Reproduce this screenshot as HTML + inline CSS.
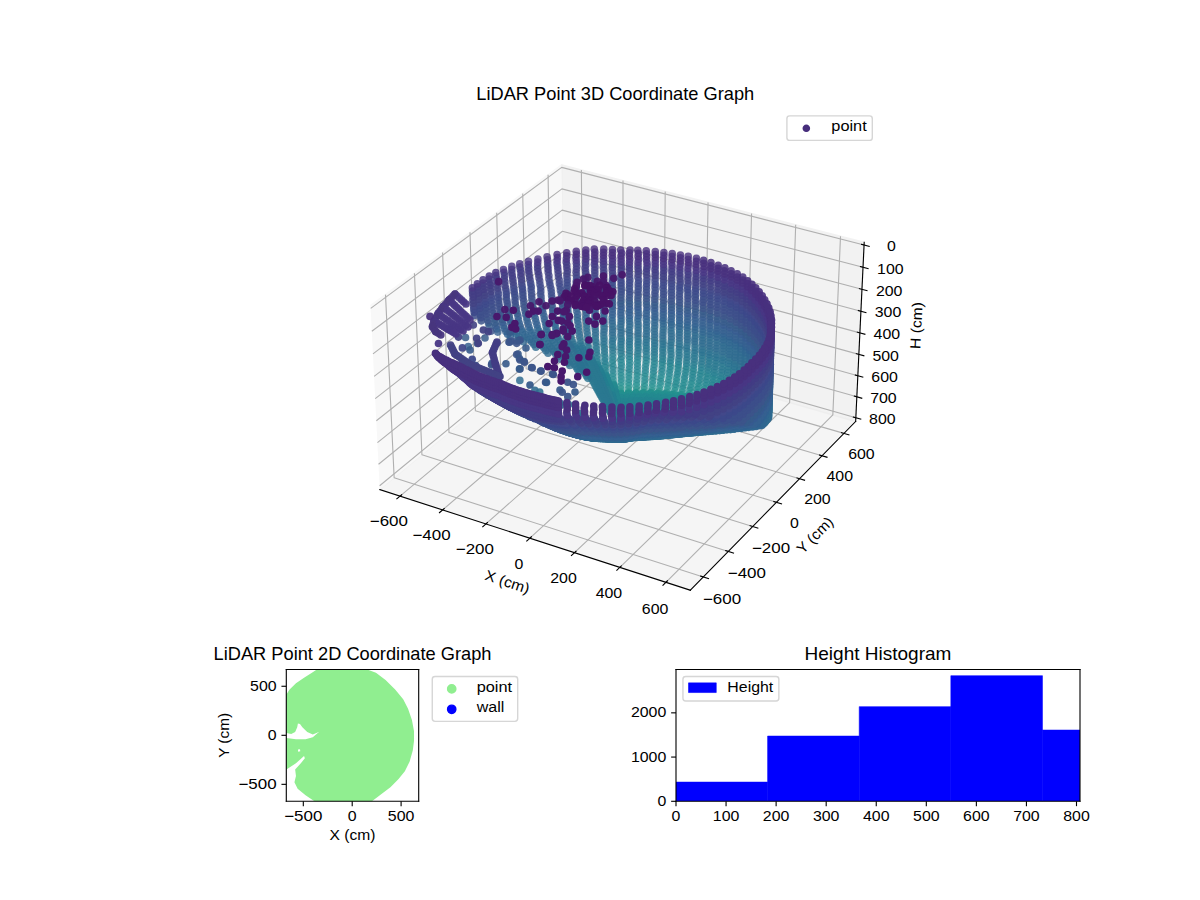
<!DOCTYPE html>
<html><head><meta charset="utf-8"><title>LiDAR Point Graphs</title><style>html,body{margin:0;padding:0;background:#fff;overflow:hidden}svg{display:block}</style></head><body>
<svg width="1200" height="900" viewBox="0 0 864 648" version="1.1">
<defs>
<style type="text/css">.dd path{stroke-linecap:round}.k0{stroke:#249090;stroke-opacity:0.65}.k1{stroke:#248490;stroke-opacity:0.65}.k2{stroke:#24908a;stroke-opacity:0.65}.k3{stroke:#24908a;stroke-opacity:0.70}.k4{stroke:#248490;stroke-opacity:0.70}.k5{stroke:#249090;stroke-opacity:0.70}.k6{stroke:#2a7e90;stroke-opacity:0.70}.k7{stroke:#2a7890;stroke-opacity:0.70}.k8{stroke:#248a90;stroke-opacity:0.70}.k9{stroke:#307290;stroke-opacity:0.70}.k10{stroke:#306c90;stroke-opacity:0.70}.k11{stroke:#248a90;stroke-opacity:0.75}.k12{stroke:#306c90;stroke-opacity:0.75}.k13{stroke:#306690;stroke-opacity:0.75}.k14{stroke:#306090;stroke-opacity:0.75}.k15{stroke:#366090;stroke-opacity:0.80}.k16{stroke:#365a8a;stroke-opacity:0.80}.k17{stroke:#366090;stroke-opacity:0.85}.k18{stroke:#483684;stroke-opacity:0.85}.k19{stroke:#365a8a;stroke-opacity:0.85}.k20{stroke:#306c90;stroke-opacity:0.85}.k21{stroke:#3c4e8a;stroke-opacity:0.85}.k22{stroke:#366090;stroke-opacity:0.90}.k23{stroke:#3c548a;stroke-opacity:0.90}.k24{stroke:#307290;stroke-opacity:0.90}.k25{stroke:#365a8a;stroke-opacity:0.90}.k26{stroke:#2a7290;stroke-opacity:0.90}.k27{stroke:#2a7890;stroke-opacity:0.90}.k28{stroke:#306c90;stroke-opacity:0.90}.k29{stroke:#424284;stroke-opacity:0.90}.k30{stroke:#365a8a;stroke-opacity:0.95}.k31{stroke:#424284;stroke-opacity:0.95}.k32{stroke:#3c548a;stroke-opacity:0.95}.k33{stroke:#306c90;stroke-opacity:0.95}.k34{stroke:#3c488a;stroke-opacity:0.95}.k35{stroke:#306690;stroke-opacity:0.95}.k36{stroke:#3c4e8a;stroke-opacity:0.95}.k37{stroke:#366090;stroke-opacity:0.95}.k38{stroke:#483684;stroke-opacity:0.95}.k39{stroke:#424284;stroke-opacity:1.00}.k40{stroke:#3c488a;stroke-opacity:1.00}.k41{stroke:#48186c;stroke-opacity:1.00}.k42{stroke:#248a90;stroke-opacity:0.65}.k43{stroke:#247e90;stroke-opacity:0.70}.k44{stroke:#2a7290;stroke-opacity:0.70}.k45{stroke:#366090;stroke-opacity:0.75}.k46{stroke:#306090;stroke-opacity:0.80}.k47{stroke:#48367e;stroke-opacity:0.85}.k48{stroke:#423c84;stroke-opacity:0.95}.k49{stroke:#307290;stroke-opacity:0.95}.k50{stroke:#42488a;stroke-opacity:0.95}.k51{stroke:#42488a;stroke-opacity:1.00}.k52{stroke:#1e908a;stroke-opacity:0.65}.k53{stroke:#248490;stroke-opacity:0.75}.k54{stroke:#306690;stroke-opacity:0.80}.k55{stroke:#365a90;stroke-opacity:0.80}.k56{stroke:#3c548a;stroke-opacity:0.80}.k57{stroke:#3c548a;stroke-opacity:0.85}.k58{stroke:#306690;stroke-opacity:0.70}.k59{stroke:#2a7290;stroke-opacity:0.95}.k60{stroke:#306090;stroke-opacity:0.95}.k61{stroke:#307290;stroke-opacity:0.75}.k62{stroke:#365a90;stroke-opacity:0.75}.k63{stroke:#3c4e8a;stroke-opacity:0.80}.k64{stroke:#483684;stroke-opacity:0.90}.k65{stroke:#3c548a;stroke-opacity:1.00}.k66{stroke:#247e90;stroke-opacity:0.65}.k67{stroke:#306090;stroke-opacity:0.70}.k68{stroke:#2a7890;stroke-opacity:0.75}.k69{stroke:#2a7290;stroke-opacity:0.75}.k70{stroke:#365a8a;stroke-opacity:0.75}.k71{stroke:#2a7e90;stroke-opacity:0.65}.k72{stroke:#366090;stroke-opacity:0.70}.k73{stroke:#247e90;stroke-opacity:0.75}.k74{stroke:#48367e;stroke-opacity:0.90}.k75{stroke:#365a8a;stroke-opacity:1.00}.k76{stroke:#3c4e8a;stroke-opacity:1.00}.k77{stroke:#2a7890;stroke-opacity:0.65}.k78{stroke:#2a7e90;stroke-opacity:0.75}.k79{stroke:#3c548a;stroke-opacity:0.75}.k80{stroke:#306c90;stroke-opacity:0.80}.k81{stroke:#3c488a;stroke-opacity:0.85}.k82{stroke:#48186c;stroke-opacity:0.95}.k83{stroke:#3c4e8a;stroke-opacity:0.75}.k84{stroke:#248490;stroke-opacity:0.80}.k85{stroke:#3c488a;stroke-opacity:0.80}.k86{stroke:#307290;stroke-opacity:0.80}.k87{stroke:#247e90;stroke-opacity:0.80}.k88{stroke:#42488a;stroke-opacity:0.85}.k89{stroke:#2a7890;stroke-opacity:0.80}.k90{stroke:#2a7290;stroke-opacity:0.80}.k91{stroke:#2a7e90;stroke-opacity:0.80}.k92{stroke:#42488a;stroke-opacity:0.80}.k93{stroke:#424284;stroke-opacity:0.85}.k94{stroke:#3c488a;stroke-opacity:0.75}.k95{stroke:#424284;stroke-opacity:0.80}.k96{stroke:#423c84;stroke-opacity:0.85}.k97{stroke:#42488a;stroke-opacity:0.75}.k98{stroke:#423c84;stroke-opacity:0.80}.k99{stroke:#423c84;stroke-opacity:1.00}.k100{stroke:#424284;stroke-opacity:0.75}.k101{stroke:#2a7890;stroke-opacity:0.85}.k102{stroke:#483684;stroke-opacity:0.80}.k103{stroke:#423c84;stroke-opacity:0.75}.k104{stroke:#2a7e90;stroke-opacity:0.85}.k105{stroke:#2a7290;stroke-opacity:0.85}.k106{stroke:#481266;stroke-opacity:0.95}.k107{stroke:#307290;stroke-opacity:0.85}.k108{stroke:#48367e;stroke-opacity:0.80}.k109{stroke:#483684;stroke-opacity:1.00}.k110{stroke:#48307e;stroke-opacity:0.80}.k111{stroke:#306690;stroke-opacity:0.85}.k112{stroke:#48307e;stroke-opacity:0.95}.k113{stroke:#306090;stroke-opacity:0.85}.k114{stroke:#48367e;stroke-opacity:0.95}.k115{stroke:#365a90;stroke-opacity:0.85}.k116{stroke:#48367e;stroke-opacity:1.00}.k117{stroke:#247e90;stroke-opacity:0.85}.k118{stroke:#48307e;stroke-opacity:1.00}.k119{stroke:#306690;stroke-opacity:0.90}.k120{stroke:#306090;stroke-opacity:0.90}.k121{stroke:#365a90;stroke-opacity:0.90}.k122{stroke:#248490;stroke-opacity:0.85}.k123{stroke:#3c4e8a;stroke-opacity:0.90}.k124{stroke:#48307e;stroke-opacity:0.85}.k125{stroke:#3c488a;stroke-opacity:0.90}.k126{stroke:#42488a;stroke-opacity:0.90}.k127{stroke:#423c84;stroke-opacity:0.90}.k128{stroke:#48307e;stroke-opacity:0.90}.k129{stroke:#365a90;stroke-opacity:0.95}.k130{stroke:#481266;stroke-opacity:1.00}.k131{stroke:#2a7e90;stroke-opacity:0.90}.k132{stroke:#2a7890;stroke-opacity:0.95}.k133{stroke:#366090;stroke-opacity:1.00}.k134{stroke:#365a90;stroke-opacity:1.00}.k135{stroke:#306090;stroke-opacity:1.00}.k136{stroke:#306690;stroke-opacity:1.00}*{stroke-linejoin: round; stroke-linecap: butt}</style>
</defs>
<g id="figure_1">
<g id="patch_1">
<path d="M 0 648 
L 864 648 
L 864 0 
L 0 0 
z
" style="fill: #ffffff"/>
</g>
<g id="patch_2">
<path d="M 252.9072 458.5752 
L 633.0672 458.5752 
L 633.0672 78.4152 
L 252.9072 78.4152 
z
" style="fill: #ffffff"/>
</g>
<g id="pane3d_1">
<g id="patch_3">
<path d="M 266.799754 220.062721 
L 404.365597 118.692097 
L 405.83635 243.181204 
L 273.465383 352.493935 
" style="fill: #f2f2f2; opacity: 0.5; stroke: #f2f2f2; stroke-linejoin: miter"/>
</g>
</g>
<g id="pane3d_2">
<g id="patch_4">
<path d="M 404.365597 118.692097 
L 622.223167 174.50789 
L 616.069208 303.458314 
L 405.83635 243.181204 
" style="fill: #e6e6e6; opacity: 0.5; stroke: #e6e6e6; stroke-linejoin: miter"/>
</g>
</g>
<g id="pane3d_3">
<g id="patch_5">
<path d="M 273.465383 352.493935 
L 497.003725 424.95138 
L 616.069208 303.458314 
L 405.83635 243.181204 
" style="fill: #ececec; opacity: 0.5; stroke: #ececec; stroke-linejoin: miter"/>
</g>
</g>
<g id="grid3d_1">
<g id="Line3DCollection_1">
<path d="M 288.029684 357.21479 
L 419.59607 247.126335 
L 418.600397 122.339097 
" style="fill: none; stroke: #b0b0b0; stroke-width: 0.8"/>
<path d="M 318.69517 367.154663 
L 448.53898 255.424729 
L 448.553552 130.01319 
" style="fill: none; stroke: #b0b0b0; stroke-width: 0.8"/>
<path d="M 349.840551 377.250089 
L 477.895324 263.84166 
L 478.949726 137.800785 
" style="fill: none; stroke: #b0b0b0; stroke-width: 0.8"/>
<path d="M 381.47718 387.504747 
L 507.674024 272.379688 
L 509.798819 145.704419 
" style="fill: none; stroke: #b0b0b0; stroke-width: 0.8"/>
<path d="M 413.616773 397.922435 
L 537.88426 281.041444 
L 541.111032 153.726706 
" style="fill: none; stroke: #b0b0b0; stroke-width: 0.8"/>
<path d="M 446.271419 408.507072 
L 568.535482 289.829637 
L 572.896871 161.870338 
" style="fill: none; stroke: #b0b0b0; stroke-width: 0.8"/>
<path d="M 479.4536 419.262704 
L 599.637416 298.747057 
L 605.167165 170.138089 
" style="fill: none; stroke: #b0b0b0; stroke-width: 0.8"/>
</g>
</g>
<g id="grid3d_2">
<g id="Line3DCollection_2">
<path d="M 277.565846 212.129317 
L 283.79378 343.964683 
L 506.335628 415.429212 
" style="fill: none; stroke: #b0b0b0; stroke-width: 0.8"/>
<path d="M 298.394948 196.780601 
L 303.791049 327.450819 
L 524.383412 397.013458 
" style="fill: none; stroke: #b0b0b0; stroke-width: 0.8"/>
<path d="M 318.668305 181.841406 
L 323.273749 311.36189 
L 541.941308 379.097581 
" style="fill: none; stroke: #b0b0b0; stroke-width: 0.8"/>
<path d="M 338.407866 167.29556 
L 342.261489 295.681702 
L 559.028994 361.6615 
" style="fill: none; stroke: #b0b0b0; stroke-width: 0.8"/>
<path d="M 357.63444 153.127727 
L 360.772894 280.394874 
L 575.665111 344.686196 
" style="fill: none; stroke: #b0b0b0; stroke-width: 0.8"/>
<path d="M 376.367768 139.323363 
L 378.825666 265.486788 
L 591.867324 328.153641 
" style="fill: none; stroke: #b0b0b0; stroke-width: 0.8"/>
<path d="M 394.626589 125.868656 
L 396.436641 250.94354 
L 607.65239 312.046739 
" style="fill: none; stroke: #b0b0b0; stroke-width: 0.8"/>
</g>
</g>
<g id="grid3d_3">
<g id="Line3DCollection_3">
<path d="M 622.132619 176.405227 
L 404.387199 120.520547 
L 266.897971 222.01409 
" style="fill: none; stroke: #b0b0b0; stroke-width: 0.8"/>
<path d="M 621.367742 192.432511 
L 404.569721 135.969789 
L 267.727473 238.494435 
" style="fill: none; stroke: #b0b0b0; stroke-width: 0.8"/>
<path d="M 620.609559 208.319513 
L 404.750726 151.290623 
L 268.549415 254.824601 
" style="fill: none; stroke: #b0b0b0; stroke-width: 0.8"/>
<path d="M 619.857984 224.068064 
L 404.930233 166.484643 
L 269.363902 271.006633 
" style="fill: none; stroke: #b0b0b0; stroke-width: 0.8"/>
<path d="M 619.11293 239.679967 
L 405.10826 181.553417 
L 270.171033 287.042535 
" style="fill: none; stroke: #b0b0b0; stroke-width: 0.8"/>
<path d="M 618.374313 255.156993 
L 405.284826 196.498488 
L 270.970908 302.93428 
" style="fill: none; stroke: #b0b0b0; stroke-width: 0.8"/>
<path d="M 617.64205 270.500883 
L 405.459948 211.321373 
L 271.763625 318.683802 
" style="fill: none; stroke: #b0b0b0; stroke-width: 0.8"/>
<path d="M 616.916059 285.713346 
L 405.633644 226.023564 
L 272.549279 334.293001 
" style="fill: none; stroke: #b0b0b0; stroke-width: 0.8"/>
<path d="M 616.19626 300.796064 
L 405.805932 240.606528 
L 273.327965 349.763745 
" style="fill: none; stroke: #b0b0b0; stroke-width: 0.8"/>
</g>
</g>
<g id="axis3d_1">
<g id="line2d_1">
<path d="M 273.465383 352.493935 
L 497.003725 424.95138 
" style="fill: none; stroke: #000000; stroke-width: 0.8; stroke-linecap: square"/>
</g>
<g id="xtick_1">
<g id="line2d_2">
<path d="M 289.18037 356.251951 
L 285.723109 359.144822 
" style="fill: none; stroke: #000000; stroke-width: 0.8; stroke-linecap: square"/>
</g>
<g id="text_1">
<text style="font-size:10.55px;font-family:'Liberation Sans',sans-serif;text-anchor:middle" textLength="27.47" lengthAdjust="spacingAndGlyphs" dy="-0.5" x="279.98567" y="379.283114" transform="rotate(-0 279.98567 379.283114)">−600</text>
</g>
</g>
<g id="xtick_2">
<g id="line2d_3">
<path d="M 319.831542 366.176821 
L 316.417248 369.114803 
" style="fill: none; stroke: #000000; stroke-width: 0.8; stroke-linecap: square"/>
</g>
<g id="text_2">
<text style="font-size:10.55px;font-family:'Liberation Sans',sans-serif;text-anchor:middle" textLength="27.47" lengthAdjust="spacingAndGlyphs" dy="-0.5" x="310.691474" y="389.369088" transform="rotate(-0 310.691474 389.369088)">−400</text>
</g>
</g>
<g id="xtick_3">
<g id="line2d_4">
<path d="M 350.962018 376.25689 
L 347.592466 379.241047 
" style="fill: none; stroke: #000000; stroke-width: 0.8; stroke-linecap: square"/>
</g>
<g id="text_3">
<text style="font-size:10.55px;font-family:'Liberation Sans',sans-serif;text-anchor:middle" textLength="27.47" lengthAdjust="spacingAndGlyphs" dy="-0.5" x="341.879429" y="399.613434" transform="rotate(-0 341.879429 399.613434)">−200</text>
</g>
</g>
<g id="xtick_4">
<g id="line2d_5">
<path d="M 382.583129 386.495827 
L 379.260162 389.527257 
" style="fill: none; stroke: #000000; stroke-width: 0.8; stroke-linecap: square"/>
</g>
<g id="text_4">
<text style="font-size:10.55px;font-family:'Liberation Sans',sans-serif;text-anchor:middle" textLength="6.36" lengthAdjust="spacingAndGlyphs" dy="-0.5" x="373.560983" y="410.019913" transform="rotate(-0 373.560983 410.019913)">0</text>
</g>
</g>
<g id="xtick_5">
<g id="line2d_6">
<path d="M 414.706567 396.897418 
L 411.432098 399.977252 
" style="fill: none; stroke: #000000; stroke-width: 0.8; stroke-linecap: square"/>
</g>
<g id="text_5">
<text style="font-size:10.55px;font-family:'Liberation Sans',sans-serif;text-anchor:middle" textLength="19.09" lengthAdjust="spacingAndGlyphs" dy="-0.5" x="405.747946" y="420.592405" transform="rotate(-0 405.747946 420.592405)">200</text>
</g>
</g>
<g id="xtick_6">
<g id="line2d_7">
<path d="M 447.344397 407.46557 
L 444.120414 410.594977 
" style="fill: none; stroke: #000000; stroke-width: 0.8; stroke-linecap: square"/>
</g>
<g id="text_6">
<text style="font-size:10.55px;font-family:'Liberation Sans',sans-serif;text-anchor:middle" textLength="19.09" lengthAdjust="spacingAndGlyphs" dy="-0.5" x="438.45251" y="431.334914" transform="rotate(-0 438.45251 431.334914)">400</text>
</g>
</g>
<g id="xtick_7">
<g id="line2d_8">
<path d="M 480.509075 418.204314 
L 477.337644 421.384502 
" style="fill: none; stroke: #000000; stroke-width: 0.8; stroke-linecap: square"/>
</g>
<g id="text_7">
<text style="font-size:10.55px;font-family:'Liberation Sans',sans-serif;text-anchor:middle" textLength="19.09" lengthAdjust="spacingAndGlyphs" dy="-0.5" x="471.687261" y="442.251574" transform="rotate(-0 471.687261 442.251574)">600</text>
</g>
</g>
<g id="text_8">
<text style="font-size:10.55px;font-family:'Liberation Sans',sans-serif;text-anchor:middle" textLength="33.07" lengthAdjust="spacingAndGlyphs" dy="-0.5" x="364.020647" y="422.912123" transform="rotate(-342.04048 364.020647 422.912123)">X (cm)</text>
</g>
</g>
<g id="axis3d_2">
<g id="line2d_9">
<path d="M 616.069208 303.458314 
L 497.003725 424.95138 
" style="fill: none; stroke: #000000; stroke-width: 0.8; stroke-linecap: square"/>
</g>
<g id="xtick_8">
<g id="line2d_10">
<path d="M 504.455724 414.825521 
L 510.100531 416.638229 
" style="fill: none; stroke: #000000; stroke-width: 0.8; stroke-linecap: square"/>
</g>
<g id="text_9">
<text style="font-size:10.55px;font-family:'Liberation Sans',sans-serif;text-anchor:middle" textLength="27.47" lengthAdjust="spacingAndGlyphs" dy="-0.5" x="519.873682" y="435.058456" transform="rotate(-0 519.873682 435.058456)">−600</text>
</g>
</g>
<g id="xtick_9">
<g id="line2d_11">
<path d="M 522.521333 396.426261 
L 528.112546 398.189421 
" style="fill: none; stroke: #000000; stroke-width: 0.8; stroke-linecap: square"/>
</g>
<g id="text_10">
<text style="font-size:10.55px;font-family:'Liberation Sans',sans-serif;text-anchor:middle" textLength="27.47" lengthAdjust="spacingAndGlyphs" dy="-0.5" x="537.75346" y="416.458177" transform="rotate(-0 537.75346 416.458177)">−400</text>
</g>
</g>
<g id="xtick_10">
<g id="line2d_12">
<path d="M 540.096786 378.526211 
L 545.635214 380.241826 
" style="fill: none; stroke: #000000; stroke-width: 0.8; stroke-linecap: square"/>
</g>
<g id="text_11">
<text style="font-size:10.55px;font-family:'Liberation Sans',sans-serif;text-anchor:middle" textLength="27.47" lengthAdjust="spacingAndGlyphs" dy="-0.5" x="555.147421" y="398.363293" transform="rotate(-0 555.147421 398.363293)">−200</text>
</g>
</g>
<g id="xtick_11">
<g id="line2d_13">
<path d="M 557.201762 361.105326 
L 562.68821 362.775294 
" style="fill: none; stroke: #000000; stroke-width: 0.8; stroke-linecap: square"/>
</g>
<g id="text_12">
<text style="font-size:10.55px;font-family:'Liberation Sans',sans-serif;text-anchor:middle" textLength="6.36" lengthAdjust="spacingAndGlyphs" dy="-0.5" x="572.0751" y="380.753481" transform="rotate(-0 572.0751 380.753481)">0</text>
</g>
</g>
<g id="xtick_12">
<g id="line2d_14">
<path d="M 573.854905 344.144619 
L 579.290167 345.770738 
" style="fill: none; stroke: #000000; stroke-width: 0.8; stroke-linecap: square"/>
</g>
<g id="text_13">
<text style="font-size:10.55px;font-family:'Liberation Sans',sans-serif;text-anchor:middle" textLength="19.09" lengthAdjust="spacingAndGlyphs" dy="-0.5" x="588.554998" y="363.609494" transform="rotate(-0 588.554998 363.609494)">200</text>
</g>
</g>
<g id="xtick_13">
<g id="line2d_15">
<path d="M 590.073884 327.626096 
L 595.458745 329.210069 
" style="fill: none; stroke: #000000; stroke-width: 0.8; stroke-linecap: square"/>
</g>
<g id="text_14">
<text style="font-size:10.55px;font-family:'Liberation Sans',sans-serif;text-anchor:middle" textLength="19.09" lengthAdjust="spacingAndGlyphs" dy="-0.5" x="604.60465" y="346.91309" transform="rotate(-0 604.60465 346.91309)">400</text>
</g>
</g>
<g id="xtick_14">
<g id="line2d_16">
<path d="M 605.875459 311.532685 
L 611.210697 313.076131 
" style="fill: none; stroke: #000000; stroke-width: 0.8; stroke-linecap: square"/>
</g>
<g id="text_15">
<text style="font-size:10.55px;font-family:'Liberation Sans',sans-serif;text-anchor:middle" textLength="19.09" lengthAdjust="spacingAndGlyphs" dy="-0.5" x="620.240689" y="330.646967" transform="rotate(-0 620.240689 330.646967)">600</text>
</g>
</g>
<g id="text_16">
<text style="font-size:10.55px;font-family:'Liberation Sans',sans-serif;text-anchor:middle" textLength="32.33" lengthAdjust="spacingAndGlyphs" dy="-0.5" x="589.704412" y="388.277729" transform="rotate(-45.578177 589.704412 388.277729)">Y (cm)</text>
</g>
</g>
<g id="axis3d_3">
<g id="line2d_17">
<path d="M 616.069208 303.458314 
L 622.223167 174.50789 
" style="fill: none; stroke: #000000; stroke-width: 0.8; stroke-linecap: square"/>
</g>
<g id="xtick_15">
<g id="line2d_18">
<path d="M 620.298157 175.934409 
L 625.806263 177.348072 
" style="fill: none; stroke: #000000; stroke-width: 0.8; stroke-linecap: square"/>
</g>
<g id="text_17">
<text style="font-size:10.55px;font-family:'Liberation Sans',sans-serif;text-anchor:middle" textLength="6.36" lengthAdjust="spacingAndGlyphs" dy="-0.5" x="641.897408" y="181.466047" transform="rotate(-0 641.897408 181.466047)">0</text>
</g>
</g>
<g id="xtick_16">
<g id="line2d_19">
<path d="M 619.541666 191.95693 
L 625.024571 193.384893 
" style="fill: none; stroke: #000000; stroke-width: 0.8; stroke-linecap: square"/>
</g>
<g id="text_18">
<text style="font-size:10.55px;font-family:'Liberation Sans',sans-serif;text-anchor:middle" textLength="19.09" lengthAdjust="spacingAndGlyphs" dy="-0.5" x="641.047609" y="197.467631" transform="rotate(-0 641.047609 197.467631)">100</text>
</g>
</g>
<g id="xtick_17">
<g id="line2d_20">
<path d="M 618.791794 207.839268 
L 624.249726 209.281228 
" style="fill: none; stroke: #000000; stroke-width: 0.8; stroke-linecap: square"/>
</g>
<g id="text_19">
<text style="font-size:10.55px;font-family:'Liberation Sans',sans-serif;text-anchor:middle" textLength="19.09" lengthAdjust="spacingAndGlyphs" dy="-0.5" x="640.205231" y="213.329476" transform="rotate(-0 640.205231 213.329476)">200</text>
</g>
</g>
<g id="xtick_18">
<g id="line2d_21">
<path d="M 618.048453 223.583255 
L 623.48164 225.038914 
" style="fill: none; stroke: #000000; stroke-width: 0.8; stroke-linecap: square"/>
</g>
<g id="text_20">
<text style="font-size:10.55px;font-family:'Liberation Sans',sans-serif;text-anchor:middle" textLength="19.09" lengthAdjust="spacingAndGlyphs" dy="-0.5" x="639.370178" y="229.053406" transform="rotate(-0 639.370178 229.053406)">300</text>
</g>
</g>
<g id="xtick_19">
<g id="line2d_22">
<path d="M 617.31156 239.190691 
L 622.720224 240.659757 
" style="fill: none; stroke: #000000; stroke-width: 0.8; stroke-linecap: square"/>
</g>
<g id="text_21">
<text style="font-size:10.55px;font-family:'Liberation Sans',sans-serif;text-anchor:middle" textLength="19.09" lengthAdjust="spacingAndGlyphs" dy="-0.5" x="638.542354" y="244.641211" transform="rotate(-0 638.542354 244.641211)">400</text>
</g>
</g>
<g id="xtick_20">
<g id="line2d_23">
<path d="M 616.581031 254.663345 
L 621.965392 256.145533 
" style="fill: none; stroke: #000000; stroke-width: 0.8; stroke-linecap: square"/>
</g>
<g id="text_22">
<text style="font-size:10.55px;font-family:'Liberation Sans',sans-serif;text-anchor:middle" textLength="19.09" lengthAdjust="spacingAndGlyphs" dy="-0.5" x="637.721665" y="260.094651" transform="rotate(-0 637.721665 260.094651)">500</text>
</g>
</g>
<g id="xtick_21">
<g id="line2d_24">
<path d="M 615.856783 270.002955 
L 621.217058 271.497985 
" style="fill: none; stroke: #000000; stroke-width: 0.8; stroke-linecap: square"/>
</g>
<g id="text_23">
<text style="font-size:10.55px;font-family:'Liberation Sans',sans-serif;text-anchor:middle" textLength="19.09" lengthAdjust="spacingAndGlyphs" dy="-0.5" x="636.90802" y="275.415456" transform="rotate(-0 636.90802 275.415456)">600</text>
</g>
</g>
<g id="xtick_22">
<g id="line2d_25">
<path d="M 615.138736 285.211231 
L 620.47514 286.718828 
" style="fill: none; stroke: #000000; stroke-width: 0.8; stroke-linecap: square"/>
</g>
<g id="text_24">
<text style="font-size:10.55px;font-family:'Liberation Sans',sans-serif;text-anchor:middle" textLength="19.09" lengthAdjust="spacingAndGlyphs" dy="-0.5" x="636.101329" y="290.605326" transform="rotate(-0 636.101329 290.605326)">700</text>
</g>
</g>
<g id="xtick_23">
<g id="line2d_26">
<path d="M 614.42681 300.289851 
L 619.739554 301.809748 
" style="fill: none; stroke: #000000; stroke-width: 0.8; stroke-linecap: square"/>
</g>
<g id="text_25">
<text style="font-size:10.55px;font-family:'Liberation Sans',sans-serif;text-anchor:middle" textLength="19.09" lengthAdjust="spacingAndGlyphs" dy="-0.5" x="635.301503" y="305.665933" transform="rotate(-0 635.301503 305.665933)">800</text>
</g>
</g>
<g id="text_26">
<text style="font-size:10.55px;font-family:'Liberation Sans',sans-serif;text-anchor:middle" textLength="33.74" lengthAdjust="spacingAndGlyphs" dy="-0.5" x="663.967469" y="234.555313" transform="rotate(-87.267721 663.967469 234.555313)">H (cm)</text>
</g>
</g>
<g id="axes_1">
<defs>
<path id="C0_0_d8d381cc6d" d="M 0 2.236068 
C 0.593012 2.236068 1.161816 2.000462 1.581139 1.581139 
C 2.000462 1.161816 2.236068 0.593012 2.236068 -0 
C 2.236068 -0.593012 2.000462 -1.161816 1.581139 -1.581139 
C 1.161816 -2.000462 0.593012 -2.236068 0 -2.236068 
C -0.593012 -2.236068 -1.161816 -2.000462 -1.581139 -1.581139 
C -2.000462 -1.161816 -2.236068 -0.593012 -2.236068 0 
C -2.236068 0.593012 -2.000462 1.161816 -1.581139 1.581139 
C -1.161816 2.000462 -0.593012 2.236068 0 2.236068 
z
"/>
</defs><g class="dd" style="fill:none;stroke-width:5.47"><path class="k0" d="M447.2 275.3h0M452.6 275.4h0M458.4 275.6h0M463.9 278.3h0M469.4 278.9h0M474.7 279.5h0"/><path class="k1" d="M441.4 268.7h0"/><path class="k2" d="M480.0 282.7h0"/><path class="k3" d="M485.4 283.7h0"/><path class="k4" d="M435.9 262.3h0"/><path class="k5" d="M491.1 282.4h0M496.4 283.6h0M500.9 284.9h0"/><path class="k6" d="M430.0 256.0h0"/><path class="k7" d="M423.9 250.6h0"/><path class="k8" d="M506.7 282.4h0M511.5 282.0h0"/><path class="k9" d="M417.5 242.9h0"/><path class="k10" d="M410.9 239.7h0"/><path class="k11" d="M516.5 281.9h0"/><path class="k12" d="M401.2 240.3h0"/><path class="k13" d="M394.2 239.5h0M387.1 236.3h0M381.6 237.8h0"/><path class="k14" d="M375.4 237.3h0"/><path class="k15" d="M368.8 237.0h0M364.2 238.7h0M358.4 239.1h0"/><path class="k16" d="M352.3 234.9h0"/><path class="k17" d="M337.2 249.6h0"/><path class="k18" d="M327.6 211.7h0"/><path class="k19" d="M335.2 243.0h0M349.2 243.4h0"/><path class="k20" d="M374.3 273.9h0"/><path class="k21" d="M324.0 236.3h0"/><path class="k22" d="M354.2 261.5h0"/><path class="k23" d="M357.8 247.0h0"/><path class="k24" d="M388.6 282.3h0"/><path class="k25" d="M343.8 247.3h0M378.7 250.6h0M373.0 254.9h0M364.3 261.9h0"/><path class="k26" d="M403.1 290.2h0M409.4 291.2h0M409.6 301.7h0"/><path class="k27" d="M417.9 297.7h0M439.3 308.1h0M428.7 309.0h0"/><path class="k28" d="M398.4 289.8h0M389.8 287.8h0"/><path class="k29" d="M340.8 234.0h0"/><path class="k30" d="M382.7 264.6h0M389.2 267.1h0M397.8 269.3h0M362.8 280.0h0M381.6 277.2h0M403.2 280.8h0M414.0 282.2h0M367.1 287.4h0"/><path class="k31" d="M348.0 237.6h0M330.1 242.7h0M324.4 248.4h0"/><path class="k32" d="M374.4 265.6h0M392.8 275.2h0M408.8 275.2h0M356.6 280.9h0M408.8 285.6h0"/><path class="k33" d="M394.4 295.7h0M400.0 302.2h0"/><path class="k34" d="M340.0 258.7h0"/><path class="k35" d="M390.0 297.5h0"/><path class="k36" d="M342.5 263.2h0"/><path class="k37" d="M378.7 292.9h0M383.8 296.7h0"/><path class="k38" d="M315.7 247.3h0"/><path class="k39" d="M336.7 270.8h0"/><path class="k40" d="M347.6 278.5h0"/><path class="k41" d="M394.4 264.0h0M399.2 264.8h0M404.8 267.2h0"/><path class="k0" d="M447.2 277.7h0M452.8 277.8h0M458.2 278.0h0M464.2 276.0h0M469.9 276.5h0M475.4 277.2h0M480.4 280.3h0"/><path class="k42" d="M447.3 272.9h0M452.9 273.0h0M458.6 273.2h0M441.3 271.1h0"/><path class="k2" d="M463.8 280.7h0M469.3 281.3h0M474.6 281.9h0"/><path class="k1" d="M441.3 266.3h0"/><path class="k5" d="M485.8 281.3h0M491.5 280.0h0M496.7 281.2h0M501.6 282.8h0M506.1 284.4h0"/><path class="k4" d="M435.7 264.7h0"/><path class="k43" d="M435.4 259.9h0"/><path class="k6" d="M429.9 258.5h0"/><path class="k7" d="M429.4 253.7h0M424.3 253.0h0"/><path class="k44" d="M423.3 248.3h0"/><path class="k9" d="M417.8 245.3h0"/><path class="k10" d="M417.0 240.5h0M411.1 242.1h0M410.4 237.3h0"/><path class="k8" d="M510.8 283.8h0"/><path class="k11" d="M515.5 283.5h0"/><path class="k12" d="M401.3 242.7h0"/><path class="k13" d="M400.4 238.0h0M393.5 237.1h0"/><path class="k14" d="M386.6 233.9h0M380.9 235.6h0"/><path class="k45" d="M374.5 235.0h0"/><path class="k46" d="M370.1 238.9h0M365.5 240.7h0"/><path class="k15" d="M363.2 236.6h0M357.6 236.9h0"/><path class="k16" d="M351.7 232.6h0"/><path class="k47" d="M327.6 211.8h0"/><path class="k28" d="M385.1 281.0h0M395.9 288.4h0"/><path class="k25" d="M338.4 252.0h0"/><path class="k27" d="M419.9 299.2h0"/><path class="k24" d="M403.5 291.9h0"/><path class="k23" d="M372.0 255.2h0"/><path class="k32" d="M383.2 264.8h0M353.9 262.7h0M389.6 267.2h0M398.4 269.6h0M412.8 276.8h0M404.8 282.4h0M357.4 282.1h0M365.3 288.6h0"/><path class="k30" d="M374.0 265.7h0M393.5 275.4h0"/><path class="k48" d="M323.5 237.2h0M357.8 246.2h0"/><path class="k49" d="M407.1 303.5h0"/><path class="k33" d="M396.5 299.1h0"/><path class="k31" d="M343.2 243.6h0M325.2 250.0h0"/><path class="k50" d="M332.9 250.5h0"/><path class="k35" d="M390.3 298.4h0"/><path class="k37" d="M376.3 291.8h0M381.5 295.7h0"/><path class="k39" d="M337.6 271.6h0"/><path class="k51" d="M346.1 278.2h0"/><path class="k41" d="M404.0 271.2h0"/><path class="k2" d="M447.0 280.1h0M452.5 280.1h0M458.3 280.4h0M474.2 283.1h0"/><path class="k42" d="M447.2 270.5h0M452.8 270.6h0M458.7 270.8h0M464.3 273.6h0M470.0 274.1h0M441.5 273.5h0M475.6 274.8h0"/><path class="k52" d="M463.5 282.7h0M468.7 282.8h0"/><path class="k1" d="M441.4 263.9h0"/><path class="k0" d="M481.0 278.0h0"/><path class="k5" d="M486.2 278.9h0M495.6 285.1h0"/><path class="k3" d="M479.4 283.5h0M484.3 283.9h0M490.6 284.3h0"/><path class="k4" d="M435.9 267.1h0"/><path class="k43" d="M435.6 257.5h0M430.1 260.8h0"/><path class="k8" d="M491.8 277.7h0M497.3 279.0h0M502.1 280.5h0M507.2 280.1h0M504.5 284.7h0M512.3 279.8h0"/><path class="k7" d="M429.4 251.3h0M424.4 255.2h0"/><path class="k44" d="M423.3 245.8h0M418.0 247.7h0"/><path class="k10" d="M416.7 238.1h0M410.2 234.9h0"/><path class="k9" d="M411.6 244.4h0"/><path class="k11" d="M509.3 284.3h0"/><path class="k53" d="M517.1 279.6h0"/><path class="k13" d="M400.0 235.6h0M393.1 234.8h0M388.0 238.4h0M382.9 239.7h0M376.4 239.1h0"/><path class="k12" d="M402.5 244.3h0M395.5 241.3h0"/><path class="k45" d="M385.9 231.7h0M380.3 233.2h0M373.9 232.7h0"/><path class="k15" d="M368.6 234.5h0M362.5 234.3h0"/><path class="k54" d="M371.7 240.7h0"/><path class="k55" d="M357.1 234.5h0"/><path class="k56" d="M351.1 230.5h0"/><path class="k57" d="M353.4 238.5h0"/><path class="k18" d="M329.2 213.1h0"/><path class="k25" d="M374.0 258.1h0"/><path class="k27" d="M421.3 303.4h0"/><path class="k28" d="M400.4 294.7h0"/><path class="k48" d="M357.0 248.1h0"/><path class="k31" d="M344.4 247.2h0M326.0 251.6h0"/><path class="k35" d="M388.2 298.4h0"/><path class="k37" d="M380.5 295.6h0"/><path class="k32" d="M359.0 284.3h0"/><path class="k30" d="M372.1 292.5h0"/><path class="k39" d="M338.6 272.6h0"/><path class="k51" d="M347.1 278.9h0"/><path class="k41" d="M404.0 274.4h0"/><path class="k52" d="M447.1 282.5h0M452.6 282.5h0M458.0 282.7h0"/><path class="k42" d="M447.1 268.2h0M452.9 268.2h0M458.8 268.4h0M464.3 271.2h0M470.3 271.7h0M475.8 272.4h0M481.0 275.6h0"/><path class="k0" d="M441.5 275.9h0"/><path class="k1" d="M441.0 261.6h0"/><path class="k2" d="M463.1 283.1h0"/><path class="k3" d="M468.4 283.2h0M473.4 283.4h0"/><path class="k8" d="M486.6 276.6h0M492.6 275.4h0M497.7 276.6h0M502.8 278.2h0M508.0 277.8h0"/><path class="k4" d="M435.9 269.5h0"/><path class="k6" d="M435.3 255.1h0"/><path class="k5" d="M478.5 283.8h0M489.4 284.6h0M483.6 284.3h0M494.3 285.4h0M499.8 285.3h0"/><path class="k7" d="M429.2 248.9h0M425.1 256.6h0"/><path class="k43" d="M430.5 262.9h0"/><path class="k9" d="M423.0 243.5h0M412.3 246.3h0"/><path class="k10" d="M416.5 235.8h0"/><path class="k44" d="M418.5 249.4h0"/><path class="k58" d="M409.9 232.5h0"/><path class="k53" d="M512.8 277.5h0M517.6 277.3h0M521.1 281.8h0"/><path class="k11" d="M508.0 284.8h0M513.8 284.0h0"/><path class="k13" d="M399.5 233.2h0M389.3 240.2h0M384.5 241.5h0M378.1 240.9h0"/><path class="k14" d="M392.7 232.4h0"/><path class="k12" d="M403.5 246.1h0M396.8 243.1h0"/><path class="k45" d="M385.5 229.3h0M379.5 231.0h0M373.3 230.4h0"/><path class="k15" d="M367.6 232.4h0"/><path class="k54" d="M373.6 242.4h0"/><path class="k55" d="M361.8 232.1h0"/><path class="k46" d="M367.4 242.4h0"/><path class="k16" d="M356.5 232.3h0"/><path class="k56" d="M350.6 228.2h0"/><path class="k57" d="M346.5 231.0h0"/><path class="k47" d="M326.2 213.2h0"/><path class="k18" d="M330.8 214.6h0"/><path class="k23" d="M374.4 259.2h0"/><path class="k59" d="M419.1 307.3h0"/><path class="k31" d="M351.6 238.8h0M326.8 253.3h0"/><path class="k48" d="M356.2 250.0h0"/><path class="k60" d="M389.4 299.9h0"/><path class="k30" d="M377.1 296.3h0"/><path class="k32" d="M361.0 286.4h0M368.9 291.6h0"/><path class="k39" d="M339.2 273.1h0"/><path class="k51" d="M348.2 279.7h0"/><path class="k41" d="M400.8 240.0h0"/><path class="k1" d="M447.1 265.8h0M453.0 265.9h0M458.8 266.1h0M441.2 259.2h0"/><path class="k42" d="M464.5 268.8h0M470.3 269.4h0M476.1 270.1h0M481.6 273.3h0M441.9 276.8h0"/><path class="k52" d="M447.2 283.4h0M452.4 283.1h0M457.7 283.1h0"/><path class="k8" d="M487.1 274.3h0M492.7 273.0h0M498.3 274.3h0M503.2 275.9h0M503.2 285.2h0"/><path class="k7" d="M435.2 252.8h0M425.6 258.0h0"/><path class="k3" d="M462.6 283.4h0"/><path class="k5" d="M467.8 283.6h0M472.9 283.8h0M477.7 284.2h0M488.3 285.0h0M482.7 284.7h0M493.2 285.7h0M498.5 285.7h0"/><path class="k4" d="M436.3 270.4h0M508.4 275.5h0"/><path class="k44" d="M429.1 246.5h0M419.4 251.0h0"/><path class="k43" d="M430.7 264.1h0"/><path class="k10" d="M423.0 241.1h0"/><path class="k58" d="M416.3 233.4h0M409.6 230.1h0"/><path class="k61" d="M413.1 248.0h0"/><path class="k53" d="M513.3 275.2h0M518.1 275.1h0M520.0 283.3h0"/><path class="k12" d="M408.4 246.2h0M397.8 245.0h0"/><path class="k14" d="M399.2 230.8h0"/><path class="k45" d="M392.0 230.1h0M384.7 227.0h0M379.1 228.6h0"/><path class="k11" d="M512.2 284.5h0"/><path class="k13" d="M390.6 242.1h0M385.8 243.4h0"/><path class="k62" d="M373.0 228.0h0"/><path class="k54" d="M379.5 242.7h0"/><path class="k55" d="M367.1 230.1h0"/><path class="k16" d="M361.4 229.8h0M356.1 229.9h0"/><path class="k63" d="M350.2 226.0h0"/><path class="k21" d="M346.2 228.7h0"/><path class="k19" d="M367.2 239.0h0"/><path class="k47" d="M324.8 214.6h0"/><path class="k64" d="M332.4 216.0h0"/><path class="k25" d="M377.3 260.3h0"/><path class="k59" d="M422.4 310.0h0M416.0 307.8h0"/><path class="k48" d="M355.4 251.9h0"/><path class="k31" d="M327.6 254.9h0"/><path class="k35" d="M392.9 302.0h0"/><path class="k37" d="M387.3 301.1h0"/><path class="k65" d="M370.3 292.9h0M374.5 295.6h0"/><path class="k39" d="M340.2 273.9h0"/><path class="k51" d="M349.1 280.5h0"/><path class="k41" d="M400.4 240.3h0"/><path class="k1" d="M447.4 263.4h0M453.2 263.5h0M459.0 263.7h0M464.7 266.5h0M470.6 267.0h0M476.7 267.7h0"/><path class="k66" d="M441.2 256.9h0"/><path class="k52" d="M447.1 283.7h0M452.5 283.5h0"/><path class="k42" d="M481.8 270.9h0"/><path class="k3" d="M457.5 283.4h0"/><path class="k8" d="M487.3 271.9h0M441.9 277.4h0"/><path class="k7" d="M435.1 250.4h0"/><path class="k4" d="M493.1 270.7h0M436.7 271.2h0M498.6 272.0h0M503.7 273.6h0M508.9 273.2h0"/><path class="k5" d="M462.3 283.8h0M467.2 283.9h0M472.0 284.2h0M477.1 284.6h0M487.4 285.4h0M481.7 285.0h0M497.2 286.0h0"/><path class="k44" d="M428.7 244.2h0"/><path class="k10" d="M422.6 238.7h0"/><path class="k43" d="M431.3 265.2h0"/><path class="k58" d="M415.9 231.0h0"/><path class="k67" d="M409.5 227.8h0"/><path class="k68" d="M426.2 259.4h0"/><path class="k69" d="M420.1 252.6h0M413.9 249.7h0"/><path class="k53" d="M513.8 273.0h0M518.7 272.9h0M521.6 279.5h0M518.2 283.8h0"/><path class="k11" d="M501.8 285.6h0"/><path class="k12" d="M407.8 243.8h0M404.6 247.9h0M399.0 246.8h0M391.9 243.9h0"/><path class="k45" d="M398.6 228.5h0M391.7 227.7h0"/><path class="k62" d="M384.4 224.6h0M378.4 226.3h0"/><path class="k70" d="M372.4 225.7h0"/><path class="k54" d="M381.2 244.5h0M375.1 244.3h0"/><path class="k16" d="M366.7 227.7h0M361.1 227.4h0"/><path class="k56" d="M355.5 227.7h0"/><path class="k21" d="M349.9 223.7h0M345.8 226.5h0"/><path class="k64" d="M323.3 216.0h0M333.9 217.4h0"/><path class="k23" d="M377.6 260.8h0"/><path class="k59" d="M420.7 310.7h0"/><path class="k49" d="M413.0 308.1h0"/><path class="k48" d="M354.6 253.8h0"/><path class="k31" d="M327.6 254.9h0"/><path class="k60" d="M392.8 303.4h0"/><path class="k37" d="M387.5 301.6h0"/><path class="k65" d="M368.2 291.9h0M375.8 296.7h0"/><path class="k39" d="M341.2 274.8h0"/><path class="k41" d="M370.7 232.9h0M395.4 232.9h0M397.6 240.8h0M424.0 244.8h0"/><path class="k1" d="M447.3 261.1h0M453.4 261.2h0M458.9 261.4h0M464.8 264.1h0M470.8 264.7h0M476.7 265.4h0M482.0 268.5h0"/><path class="k71" d="M441.3 254.5h0"/><path class="k3" d="M447.2 284.1h0M452.3 283.9h0"/><path class="k4" d="M487.6 269.5h0M493.6 268.4h0M498.8 269.7h0M436.8 272.1h0M504.1 271.3h0M509.1 270.9h0"/><path class="k7" d="M434.8 248.1h0"/><path class="k5" d="M457.5 283.8h0M466.7 284.3h0M471.4 284.6h0M476.1 285.0h0M491.9 286.0h0M486.4 285.7h0M480.8 285.4h0"/><path class="k8" d="M442.1 278.0h0"/><path class="k9" d="M428.7 241.8h0"/><path class="k10" d="M422.5 236.3h0"/><path class="k43" d="M431.8 266.3h0"/><path class="k58" d="M415.7 228.7h0"/><path class="k72" d="M409.1 225.4h0"/><path class="k53" d="M514.0 270.6h0M522.0 277.2h0M516.4 284.3h0M525.4 281.8h0"/><path class="k68" d="M426.7 260.9h0"/><path class="k69" d="M420.8 254.2h0M414.8 251.3h0"/><path class="k11" d="M506.1 285.1h0"/><path class="k12" d="M407.6 241.4h0M409.5 247.8h0M400.3 248.7h0M393.1 245.8h0"/><path class="k73" d="M518.8 270.5h0"/><path class="k45" d="M398.1 226.2h0M391.0 225.4h0"/><path class="k70" d="M384.1 222.3h0M378.1 223.9h0"/><path class="k13" d="M387.4 245.1h0"/><path class="k16" d="M371.8 223.5h0M366.2 225.4h0"/><path class="k54" d="M382.8 246.3h0M376.8 246.1h0"/><path class="k56" d="M360.3 225.2h0M355.0 225.5h0"/><path class="k21" d="M349.6 221.5h0M345.6 224.2h0M341.5 227.3h0"/><path class="k74" d="M323.4 216.0h0"/><path class="k64" d="M335.5 218.9h0"/><path class="k33" d="M411.3 307.9h0"/><path class="k48" d="M354.6 253.8h0"/><path class="k31" d="M329.1 256.0h0"/><path class="k75" d="M383.4 300.3h0"/><path class="k65" d="M377.5 297.7h0"/><path class="k76" d="M365.7 291.3h0"/><path class="k39" d="M342.2 275.6h0"/><path class="k41" d="M368.5 235.7h0M389.7 240.8h0M397.6 241.6h0"/><path class="k1" d="M447.0 258.8h0M453.2 258.9h0M459.1 259.1h0M465.1 261.8h0M471.1 262.4h0M476.8 263.1h0"/><path class="k77" d="M441.2 252.2h0"/><path class="k4" d="M482.4 266.2h0M488.2 267.3h0M493.9 266.1h0M499.1 267.4h0M504.4 269.0h0M437.2 273.0h0M509.6 268.7h0"/><path class="k44" d="M434.9 245.8h0"/><path class="k5" d="M447.3 284.4h0M452.0 284.2h0M457.0 284.2h0M461.8 284.2h0M470.8 285.0h0M490.8 286.4h0M485.1 286.1h0"/><path class="k10" d="M428.8 239.5h0M422.4 234.0h0"/><path class="k8" d="M442.0 278.6h0"/><path class="k67" d="M415.9 226.3h0"/><path class="k43" d="M432.2 267.5h0"/><path class="k45" d="M408.8 223.1h0"/><path class="k11" d="M495.9 286.4h0"/><path class="k73" d="M514.3 268.3h0"/><path class="k68" d="M427.5 262.3h0"/><path class="k69" d="M421.4 255.9h0M415.9 253.0h0"/><path class="k13" d="M407.3 239.0h0"/><path class="k78" d="M519.4 268.3h0"/><path class="k62" d="M398.0 223.8h0M390.6 223.1h0"/><path class="k12" d="M410.6 249.5h0M405.6 249.8h0M394.6 247.6h0"/><path class="k53" d="M522.6 275.0h0M510.4 284.9h0M524.5 283.2h0"/><path class="k79" d="M383.5 220.0h0M377.6 221.7h0"/><path class="k56" d="M371.5 221.1h0M365.8 223.1h0M359.9 223.0h0"/><path class="k80" d="M388.7 247.0h0"/><path class="k63" d="M354.7 223.2h0"/><path class="k81" d="M345.4 221.9h0M341.4 224.9h0"/><path class="k57" d="M374.4 244.8h0"/><path class="k74" d="M323.4 216.0h0"/><path class="k33" d="M408.2 306.8h0"/><path class="k48" d="M355.1 256.0h0"/><path class="k31" d="M330.7 257.0h0"/><path class="k41" d="M357.8 227.9h0M364.5 228.5h0M371.3 236.9h0M389.6 240.8h0"/><path class="k39" d="M343.3 276.4h0"/><path class="k65" d="M381.2 299.8h0M376.5 297.5h0"/><path class="k76" d="M368.2 293.4h0"/><path class="k66" d="M447.6 256.6h0M453.2 256.7h0M459.2 256.9h0"/><path class="k1" d="M465.3 259.5h0M471.1 260.1h0"/><path class="k4" d="M476.9 260.7h0M482.6 263.9h0M488.2 264.9h0M494.2 263.8h0M499.4 265.1h0M504.9 266.8h0M437.4 273.9h0"/><path class="k7" d="M441.3 250.0h0"/><path class="k44" d="M434.9 243.5h0"/><path class="k5" d="M447.1 284.8h0M451.9 284.6h0M456.9 284.6h0M475.4 285.4h0"/><path class="k10" d="M428.6 237.2h0"/><path class="k8" d="M442.3 279.3h0"/><path class="k58" d="M422.2 231.7h0"/><path class="k72" d="M415.2 224.0h0"/><path class="k43" d="M510.0 266.4h0"/><path class="k45" d="M408.9 220.8h0"/><path class="k11" d="M489.5 286.8h0M494.6 286.8h0M500.4 286.0h0"/><path class="k73" d="M432.8 268.6h0M523.2 272.8h0"/><path class="k78" d="M514.7 266.1h0"/><path class="k13" d="M406.6 236.7h0"/><path class="k68" d="M428.0 263.7h0M519.9 266.2h0"/><path class="k69" d="M422.4 257.4h0M416.5 254.7h0"/><path class="k70" d="M397.8 221.5h0M390.5 220.7h0"/><path class="k12" d="M411.3 251.4h0M401.5 250.5h0"/><path class="k79" d="M383.4 217.6h0M377.2 219.4h0"/><path class="k53" d="M526.1 279.6h0M514.4 284.7h0M522.4 283.7h0"/><path class="k80" d="M395.9 249.5h0M390.1 248.9h0"/><path class="k56" d="M371.0 218.9h0M365.5 220.8h0"/><path class="k54" d="M384.4 248.1h0"/><path class="k63" d="M359.5 220.7h0M354.3 221.0h0"/><path class="k81" d="M341.1 222.7h0"/><path class="k57" d="M373.5 245.3h0"/><path class="k64" d="M324.7 217.3h0"/><path class="k33" d="M405.5 305.8h0M410.2 308.2h0"/><path class="k31" d="M332.2 258.1h0"/><path class="k48" d="M355.7 258.1h0"/><path class="k41" d="M369.6 223.4h0M397.6 227.9h0M408.8 242.4h0"/><path class="k65" d="M382.2 300.3h0"/><path class="k76" d="M372.9 295.8h0"/><path class="k40" d="M364.3 291.4h0"/><path class="k71" d="M447.1 254.4h0M453.2 254.4h0M459.2 254.7h0"/><path class="k66" d="M465.3 257.3h0M471.2 257.8h0"/><path class="k43" d="M477.3 258.5h0M494.4 261.6h0M499.5 262.8h0M505.1 264.5h0"/><path class="k7" d="M440.9 247.8h0"/><path class="k4" d="M482.5 261.6h0M488.4 262.6h0"/><path class="k9" d="M434.7 241.3h0"/><path class="k10" d="M428.4 235.0h0"/><path class="k5" d="M461.4 284.6h0M447.1 285.2h0M451.8 285.0h0M456.4 285.0h0"/><path class="k58" d="M421.9 229.4h0"/><path class="k8" d="M442.5 279.9h0M479.7 285.8h0"/><path class="k72" d="M415.3 221.7h0"/><path class="k78" d="M510.1 264.2h0M523.4 270.5h0"/><path class="k53" d="M437.7 274.8h0M526.7 277.4h0M520.4 284.2h0M529.8 282.0h0"/><path class="k62" d="M408.7 218.5h0"/><path class="k73" d="M433.1 269.8h0"/><path class="k68" d="M515.1 263.9h0M428.8 265.1h0M519.8 263.8h0M423.1 259.0h0"/><path class="k11" d="M493.2 287.2h0M498.8 286.3h0M504.6 285.6h0"/><path class="k13" d="M406.4 234.2h0"/><path class="k69" d="M417.5 256.3h0"/><path class="k79" d="M397.4 219.3h0M390.2 218.4h0M383.0 215.4h0M377.1 217.0h0"/><path class="k61" d="M412.1 253.2h0"/><path class="k12" d="M406.8 251.5h0"/><path class="k80" d="M397.3 251.3h0M391.7 250.6h0M385.8 250.0h0"/><path class="k63" d="M370.8 216.6h0M365.2 218.5h0M359.2 218.5h0M354.1 218.7h0"/><path class="k19" d="M371.9 245.5h0"/><path class="k74" d="M322.0 217.6h0"/><path class="k33" d="M413.5 309.8h0"/><path class="k31" d="M333.8 259.2h0"/><path class="k48" d="M356.2 260.3h0"/><path class="k82" d="M381.9 220.1h0"/><path class="k60" d="M402.5 308.5h0"/><path class="k41" d="M387.5 224.0h0M424.8 253.6h0"/><path class="k40" d="M365.2 291.9h0"/><path class="k76" d="M385.0 301.5h0"/><path class="k77" d="M447.2 252.3h0M453.3 252.3h0"/><path class="k71" d="M465.5 255.0h0"/><path class="k7" d="M459.4 252.5h0"/><path class="k6" d="M471.2 255.6h0M477.1 256.3h0M494.5 259.3h0M500.0 260.7h0M505.2 262.3h0"/><path class="k43" d="M482.9 259.4h0M488.7 260.4h0"/><path class="k44" d="M440.9 245.6h0"/><path class="k10" d="M434.8 239.1h0M428.4 232.8h0"/><path class="k5" d="M466.0 284.7h0M461.0 285.0h0M447.2 285.6h0"/><path class="k67" d="M422.0 227.1h0"/><path class="k11" d="M442.6 280.6h0M484.2 286.5h0M497.4 286.8h0M503.0 286.1h0"/><path class="k62" d="M415.1 219.5h0"/><path class="k68" d="M510.5 262.0h0M515.4 261.8h0M520.1 261.6h0M429.2 266.5h0M423.7 260.7h0M524.0 268.3h0"/><path class="k70" d="M408.3 216.4h0"/><path class="k53" d="M438.0 275.7h0M508.6 285.4h0"/><path class="k73" d="M433.3 271.0h0M527.0 275.1h0"/><path class="k14" d="M406.0 231.9h0"/><path class="k79" d="M397.3 217.0h0M389.6 216.2h0"/><path class="k69" d="M418.2 258.0h0"/><path class="k83" d="M382.8 213.1h0"/><path class="k61" d="M413.3 254.9h0"/><path class="k12" d="M408.0 253.3h0"/><path class="k63" d="M376.6 214.8h0M370.9 214.2h0M364.9 216.3h0M359.1 216.2h0"/><path class="k84" d="M528.4 283.2h0M518.6 284.8h0"/><path class="k80" d="M402.9 252.2h0M393.0 252.5h0"/><path class="k85" d="M353.8 216.5h0"/><path class="k81" d="M349.5 219.1h0"/><path class="k57" d="M368.0 245.6h0"/><path class="k64" d="M326.0 218.6h0"/><path class="k74" d="M320.6 219.2h0"/><path class="k33" d="M409.7 309.6h0"/><path class="k31" d="M332.6 261.8h0"/><path class="k48" d="M356.8 262.4h0"/><path class="k82" d="M393.1 220.1h0M363.5 222.8h0"/><path class="k41" d="M384.1 224.0h0M405.4 236.9h0M406.0 247.5h0M388.8 248.0h0"/><path class="k40" d="M366.5 292.6h0"/><path class="k7" d="M465.1 252.8h0M447.1 250.2h0M453.2 250.2h0M459.5 250.4h0M471.2 253.4h0M477.4 254.1h0M494.7 257.2h0M499.9 258.4h0M505.4 260.1h0"/><path class="k6" d="M483.1 257.2h0M488.8 258.2h0"/><path class="k44" d="M441.4 243.5h0"/><path class="k10" d="M435.0 237.0h0"/><path class="k58" d="M428.5 230.6h0"/><path class="k5" d="M451.8 285.5h0M465.7 285.2h0"/><path class="k72" d="M422.1 224.9h0"/><path class="k70" d="M415.3 217.3h0"/><path class="k68" d="M510.7 259.8h0M515.6 259.6h0M524.1 266.0h0M429.6 268.0h0M424.5 262.3h0"/><path class="k11" d="M442.7 281.3h0M488.4 287.2h0"/><path class="k79" d="M408.3 214.2h0M397.5 214.7h0M389.6 213.9h0"/><path class="k53" d="M438.3 276.6h0M501.3 286.5h0M506.9 285.9h0M512.8 285.4h0"/><path class="k45" d="M405.6 229.6h0"/><path class="k73" d="M434.0 272.1h0"/><path class="k69" d="M419.2 259.7h0"/><path class="k83" d="M382.7 210.9h0"/><path class="k78" d="M527.6 272.9h0"/><path class="k61" d="M414.2 256.7h0"/><path class="k80" d="M409.0 255.2h0M403.9 254.1h0M398.7 253.1h0"/><path class="k84" d="M530.3 279.8h0M526.3 283.7h0"/><path class="k63" d="M376.5 212.5h0M370.6 212.0h0M364.5 214.1h0"/><path class="k85" d="M358.5 214.1h0"/><path class="k81" d="M349.3 216.9h0M344.9 219.8h0"/><path class="k19" d="M366.5 246.2h0"/><path class="k23" d="M372.0 247.2h0"/><path class="k64" d="M327.4 219.9h0"/><path class="k74" d="M319.2 220.8h0"/><path class="k33" d="M411.0 310.1h0"/><path class="k31" d="M335.3 260.3h0"/><path class="k48" d="M356.8 262.4h0"/><path class="k41" d="M380.8 226.2h0M405.6 238.4h0M388.7 248.0h0M424.0 256.8h0"/><path class="k40" d="M367.3 293.0h0"/><path class="k7" d="M465.4 250.7h0M447.1 248.1h0M453.2 248.1h0M459.3 248.3h0M471.3 251.3h0M477.2 251.9h0M483.2 255.0h0M489.1 256.0h0M494.6 255.0h0M500.1 256.3h0M505.6 257.9h0"/><path class="k9" d="M441.0 241.4h0"/><path class="k10" d="M434.9 234.9h0"/><path class="k58" d="M428.4 228.5h0"/><path class="k8" d="M456.3 285.4h0M470.1 285.4h0M447.2 286.0h0"/><path class="k72" d="M421.7 222.8h0"/><path class="k70" d="M415.1 215.2h0"/><path class="k68" d="M510.8 257.6h0M524.6 264.0h0M430.4 269.4h0M425.2 263.9h0M527.9 270.6h0"/><path class="k79" d="M408.5 212.0h0"/><path class="k53" d="M442.9 281.9h0M438.7 277.5h0M505.4 286.5h0"/><path class="k69" d="M515.6 257.4h0M520.3 259.4h0M420.0 261.3h0"/><path class="k11" d="M491.9 287.6h0"/><path class="k45" d="M405.7 227.2h0"/><path class="k73" d="M434.2 273.3h0"/><path class="k83" d="M397.1 212.6h0M389.3 211.7h0M382.4 208.7h0"/><path class="k84" d="M510.9 285.9h0M516.7 285.4h0M524.3 284.3h0M533.4 282.6h0"/><path class="k86" d="M415.1 258.5h0M410.0 257.0h0"/><path class="k87" d="M530.7 277.5h0"/><path class="k63" d="M376.4 210.3h0"/><path class="k80" d="M405.3 255.9h0M400.1 254.9h0M394.6 254.3h0"/><path class="k85" d="M370.2 209.9h0M364.6 211.8h0M358.9 211.7h0M353.8 214.2h0"/><path class="k88" d="M349.0 214.8h0M344.8 217.6h0M341.0 220.5h0"/><path class="k23" d="M366.8 246.4h0"/><path class="k74" d="M319.2 220.8h0"/><path class="k64" d="M328.8 221.2h0"/><path class="k31" d="M336.9 261.4h0"/><path class="k82" d="M388.1 217.3h0"/><path class="k48" d="M357.5 264.6h0"/><path class="k41" d="M402.0 230.7h0M423.9 231.2h0M428.4 233.4h0M404.8 249.6h0"/><path class="k40" d="M368.3 293.5h0"/><path class="k7" d="M465.2 248.6h0M471.4 249.2h0M477.4 249.9h0M483.0 252.8h0M488.9 253.8h0M494.7 252.9h0M500.1 254.2h0"/><path class="k44" d="M447.2 246.0h0M453.2 246.0h0M459.5 246.2h0"/><path class="k10" d="M441.1 239.3h0M434.9 232.8h0"/><path class="k67" d="M428.4 226.4h0"/><path class="k8" d="M460.6 285.5h0"/><path class="k68" d="M505.5 255.8h0"/><path class="k45" d="M422.1 220.7h0"/><path class="k11" d="M451.7 285.9h0M474.6 285.8h0M495.9 287.2h0"/><path class="k79" d="M415.1 213.1h0M408.3 209.9h0"/><path class="k69" d="M510.7 255.4h0M515.9 255.3h0M520.5 257.3h0M524.7 261.7h0"/><path class="k53" d="M443.1 282.6h0M438.9 278.5h0"/><path class="k62" d="M405.4 224.9h0"/><path class="k83" d="M397.0 210.3h0M389.4 209.5h0"/><path class="k73" d="M434.8 274.5h0"/><path class="k89" d="M528.3 268.4h0M425.9 265.5h0M431.0 270.8h0"/><path class="k85" d="M382.5 206.5h0M376.2 208.1h0M370.0 207.8h0M364.4 209.6h0"/><path class="k90" d="M420.9 263.0h0M416.3 260.2h0"/><path class="k91" d="M531.0 275.2h0"/><path class="k84" d="M509.1 286.4h0M514.7 285.9h0M522.1 284.8h0"/><path class="k86" d="M411.3 258.7h0"/><path class="k80" d="M406.5 257.7h0M401.6 256.6h0"/><path class="k87" d="M533.8 280.3h0"/><path class="k92" d="M358.5 209.6h0"/><path class="k88" d="M353.5 212.1h0"/><path class="k93" d="M348.8 212.6h0M344.6 215.4h0M340.8 218.3h0"/><path class="k64" d="M319.0 221.0h0M330.2 222.5h0"/><path class="k31" d="M333.8 264.5h0M338.4 262.4h0"/><path class="k48" d="M358.2 266.8h0"/><path class="k41" d="M409.9 227.8h0M404.4 231.2h0M408.0 252.0h0"/><path class="k40" d="M369.6 294.2h0"/><path class="k44" d="M465.2 246.6h0M447.3 243.9h0M453.4 243.9h0M459.4 244.1h0M471.4 247.1h0M477.4 247.8h0M494.4 250.7h0M500.5 252.2h0"/><path class="k7" d="M483.0 250.7h0M489.0 251.7h0"/><path class="k10" d="M441.1 237.2h0"/><path class="k58" d="M434.9 230.7h0"/><path class="k72" d="M428.5 224.3h0"/><path class="k11" d="M465.1 285.6h0M455.9 285.9h0M478.8 286.2h0M447.1 286.5h0"/><path class="k69" d="M505.7 253.7h0M510.9 253.3h0M525.0 259.5h0"/><path class="k62" d="M422.0 218.5h0"/><path class="k79" d="M415.0 211.0h0"/><path class="k83" d="M408.3 207.8h0M396.7 207.9h0"/><path class="k70" d="M405.2 222.6h0"/><path class="k61" d="M515.7 253.1h0M520.5 255.1h0"/><path class="k53" d="M443.1 283.4h0M439.3 279.4h0M499.7 287.0h0"/><path class="k94" d="M389.3 207.2h0"/><path class="k73" d="M435.2 275.7h0"/><path class="k85" d="M382.1 204.2h0M375.9 205.9h0"/><path class="k89" d="M528.5 266.2h0M426.6 267.1h0M531.5 273.1h0M431.6 272.2h0"/><path class="k90" d="M421.7 264.7h0M417.2 262.0h0"/><path class="k86" d="M412.3 260.5h0"/><path class="k84" d="M512.6 286.4h0M520.1 285.4h0"/><path class="k87" d="M531.1 283.1h0M536.0 282.4h0"/><path class="k91" d="M534.2 278.0h0"/><path class="k80" d="M407.7 259.5h0M402.8 258.5h0"/><path class="k92" d="M369.8 205.4h0M364.1 207.5h0"/><path class="k95" d="M358.3 207.4h0"/><path class="k93" d="M353.4 209.9h0M348.7 210.4h0M344.6 213.2h0M340.5 216.2h0"/><path class="k64" d="M320.5 222.2h0M331.5 223.9h0"/><path class="k31" d="M338.4 262.4h0"/><path class="k39" d="M332.2 267.1h0"/><path class="k41" d="M408.8 232.4h0"/><path class="k40" d="M370.8 294.8h0"/><path class="k44" d="M465.4 244.5h0M471.3 245.0h0M477.4 245.7h0M483.0 248.6h0M489.2 249.7h0M494.7 248.7h0M500.3 250.0h0"/><path class="k9" d="M447.0 241.8h0M453.4 241.8h0M459.3 242.0h0"/><path class="k10" d="M441.3 235.1h0"/><path class="k58" d="M434.7 228.6h0"/><path class="k72" d="M428.4 222.2h0"/><path class="k11" d="M469.5 285.9h0M460.3 285.9h0M451.5 286.3h0M483.0 286.9h0"/><path class="k69" d="M505.7 251.6h0"/><path class="k70" d="M421.7 216.5h0M405.1 220.3h0"/><path class="k83" d="M415.0 208.8h0M408.5 205.6h0"/><path class="k61" d="M510.9 251.2h0"/><path class="k12" d="M515.7 251.0h0M520.5 253.0h0"/><path class="k53" d="M443.1 284.1h0M439.5 280.4h0"/><path class="k94" d="M396.1 205.5h0M388.8 204.9h0"/><path class="k86" d="M525.1 257.4h0M413.5 262.3h0"/><path class="k84" d="M503.4 286.9h0M517.9 286.0h0"/><path class="k92" d="M381.7 201.8h0M375.6 203.6h0"/><path class="k87" d="M435.7 276.9h0M528.9 283.7h0"/><path class="k90" d="M528.8 264.0h0M418.1 263.7h0"/><path class="k89" d="M532.0 270.9h0M422.7 266.3h0M427.4 268.7h0M432.0 273.7h0M534.6 275.8h0"/><path class="k95" d="M369.4 203.1h0M363.5 205.3h0M357.9 205.1h0"/><path class="k91" d="M537.1 280.9h0"/><path class="k93" d="M353.3 207.6h0"/><path class="k96" d="M348.3 208.2h0M344.4 211.0h0"/><path class="k74" d="M318.0 222.4h0"/><path class="k64" d="M332.9 225.2h0"/><path class="k31" d="M340.2 263.2h0"/><path class="k41" d="M401.5 224.0h0M429.5 227.8h0M410.5 234.6h0M401.6 255.2h0M407.2 256.8h0M416.8 257.6h0M399.2 260.0h0"/><path class="k39" d="M332.8 267.9h0"/><path class="k40" d="M371.7 295.2h0"/><path class="k9" d="M465.5 242.4h0M471.4 242.9h0M477.3 243.6h0M494.8 246.6h0"/><path class="k10" d="M447.2 239.7h0M453.2 239.7h0M459.4 239.9h0M440.8 233.0h0"/><path class="k44" d="M483.2 246.5h0M489.1 247.6h0"/><path class="k67" d="M434.9 226.5h0"/><path class="k61" d="M500.4 247.9h0M505.6 249.4h0"/><path class="k62" d="M428.3 220.1h0"/><path class="k11" d="M464.4 286.1h0M473.8 286.3h0M455.7 286.4h0M447.4 286.9h0M487.2 287.6h0"/><path class="k79" d="M422.0 214.3h0M404.7 218.1h0"/><path class="k83" d="M415.0 206.7h0"/><path class="k12" d="M510.9 249.1h0M516.0 248.9h0M520.7 250.9h0"/><path class="k94" d="M408.2 203.5h0M395.7 203.2h0"/><path class="k97" d="M388.6 202.4h0"/><path class="k84" d="M439.8 281.4h0M507.2 286.9h0M516.0 286.7h0"/><path class="k80" d="M525.2 255.2h0"/><path class="k95" d="M381.3 199.5h0M375.5 201.2h0M369.2 200.8h0M363.5 202.8h0"/><path class="k90" d="M529.0 261.8h0M419.2 265.5h0"/><path class="k87" d="M436.3 278.1h0M526.6 284.2h0M533.7 283.0h0"/><path class="k89" d="M532.3 268.7h0M423.6 268.0h0M428.0 270.3h0M432.7 275.1h0M535.0 273.6h0M537.4 278.6h0"/><path class="k86" d="M409.2 261.3h0"/><path class="k98" d="M357.6 202.8h0"/><path class="k96" d="M352.9 205.3h0M348.2 205.8h0M344.1 208.7h0M340.7 213.8h0"/><path class="k64" d="M322.0 223.4h0M334.3 226.5h0"/><path class="k74" d="M316.8 224.0h0"/><path class="k31" d="M342.0 263.9h0"/><path class="k99" d="M330.1 265.8h0"/><path class="k41" d="M434.0 231.2h0M412.0 238.4h0"/><path class="k40" d="M372.8 295.7h0"/><path class="k10" d="M465.3 240.3h0M447.2 237.6h0M453.0 237.6h0M459.5 237.8h0M471.4 240.8h0M477.3 241.5h0"/><path class="k9" d="M483.4 244.5h0M489.1 245.5h0"/><path class="k58" d="M440.8 230.9h0"/><path class="k72" d="M434.6 224.4h0"/><path class="k12" d="M494.9 244.5h0M500.2 245.8h0M506.0 247.4h0M511.0 247.0h0M516.0 246.8h0"/><path class="k70" d="M428.3 218.0h0"/><path class="k11" d="M468.7 286.3h0M477.8 286.7h0M459.7 286.4h0M451.3 286.8h0"/><path class="k79" d="M421.8 212.2h0M404.8 215.9h0"/><path class="k83" d="M414.9 204.6h0"/><path class="k94" d="M408.4 201.4h0"/><path class="k97" d="M395.2 200.8h0"/><path class="k100" d="M388.1 200.1h0"/><path class="k80" d="M520.8 248.9h0M525.1 253.1h0"/><path class="k95" d="M380.9 197.2h0M375.0 198.9h0"/><path class="k86" d="M529.3 259.7h0"/><path class="k90" d="M532.6 266.5h0M414.7 264.0h0M420.2 267.2h0"/><path class="k84" d="M510.7 287.1h0"/><path class="k89" d="M424.4 269.6h0M429.0 271.9h0M535.3 271.3h0M537.8 276.4h0M539.9 281.3h0"/><path class="k98" d="M368.8 198.6h0M363.1 200.6h0M357.5 200.5h0"/><path class="k87" d="M524.5 284.9h0M531.3 283.6h0"/><path class="k96" d="M352.4 203.2h0M347.8 203.8h0M343.9 206.5h0M340.3 211.7h0"/><path class="k64" d="M323.5 224.6h0M335.7 227.8h0"/><path class="k74" d="M315.6 225.6h0"/><path class="k31" d="M343.8 264.6h0"/><path class="k99" d="M330.5 266.4h0"/><path class="k40" d="M373.9 296.3h0"/><path class="k10" d="M465.7 238.2h0M446.9 235.5h0M453.4 235.5h0M459.4 235.7h0M471.3 238.7h0M477.4 239.4h0M483.4 242.4h0M489.2 243.4h0"/><path class="k58" d="M440.7 228.8h0"/><path class="k45" d="M434.8 222.2h0"/><path class="k12" d="M494.8 242.4h0M500.3 243.7h0M505.7 245.2h0M511.1 244.9h0M516.0 244.7h0"/><path class="k70" d="M428.3 215.8h0"/><path class="k11" d="M472.9 286.7h0M463.8 286.5h0M455.3 286.8h0M482.0 287.3h0M447.1 287.4h0"/><path class="k79" d="M422.3 210.0h0M404.6 213.6h0"/><path class="k94" d="M414.9 202.5h0"/><path class="k97" d="M408.2 199.2h0"/><path class="k100" d="M395.2 198.4h0"/><path class="k95" d="M387.9 197.8h0"/><path class="k80" d="M520.7 246.7h0M525.0 250.9h0M529.2 257.4h0"/><path class="k98" d="M380.7 194.9h0M375.1 196.5h0M368.5 196.3h0M363.2 198.2h0"/><path class="k90" d="M532.9 264.3h0M535.7 269.2h0M415.7 265.8h0M421.3 268.9h0"/><path class="k86" d="M410.3 263.1h0"/><path class="k89" d="M425.3 271.3h0M429.5 273.5h0M538.2 274.2h0M538.3 282.3h0"/><path class="k84" d="M513.9 287.3h0"/><path class="k87" d="M522.2 285.5h0"/><path class="k91" d="M529.0 284.3h0"/><path class="k96" d="M357.1 198.4h0M352.2 201.0h0M340.2 209.5h0"/><path class="k101" d="M542.7 284.1h0"/><path class="k18" d="M343.7 204.4h0"/><path class="k74" d="M315.6 225.6h0"/><path class="k64" d="M325.0 225.8h0M337.0 229.1h0"/><path class="k82" d="M359.0 202.8h0"/><path class="k31" d="M345.6 265.3h0"/><path class="k39" d="M333.5 268.8h0"/><path class="k99" d="M327.8 264.3h0"/><path class="k40" d="M374.9 296.8h0"/><path class="k10" d="M465.5 236.1h0M447.1 233.4h0M453.5 233.4h0M459.5 233.6h0M471.3 236.6h0M477.5 237.3h0M483.3 240.2h0M489.0 241.2h0"/><path class="k67" d="M441.0 226.7h0"/><path class="k62" d="M434.7 220.1h0"/><path class="k12" d="M494.9 240.3h0M500.6 241.7h0M505.9 243.2h0M511.0 242.8h0"/><path class="k79" d="M428.3 213.7h0"/><path class="k11" d="M467.9 286.8h0M477.1 287.2h0M459.4 286.9h0M451.1 287.3h0M486.1 288.0h0"/><path class="k83" d="M421.9 207.9h0M404.1 211.3h0"/><path class="k94" d="M415.2 200.3h0"/><path class="k100" d="M408.2 197.1h0M394.7 196.1h0"/><path class="k53" d="M443.5 284.8h0"/><path class="k13" d="M516.0 242.6h0"/><path class="k98" d="M387.4 195.5h0M380.6 192.7h0M374.7 194.3h0M368.5 194.1h0M362.9 196.1h0"/><path class="k54" d="M520.9 244.6h0"/><path class="k80" d="M525.4 248.9h0M529.5 255.4h0"/><path class="k86" d="M533.2 262.2h0"/><path class="k90" d="M535.9 267.0h0M417.0 267.6h0M538.6 272.0h0"/><path class="k89" d="M426.2 272.9h0M540.3 279.1h0M535.9 283.1h0"/><path class="k87" d="M520.1 286.2h0"/><path class="k91" d="M526.7 284.9h0"/><path class="k18" d="M357.0 196.2h0M352.3 198.7h0M347.8 201.5h0M340.1 207.2h0"/><path class="k64" d="M315.4 226.1h0M326.5 227.0h0M338.4 230.4h0"/><path class="k82" d="M408.8 212.3h0M402.0 216.1h0"/><path class="k31" d="M347.4 266.0h0"/><path class="k39" d="M334.6 269.6h0"/><path class="k40" d="M375.9 297.2h0"/><path class="k41" d="M406.4 260.8h0"/><path class="k10" d="M465.4 234.0h0M471.5 234.5h0M477.6 235.2h0M483.2 238.1h0"/><path class="k58" d="M447.2 231.3h0M453.3 231.3h0M459.3 231.5h0"/><path class="k72" d="M440.9 224.6h0"/><path class="k12" d="M489.3 239.2h0M495.0 238.2h0M500.4 239.5h0M505.9 241.1h0"/><path class="k70" d="M434.8 218.0h0"/><path class="k79" d="M428.5 211.6h0"/><path class="k11" d="M472.1 287.2h0M463.3 287.0h0M481.0 287.8h0M455.0 287.3h0M490.6 288.0h0M447.1 287.9h0"/><path class="k83" d="M421.7 205.8h0M403.5 208.9h0"/><path class="k97" d="M415.0 198.2h0"/><path class="k13" d="M511.1 240.7h0"/><path class="k100" d="M408.5 194.9h0"/><path class="k54" d="M516.0 240.4h0M520.7 242.4h0M525.2 246.7h0"/><path class="k98" d="M394.6 193.8h0M387.1 193.2h0M380.4 190.4h0M374.3 192.2h0"/><path class="k84" d="M439.9 282.4h0"/><path class="k80" d="M529.7 253.3h0M533.4 260.0h0"/><path class="k86" d="M536.4 264.9h0"/><path class="k102" d="M368.5 191.8h0M362.5 194.0h0"/><path class="k90" d="M422.2 270.7h0M538.7 269.7h0"/><path class="k87" d="M517.9 286.8h0"/><path class="k91" d="M524.4 285.6h0"/><path class="k89" d="M540.7 276.9h0"/><path class="k101" d="M533.4 283.7h0M543.0 281.9h0"/><path class="k64" d="M317.0 227.2h0M328.0 228.2h0"/><path class="k82" d="M415.5 203.2h0M397.6 216.7h0"/><path class="k31" d="M349.2 266.8h0"/><path class="k41" d="M435.7 223.9h0M416.0 271.2h0"/><path class="k99" d="M331.3 267.4h0"/><path class="k39" d="M335.4 270.3h0"/><path class="k40" d="M376.9 297.7h0"/><path class="k58" d="M465.7 231.9h0M447.2 229.2h0M453.2 229.2h0M459.3 229.4h0M471.4 232.4h0M477.6 233.1h0"/><path class="k10" d="M483.2 236.0h0"/><path class="k45" d="M441.0 222.5h0"/><path class="k12" d="M489.2 237.0h0"/><path class="k70" d="M434.6 215.9h0"/><path class="k13" d="M494.7 236.0h0M500.5 237.4h0M506.1 239.0h0M511.3 238.6h0"/><path class="k83" d="M428.5 209.4h0"/><path class="k11" d="M467.3 287.3h0M476.0 287.6h0M459.0 287.4h0M451.1 287.8h0M484.8 288.4h0M494.4 287.7h0"/><path class="k94" d="M421.9 203.6h0M403.3 206.5h0"/><path class="k100" d="M414.8 196.0h0"/><path class="k103" d="M408.1 192.8h0"/><path class="k46" d="M516.1 238.3h0M520.7 240.3h0"/><path class="k98" d="M394.5 191.5h0M387.1 191.0h0"/><path class="k87" d="M436.6 279.3h0"/><path class="k102" d="M380.5 188.2h0M374.2 190.0h0"/><path class="k54" d="M525.3 244.5h0"/><path class="k80" d="M529.6 251.1h0M533.2 257.7h0M536.4 262.6h0"/><path class="k86" d="M539.2 267.6h0"/><path class="k104" d="M522.1 286.3h0"/><path class="k105" d="M541.1 274.8h0"/><path class="k101" d="M531.1 284.4h0M540.7 284.8h0M543.3 279.7h0"/><path class="k74" d="M314.6 227.4h0"/><path class="k64" d="M329.5 229.4h0"/><path class="k82" d="M414.9 206.0h0"/><path class="k106" d="M407.5 211.1h0"/><path class="k31" d="M351.0 267.5h0"/><path class="k99" d="M328.4 265.2h0M332.3 268.1h0"/><path class="k39" d="M336.3 271.1h0"/><path class="k40" d="M378.0 298.2h0"/><path class="k58" d="M465.3 229.8h0M471.6 230.3h0"/><path class="k67" d="M447.1 227.1h0M453.4 227.1h0M459.6 227.3h0"/><path class="k13" d="M477.4 231.0h0M483.5 233.9h0M489.1 234.9h0M495.0 234.0h0M500.5 235.3h0M506.0 236.8h0"/><path class="k62" d="M441.0 220.3h0"/><path class="k79" d="M434.7 213.8h0"/><path class="k83" d="M428.4 207.3h0"/><path class="k94" d="M421.7 201.5h0M402.7 204.1h0"/><path class="k11" d="M471.3 287.7h0M462.9 287.6h0M479.7 288.2h0M454.9 287.9h0M489.4 288.5h0M447.3 288.4h0"/><path class="k103" d="M415.0 193.9h0M408.1 190.7h0"/><path class="k14" d="M511.1 236.4h0"/><path class="k53" d="M498.2 287.5h0"/><path class="k98" d="M394.3 189.2h0"/><path class="k15" d="M516.3 236.2h0M520.9 238.2h0"/><path class="k102" d="M387.2 188.7h0"/><path class="k46" d="M525.3 242.4h0"/><path class="k54" d="M529.6 249.0h0"/><path class="k89" d="M433.4 276.5h0"/><path class="k80" d="M533.5 255.6h0M536.7 260.5h0M539.2 265.3h0"/><path class="k105" d="M541.4 272.6h0M543.5 277.5h0"/><path class="k101" d="M528.7 285.2h0M538.1 285.4h0M544.9 286.8h0"/><path class="k64" d="M318.6 228.3h0M331.0 230.6h0"/><path class="k74" d="M313.6 229.2h0"/><path class="k106" d="M413.7 208.0h0"/><path class="k39" d="M352.8 268.2h0M337.1 271.9h0"/><path class="k99" d="M325.7 262.9h0M333.3 269.0h0"/><path class="k40" d="M379.2 298.7h0"/><path class="k67" d="M465.5 227.7h0"/><path class="k72" d="M447.0 225.0h0"/><path class="k45" d="M453.0 225.0h0M459.5 225.2h0M511.1 234.3h0"/><path class="k14" d="M471.5 228.2h0M477.6 228.9h0M494.9 231.8h0M500.6 233.2h0M505.9 234.7h0"/><path class="k13" d="M483.2 231.8h0M489.4 232.8h0"/><path class="k70" d="M441.1 218.2h0"/><path class="k79" d="M434.8 211.6h0"/><path class="k83" d="M428.4 205.2h0"/><path class="k97" d="M421.7 199.4h0M402.7 201.7h0"/><path class="k11" d="M466.6 287.8h0M475.1 288.1h0M458.6 287.9h0M483.6 288.8h0M450.9 288.3h0"/><path class="k53" d="M492.9 288.2h0"/><path class="k103" d="M415.2 191.7h0"/><path class="k98" d="M407.7 188.6h0"/><path class="k84" d="M443.6 285.6h0M501.8 287.4h0"/><path class="k102" d="M394.2 187.0h0M387.3 186.5h0"/><path class="k15" d="M516.3 234.1h0M520.9 236.0h0M525.4 240.3h0"/><path class="k54" d="M529.5 246.8h0"/><path class="k80" d="M533.6 253.6h0M536.7 258.2h0"/><path class="k20" d="M539.6 263.3h0"/><path class="k107" d="M541.7 270.4h0"/><path class="k101" d="M526.3 285.9h0M535.6 286.0h0M542.4 287.4h0"/><path class="k105" d="M543.9 275.4h0"/><path class="k64" d="M320.3 229.4h0M332.5 231.8h0"/><path class="k74" d="M312.6 231.0h0"/><path class="k106" d="M414.5 210.0h0"/><path class="k39" d="M354.6 268.9h0M338.1 272.7h0"/><path class="k99" d="M326.1 263.7h0M334.2 269.8h0"/><path class="k40" d="M380.3 299.2h0"/><path class="k45" d="M465.3 225.5h0M447.2 222.9h0M453.4 222.9h0M459.4 223.1h0M471.6 226.1h0M477.5 226.7h0M495.2 229.8h0M500.6 231.0h0M506.0 232.6h0"/><path class="k14" d="M483.3 229.7h0M489.3 230.7h0"/><path class="k70" d="M440.9 216.1h0"/><path class="k83" d="M434.7 209.5h0"/><path class="k94" d="M428.1 203.1h0"/><path class="k100" d="M421.8 197.2h0M402.1 199.3h0"/><path class="k11" d="M470.5 288.2h0M462.1 288.1h0M478.8 288.7h0M488.0 288.9h0"/><path class="k53" d="M454.5 288.4h0M447.2 288.9h0"/><path class="k98" d="M415.0 189.5h0"/><path class="k15" d="M511.2 232.2h0M525.3 238.1h0"/><path class="k84" d="M496.6 288.1h0M505.3 287.5h0M440.2 283.4h0"/><path class="k102" d="M407.8 186.4h0"/><path class="k108" d="M393.9 184.9h0"/><path class="k55" d="M516.1 231.9h0M521.1 234.0h0"/><path class="k46" d="M529.6 244.7h0"/><path class="k54" d="M533.5 251.3h0"/><path class="k80" d="M536.8 256.1h0"/><path class="k20" d="M539.7 261.1h0M542.0 268.3h0"/><path class="k101" d="M533.3 286.8h0M545.6 284.9h0M539.9 288.0h0"/><path class="k107" d="M544.0 273.1h0"/><path class="k64" d="M321.9 230.5h0M334.0 233.0h0"/><path class="k74" d="M312.6 231.0h0"/><path class="k106" d="M413.3 210.1h0M418.9 210.8h0"/><path class="k99" d="M358.9 268.9h0M329.1 266.1h0M334.9 270.5h0"/><path class="k109" d="M323.5 261.6h0"/><path class="k39" d="M339.1 273.5h0"/><path class="k40" d="M381.3 299.6h0"/><path class="k45" d="M465.7 223.4h0M471.4 223.9h0M477.6 224.6h0M483.6 227.6h0M489.4 228.6h0M495.2 227.7h0M500.8 228.9h0M505.9 230.4h0"/><path class="k62" d="M447.2 220.7h0M453.2 220.8h0M459.3 221.0h0"/><path class="k79" d="M441.0 214.0h0"/><path class="k83" d="M434.4 207.4h0"/><path class="k94" d="M428.5 200.9h0"/><path class="k100" d="M421.6 195.1h0M401.9 197.0h0"/><path class="k53" d="M465.9 288.3h0M458.2 288.5h0M450.8 288.9h0"/><path class="k11" d="M474.1 288.6h0M482.4 289.3h0"/><path class="k84" d="M491.5 288.7h0M500.1 288.0h0M508.7 287.6h0"/><path class="k102" d="M414.9 187.4h0"/><path class="k55" d="M511.1 230.0h0M525.5 236.0h0"/><path class="k108" d="M408.1 184.2h0"/><path class="k16" d="M516.5 229.9h0M521.0 231.8h0"/><path class="k91" d="M437.0 280.5h0"/><path class="k15" d="M529.6 242.5h0"/><path class="k54" d="M533.6 249.2h0M536.9 254.0h0"/><path class="k20" d="M540.0 259.0h0M542.1 266.0h0M544.5 271.1h0"/><path class="k101" d="M530.8 287.4h0M545.6 282.5h0M537.3 288.6h0M546.6 289.3h0"/><path class="k64" d="M312.5 231.1h0M323.5 231.6h0"/><path class="k38" d="M335.5 234.2h0"/><path class="k82" d="M423.4 199.6h0"/><path class="k106" d="M417.7 211.4h0"/><path class="k39" d="M356.4 269.6h0M340.1 274.4h0"/><path class="k99" d="M330.1 266.7h0M335.9 271.3h0"/><path class="k109" d="M323.9 262.3h0"/><path class="k40" d="M382.6 300.1h0"/><path class="k62" d="M465.9 221.3h0M471.5 221.8h0M477.6 222.5h0M495.0 225.5h0M500.4 226.7h0M506.2 228.3h0"/><path class="k70" d="M447.0 218.6h0M453.3 218.6h0M459.4 218.8h0"/><path class="k45" d="M483.4 225.5h0M489.3 226.5h0"/><path class="k79" d="M441.0 211.9h0"/><path class="k83" d="M434.6 205.2h0"/><path class="k97" d="M428.2 198.8h0"/><path class="k103" d="M421.3 193.0h0M401.7 194.6h0"/><path class="k53" d="M469.6 288.7h0M461.8 288.6h0M477.5 289.1h0"/><path class="k84" d="M486.4 289.3h0M454.2 288.9h0M447.2 289.5h0M494.9 288.5h0M503.5 288.1h0M511.6 287.7h0"/><path class="k102" d="M414.7 185.3h0"/><path class="k16" d="M511.4 228.0h0M516.2 227.6h0M521.2 229.7h0M525.5 233.9h0"/><path class="k110" d="M408.0 182.0h0"/><path class="k89" d="M433.8 278.0h0"/><path class="k15" d="M529.7 240.4h0"/><path class="k46" d="M533.7 247.1h0"/><path class="k111" d="M537.1 251.9h0M540.0 256.7h0"/><path class="k20" d="M542.4 263.9h0M544.7 269.0h0"/><path class="k105" d="M545.9 280.4h0"/><path class="k101" d="M534.7 289.1h0M547.4 287.6h0"/><path class="k64" d="M314.2 232.2h0M325.2 232.8h0"/><path class="k38" d="M337.0 235.4h0"/><path class="k82" d="M420.0 201.0h0"/><path class="k112" d="M309.6 227.8h0"/><path class="k106" d="M415.4 213.0h0"/><path class="k39" d="M358.2 270.4h0M344.0 276.9h0"/><path class="k99" d="M326.9 264.6h0M331.1 267.7h0M336.9 272.2h0"/><path class="k109" d="M321.2 260.0h0"/><path class="k70" d="M465.5 219.2h0M447.2 216.5h0M453.1 216.5h0M459.3 216.7h0M471.4 219.7h0M477.5 220.4h0M495.0 223.3h0M500.7 224.7h0M506.1 226.2h0"/><path class="k62" d="M483.5 223.3h0M489.4 224.3h0"/><path class="k83" d="M441.0 209.7h0"/><path class="k94" d="M434.4 203.1h0"/><path class="k100" d="M428.3 196.6h0"/><path class="k103" d="M421.7 190.8h0"/><path class="k98" d="M401.5 192.3h0"/><path class="k84" d="M465.3 288.9h0M473.3 289.1h0M457.8 289.0h0M481.0 289.7h0M450.8 289.4h0M490.1 289.2h0M443.8 286.4h0M498.3 288.5h0M506.6 288.2h0"/><path class="k110" d="M415.0 183.1h0"/><path class="k16" d="M511.1 225.7h0M525.7 231.8h0"/><path class="k56" d="M516.4 225.5h0M521.2 227.6h0"/><path class="k89" d="M430.4 275.1h0"/><path class="k55" d="M529.8 238.3h0"/><path class="k87" d="M515.7 287.4h0"/><path class="k15" d="M533.7 245.0h0"/><path class="k113" d="M537.0 249.7h0"/><path class="k111" d="M540.0 254.6h0"/><path class="k20" d="M542.6 261.8h0M544.9 266.8h0"/><path class="k105" d="M546.2 278.3h0"/><path class="k101" d="M544.1 289.9h0M547.6 285.4h0"/><path class="k74" d="M312.0 233.1h0"/><path class="k38" d="M326.8 233.9h0"/><path class="k106" d="M421.2 205.3h0M410.8 213.6h0"/><path class="k39" d="M360.0 271.1h0M341.1 275.1h0M345.1 277.7h0"/><path class="k99" d="M327.9 265.3h0M332.0 268.5h0"/><path class="k70" d="M465.5 217.1h0M471.5 217.6h0M477.7 218.3h0M483.5 221.2h0M489.4 222.2h0M495.3 221.3h0M500.7 222.5h0"/><path class="k79" d="M447.1 214.4h0M453.2 214.4h0M459.3 214.6h0"/><path class="k83" d="M441.0 207.6h0"/><path class="k94" d="M434.8 200.9h0"/><path class="k100" d="M428.2 194.5h0"/><path class="k16" d="M506.2 224.1h0M529.9 236.2h0"/><path class="k98" d="M421.6 188.6h0M401.1 190.0h0"/><path class="k84" d="M468.8 289.2h0M461.1 289.2h0M476.5 289.7h0M485.2 289.8h0M454.0 289.5h0M447.1 290.1h0M493.4 289.1h0M501.5 288.6h0M509.8 288.5h0"/><path class="k110" d="M414.9 180.9h0"/><path class="k56" d="M511.3 223.6h0M516.4 223.4h0M521.3 225.4h0M525.9 229.7h0"/><path class="k89" d="M427.1 274.6h0"/><path class="k15" d="M533.7 242.8h0"/><path class="k104" d="M519.9 287.1h0"/><path class="k17" d="M537.2 247.6h0"/><path class="k113" d="M540.0 252.3h0"/><path class="k111" d="M542.7 259.6h0"/><path class="k20" d="M545.0 264.6h0"/><path class="k107" d="M546.3 276.0h0"/><path class="k101" d="M541.4 290.4h0M548.2 292.0h0"/><path class="k105" d="M548.0 283.4h0"/><path class="k38" d="M316.0 233.2h0M328.5 235.0h0"/><path class="k114" d="M311.4 235.2h0"/><path class="k106" d="M424.6 205.4h0M407.0 213.6h0M414.0 215.6h0"/><path class="k109" d="M324.7 263.2h0"/><path class="k99" d="M328.9 266.2h0M332.8 269.2h0M338.0 273.0h0"/><path class="k39" d="M341.9 275.8h0M346.2 278.6h0"/><path class="k79" d="M465.5 214.9h0M447.2 212.2h0M453.3 212.3h0M459.5 212.5h0M471.4 215.4h0M477.8 216.2h0M495.2 219.1h0M500.7 220.4h0"/><path class="k70" d="M483.5 219.1h0M489.2 220.0h0"/><path class="k83" d="M440.9 205.5h0"/><path class="k97" d="M434.6 198.8h0"/><path class="k103" d="M428.4 192.3h0"/><path class="k102" d="M421.8 186.5h0M401.1 187.8h0"/><path class="k56" d="M506.3 222.0h0M511.4 221.5h0M525.6 227.4h0"/><path class="k84" d="M472.2 289.6h0M464.5 289.4h0M479.8 290.2h0M457.4 289.6h0M450.6 290.0h0M488.6 289.7h0M444.0 287.1h0M496.5 289.1h0M504.8 288.8h0"/><path class="k63" d="M516.3 221.2h0M521.3 223.3h0"/><path class="k90" d="M423.3 272.4h0"/><path class="k16" d="M530.1 234.1h0"/><path class="k87" d="M513.5 288.1h0"/><path class="k115" d="M533.9 240.7h0"/><path class="k17" d="M537.2 245.5h0M540.3 250.4h0"/><path class="k101" d="M523.9 286.6h0M538.8 290.9h0M545.3 292.2h0"/><path class="k111" d="M542.8 257.4h0M545.1 262.4h0"/><path class="k20" d="M546.5 273.9h0"/><path class="k105" d="M548.1 281.1h0"/><path class="k38" d="M317.8 234.2h0M330.1 236.1h0"/><path class="k114" d="M311.4 235.2h0"/><path class="k106" d="M422.7 205.5h0M406.1 214.1h0"/><path class="k109" d="M321.8 261.0h0M325.8 264.0h0"/><path class="k99" d="M330.0 267.3h0M333.8 270.1h0M339.0 273.9h0"/><path class="k51" d="M349.8 281.3h0"/><path class="k39" d="M343.0 276.5h0"/><path class="k79" d="M465.6 212.8h0M471.7 213.3h0M477.6 214.0h0M483.3 216.9h0M489.4 218.0h0M495.3 217.0h0"/><path class="k83" d="M447.3 210.1h0M453.5 210.1h0M459.3 210.3h0"/><path class="k94" d="M440.8 203.3h0"/><path class="k100" d="M434.7 196.7h0"/><path class="k56" d="M500.8 218.3h0M506.2 219.8h0"/><path class="k98" d="M428.0 190.2h0"/><path class="k102" d="M401.3 185.5h0"/><path class="k108" d="M421.8 184.3h0"/><path class="k84" d="M467.8 289.7h0M475.3 290.1h0M460.7 289.8h0M483.7 290.3h0M453.8 290.1h0M447.3 290.6h0M499.8 289.2h0"/><path class="k63" d="M511.6 219.4h0M516.5 219.1h0M521.1 221.0h0M525.7 225.3h0"/><path class="k87" d="M440.7 284.3h0M507.6 289.1h0"/><path class="k57" d="M530.2 232.0h0"/><path class="k19" d="M534.1 238.6h0"/><path class="k104" d="M517.5 287.7h0"/><path class="k115" d="M537.2 243.3h0"/><path class="k101" d="M528.2 288.0h0M549.4 290.6h0M542.8 292.9h0"/><path class="k17" d="M540.3 248.2h0"/><path class="k113" d="M542.8 255.2h0"/><path class="k111" d="M545.3 260.3h0"/><path class="k20" d="M546.8 271.8h0"/><path class="k107" d="M548.4 279.1h0"/><path class="k38" d="M319.5 235.3h0M331.7 237.2h0"/><path class="k114" d="M312.6 237.0h0"/><path class="k106" d="M421.1 205.7h0M426.9 206.3h0M409.5 216.4h0"/><path class="k82" d="M403.2 216.6h0"/><path class="k116" d="M319.1 258.7h0"/><path class="k109" d="M322.5 261.9h0M326.8 265.1h0"/><path class="k99" d="M330.6 267.9h0M334.9 271.0h0M339.8 274.4h0"/><path class="k40" d="M353.2 283.9h0"/><path class="k39" d="M346.9 279.3h0"/><path class="k41" d="M422.4 268.0h0"/><path class="k83" d="M465.3 210.7h0M447.3 208.0h0M453.1 208.0h0M459.6 208.2h0M471.5 211.2h0M477.8 211.9h0M495.3 214.8h0"/><path class="k79" d="M483.6 214.8h0M489.4 215.8h0"/><path class="k94" d="M441.0 201.2h0"/><path class="k100" d="M434.7 194.5h0"/><path class="k63" d="M500.8 216.1h0M506.1 217.6h0M511.3 217.2h0M516.5 216.9h0M521.5 219.0h0M525.8 223.2h0"/><path class="k102" d="M428.3 188.0h0"/><path class="k110" d="M401.1 183.3h0M421.7 182.2h0"/><path class="k84" d="M471.2 290.2h0M463.9 290.0h0M478.8 290.8h0M456.9 290.2h0M450.3 290.6h0M444.0 288.0h0M502.7 289.4h0"/><path class="k91" d="M437.5 281.8h0"/><path class="k117" d="M511.2 288.7h0"/><path class="k57" d="M530.2 229.8h0"/><path class="k19" d="M534.1 236.5h0M537.4 241.2h0"/><path class="k101" d="M521.6 287.4h0M532.2 289.8h0M549.5 288.4h0M550.9 293.6h0"/><path class="k115" d="M540.3 246.0h0"/><path class="k17" d="M542.9 253.1h0"/><path class="k20" d="M546.8 269.5h0M548.5 276.9h0"/><path class="k113" d="M545.4 258.1h0"/><path class="k38" d="M321.3 236.3h0M333.4 238.3h0"/><path class="k114" d="M313.8 238.8h0"/><path class="k106" d="M425.0 208.6h0M411.2 216.6h0"/><path class="k118" d="M316.9 257.3h0"/><path class="k109" d="M323.7 262.7h0"/><path class="k99" d="M327.8 265.9h0M331.6 268.7h0M335.8 271.7h0"/><path class="k40" d="M353.9 284.6h0"/><path class="k39" d="M344.1 277.3h0"/><path class="k83" d="M465.5 208.5h0M447.2 205.8h0M453.3 205.9h0M459.5 206.1h0M471.8 209.1h0M477.9 209.8h0M483.6 212.7h0M489.3 213.7h0"/><path class="k97" d="M441.2 199.0h0"/><path class="k103" d="M434.4 192.4h0"/><path class="k63" d="M495.3 212.7h0M500.6 213.9h0M506.5 215.6h0M511.5 215.1h0"/><path class="k102" d="M428.2 185.9h0"/><path class="k110" d="M421.8 180.0h0"/><path class="k84" d="M467.1 290.3h0M474.3 290.7h0M482.5 290.8h0M460.1 290.4h0M453.4 290.7h0M447.2 291.2h0"/><path class="k87" d="M440.9 285.4h0M505.5 289.7h0"/><path class="k85" d="M516.6 214.8h0M521.3 216.8h0"/><path class="k89" d="M434.4 279.4h0"/><path class="k21" d="M525.9 221.1h0M530.1 227.6h0"/><path class="k57" d="M533.9 234.2h0"/><path class="k104" d="M515.2 288.4h0"/><path class="k19" d="M537.3 239.0h0M540.2 243.7h0"/><path class="k101" d="M525.8 288.7h0M536.2 291.6h0M549.0 294.4h0"/><path class="k17" d="M543.0 250.9h0M545.4 256.0h0"/><path class="k20" d="M547.2 267.5h0M548.6 274.7h0"/><path class="k105" d="M549.7 286.3h0"/><path class="k82" d="M434.5 198.7h0M408.8 219.5h0"/><path class="k38" d="M323.0 237.4h0"/><path class="k114" d="M313.8 238.8h0"/><path class="k116" d="M319.7 259.7h0"/><path class="k109" d="M324.6 263.5h0M328.5 266.6h0"/><path class="k51" d="M350.4 282.0h0"/><path class="k99" d="M336.8 272.5h0M332.8 269.8h0M341.0 275.4h0"/><path class="k40" d="M354.6 285.2h0"/><path class="k83" d="M465.4 206.4h0M471.6 206.9h0M477.4 207.6h0M483.5 210.5h0M489.3 211.5h0"/><path class="k94" d="M447.2 203.7h0M453.3 203.7h0M459.5 203.9h0"/><path class="k100" d="M441.1 196.9h0"/><path class="k98" d="M434.6 190.2h0"/><path class="k63" d="M495.4 210.6h0M500.9 211.8h0M506.5 213.4h0"/><path class="k110" d="M428.2 183.7h0"/><path class="k84" d="M487.0 290.2h0M470.3 290.7h0M463.1 290.6h0M477.4 291.3h0M456.4 290.8h0M450.2 291.2h0M444.1 288.8h0"/><path class="k85" d="M511.4 212.9h0M516.7 212.7h0M521.5 214.6h0"/><path class="k91" d="M438.0 283.0h0"/><path class="k89" d="M431.1 276.7h0"/><path class="k81" d="M525.8 218.8h0"/><path class="k117" d="M509.0 289.3h0"/><path class="k21" d="M530.0 225.3h0"/><path class="k57" d="M534.0 232.1h0M537.3 236.8h0"/><path class="k101" d="M519.1 288.1h0M529.7 290.5h0M540.1 293.4h0M546.2 294.7h0M550.9 291.3h0"/><path class="k19" d="M540.5 241.8h0"/><path class="k115" d="M543.1 248.8h0"/><path class="k17" d="M545.5 253.8h0"/><path class="k111" d="M547.3 265.3h0"/><path class="k20" d="M548.8 272.6h0"/><path class="k105" d="M549.9 284.1h0"/><path class="k38" d="M324.8 238.4h0"/><path class="k114" d="M315.6 240.0h0"/><path class="k82" d="M434.5 202.6h0"/><path class="k41" d="M407.7 223.4h0"/><path class="k116" d="M320.4 260.4h0"/><path class="k109" d="M325.6 264.4h0"/><path class="k99" d="M329.4 267.3h0M333.7 270.5h0M337.7 273.2h0"/><path class="k39" d="M347.8 280.2h0"/><path class="k40" d="M355.7 286.1h0"/><path class="k94" d="M465.6 204.3h0M447.1 201.6h0M453.5 201.6h0M459.8 201.8h0M471.8 204.8h0M477.7 205.5h0"/><path class="k83" d="M483.6 208.4h0"/><path class="k100" d="M440.9 194.7h0"/><path class="k63" d="M489.6 209.4h0"/><path class="k102" d="M434.5 188.1h0"/><path class="k85" d="M495.1 208.4h0M500.7 209.6h0M506.5 211.3h0M511.5 210.7h0"/><path class="k110" d="M428.3 181.5h0"/><path class="k84" d="M491.6 289.6h0M466.3 290.9h0M473.2 291.3h0M481.2 291.4h0M459.6 291.0h0M453.1 291.3h0M447.1 291.9h0"/><path class="k87" d="M441.2 286.4h0"/><path class="k92" d="M516.5 210.4h0"/><path class="k89" d="M435.0 280.9h0M427.9 276.2h0"/><path class="k88" d="M521.4 212.4h0"/><path class="k81" d="M526.1 216.8h0"/><path class="k21" d="M530.2 223.2h0M534.1 229.9h0"/><path class="k104" d="M512.9 289.1h0"/><path class="k57" d="M537.5 234.7h0M540.4 239.5h0"/><path class="k101" d="M523.3 289.3h0M533.6 292.1h0M543.4 295.1h0"/><path class="k19" d="M543.1 246.6h0"/><path class="k115" d="M545.6 251.7h0"/><path class="k111" d="M547.5 263.3h0"/><path class="k20" d="M548.9 270.4h0"/><path class="k107" d="M550.1 282.1h0"/><path class="k26" d="M551.1 289.2h0"/><path class="k27" d="M550.6 295.6h0"/><path class="k82" d="M441.9 200.4h0M430.1 202.6h0M436.2 205.4h0"/><path class="k38" d="M326.6 239.4h0"/><path class="k114" d="M317.4 241.2h0"/><path class="k41" d="M406.0 224.5h0"/><path class="k118" d="M317.5 258.1h0"/><path class="k116" d="M321.5 261.2h0"/><path class="k51" d="M351.1 282.7h0"/><path class="k109" d="M326.4 265.2h0"/><path class="k39" d="M345.0 278.2h0"/><path class="k99" d="M330.6 268.3h0M334.8 271.2h0"/><path class="k40" d="M356.5 286.7h0"/><path class="k94" d="M465.7 202.1h0M471.6 202.6h0M477.9 203.3h0M483.7 206.3h0"/><path class="k97" d="M446.7 199.4h0M453.3 199.4h0M459.3 199.6h0"/><path class="k98" d="M440.9 192.6h0"/><path class="k85" d="M489.4 207.2h0M495.1 206.2h0M500.9 207.5h0M506.4 209.1h0"/><path class="k102" d="M434.5 185.9h0"/><path class="k110" d="M427.9 179.4h0"/><path class="k84" d="M485.4 290.7h0M490.1 290.2h0M469.3 291.3h0M462.5 291.2h0M494.8 289.6h0M476.3 291.8h0M456.1 291.4h0M450.0 291.9h0M444.3 289.6h0"/><path class="k92" d="M511.7 208.6h0"/><path class="k91" d="M438.3 284.3h0"/><path class="k89" d="M431.7 278.3h0"/><path class="k95" d="M516.9 208.4h0"/><path class="k93" d="M521.4 210.3h0"/><path class="k88" d="M525.9 214.5h0"/><path class="k81" d="M530.3 221.1h0"/><path class="k21" d="M534.1 227.8h0M537.4 232.5h0"/><path class="k101" d="M516.7 288.8h0M527.0 290.9h0M537.5 293.9h0"/><path class="k57" d="M540.6 237.5h0"/><path class="k19" d="M543.1 244.4h0M545.5 249.4h0"/><path class="k113" d="M547.4 260.9h0"/><path class="k111" d="M549.0 268.2h0"/><path class="k20" d="M550.1 279.8h0"/><path class="k26" d="M551.3 287.2h0"/><path class="k27" d="M552.1 294.4h0"/><path class="k38" d="M328.3 240.5h0"/><path class="k106" d="M431.7 205.5h0M436.8 207.1h0"/><path class="k118" d="M314.8 255.9h0"/><path class="k116" d="M322.4 262.1h0"/><path class="k39" d="M348.2 280.7h0"/><path class="k99" d="M342.0 276.0h0M331.7 269.2h0"/><path class="k109" d="M327.4 266.0h0"/><path class="k40" d="M357.3 287.2h0"/><path class="k97" d="M465.8 200.0h0M471.7 200.5h0"/><path class="k100" d="M447.3 197.3h0M453.3 197.3h0M459.5 197.5h0"/><path class="k92" d="M477.8 201.2h0M495.5 204.1h0M501.0 205.4h0M506.4 206.9h0"/><path class="k85" d="M483.6 204.1h0M489.6 205.1h0"/><path class="k98" d="M441.0 190.4h0"/><path class="k110" d="M434.5 183.8h0"/><path class="k84" d="M465.4 291.5h0M479.7 291.8h0M472.1 291.8h0M458.9 291.6h0M452.8 292.0h0M497.8 289.8h0M447.1 292.5h0"/><path class="k95" d="M511.7 206.5h0M516.9 206.2h0"/><path class="k87" d="M441.6 287.4h0"/><path class="k89" d="M428.7 277.9h0"/><path class="k93" d="M521.6 208.1h0M525.9 212.3h0"/><path class="k81" d="M530.3 218.9h0"/><path class="k21" d="M534.2 225.6h0M537.5 230.3h0M540.6 235.2h0"/><path class="k101" d="M520.8 290.0h0M531.0 292.6h0"/><path class="k57" d="M543.3 242.4h0"/><path class="k19" d="M545.6 247.2h0"/><path class="k17" d="M547.5 258.8h0"/><path class="k27" d="M540.8 295.7h0M547.8 296.0h0"/><path class="k28" d="M550.3 277.7h0"/><path class="k119" d="M549.2 266.2h0"/><path class="k24" d="M551.4 285.0h0"/><path class="k26" d="M552.2 292.3h0"/><path class="k106" d="M437.4 207.2h0M430.7 208.5h0"/><path class="k118" d="M315.3 256.6h0"/><path class="k116" d="M323.5 263.1h0"/><path class="k51" d="M351.8 283.4h0"/><path class="k39" d="M345.6 278.8h0"/><path class="k99" d="M338.9 274.1h0"/><path class="k109" d="M328.4 266.9h0"/><path class="k40" d="M358.2 287.8h0"/><path class="k100" d="M465.6 197.8h0M447.2 195.1h0M453.1 195.1h0"/><path class="k95" d="M459.6 195.3h0M471.7 198.3h0M477.7 199.0h0M495.3 201.9h0M501.0 203.3h0M506.4 204.7h0M511.5 204.2h0"/><path class="k92" d="M483.7 202.0h0M489.8 203.0h0"/><path class="k102" d="M441.0 188.3h0"/><path class="k110" d="M434.6 181.6h0"/><path class="k84" d="M484.0 291.3h0M468.3 291.9h0M475.0 292.4h0M461.8 291.8h0M455.7 292.1h0M450.0 292.5h0M500.8 290.0h0M444.4 290.5h0"/><path class="k91" d="M438.8 285.5h0"/><path class="k96" d="M516.9 204.0h0M521.5 205.9h0"/><path class="k93" d="M526.1 210.2h0"/><path class="k88" d="M530.3 216.7h0"/><path class="k81" d="M534.4 223.5h0"/><path class="k21" d="M537.7 228.3h0M540.6 233.0h0"/><path class="k101" d="M524.5 291.5h0M534.8 294.4h0"/><path class="k57" d="M543.2 240.1h0M545.7 245.2h0"/><path class="k17" d="M547.7 256.8h0"/><path class="k120" d="M549.2 263.9h0"/><path class="k28" d="M550.4 275.5h0M551.5 282.8h0"/><path class="k27" d="M545.0 296.2h0M551.9 296.8h0"/><path class="k26" d="M552.3 290.1h0"/><path class="k106" d="M436.4 207.8h0M427.0 208.6h0"/><path class="k118" d="M318.2 259.0h0M313.5 254.3h0"/><path class="k39" d="M349.1 281.6h0"/><path class="k99" d="M342.8 276.8h0M335.7 272.0h0"/><path class="k116" d="M324.3 263.9h0"/><path class="k40" d="M359.2 288.4h0"/><path class="k95" d="M465.4 195.7h0M471.8 196.2h0M477.7 196.9h0M483.6 199.8h0M489.6 200.8h0M495.3 199.8h0M501.0 201.1h0M506.3 202.5h0"/><path class="k98" d="M447.4 193.0h0M453.2 193.0h0M459.4 193.2h0M511.7 202.1h0"/><path class="k102" d="M441.1 186.1h0"/><path class="k110" d="M434.7 179.4h0"/><path class="k84" d="M488.6 290.8h0M478.3 292.4h0M464.5 292.1h0M471.0 292.4h0M458.3 292.2h0M452.5 292.6h0M447.3 293.2h0"/><path class="k87" d="M441.8 288.5h0"/><path class="k89" d="M435.7 282.3h0"/><path class="k96" d="M516.6 201.8h0M521.6 203.8h0M526.3 208.1h0"/><path class="k93" d="M530.4 214.6h0"/><path class="k81" d="M534.2 221.2h0M537.8 226.2h0"/><path class="k101" d="M528.4 293.2h0"/><path class="k21" d="M540.6 230.9h0M543.3 237.9h0"/><path class="k121" d="M547.6 254.5h0"/><path class="k23" d="M545.8 243.1h0"/><path class="k27" d="M538.1 296.1h0M549.1 297.2h0"/><path class="k22" d="M549.3 261.8h0"/><path class="k28" d="M550.5 273.3h0M551.5 280.4h0"/><path class="k24" d="M552.4 287.9h0"/><path class="k82" d="M448.0 197.9h0"/><path class="k106" d="M429.3 208.8h0M439.0 209.3h0"/><path class="k118" d="M314.0 254.9h0M319.4 260.0h0"/><path class="k51" d="M352.7 284.2h0"/><path class="k39" d="M346.2 279.5h0"/><path class="k99" d="M339.9 274.8h0M332.6 269.9h0"/><path class="k116" d="M325.2 264.6h0"/><path class="k40" d="M360.3 289.1h0"/><path class="k98" d="M465.7 193.5h0M447.2 190.8h0M453.2 190.8h0M459.4 191.0h0M471.6 194.0h0M478.0 194.7h0M495.5 197.7h0M501.2 199.0h0M506.5 200.4h0M511.7 199.9h0"/><path class="k95" d="M483.9 197.7h0M489.6 198.7h0"/><path class="k110" d="M440.8 184.0h0"/><path class="k84" d="M493.1 290.3h0M482.4 291.8h0M467.3 292.5h0M473.6 292.9h0M461.1 292.5h0M455.2 292.8h0M449.7 293.2h0"/><path class="k122" d="M444.6 291.4h0"/><path class="k101" d="M432.6 279.9h0M532.1 294.9h0"/><path class="k104" d="M439.3 286.7h0"/><path class="k18" d="M516.9 199.7h0M521.5 201.5h0"/><path class="k96" d="M526.1 205.8h0"/><path class="k93" d="M530.3 212.3h0"/><path class="k88" d="M534.5 219.2h0"/><path class="k81" d="M537.8 223.9h0M540.9 228.8h0"/><path class="k21" d="M543.5 235.9h0"/><path class="k123" d="M545.8 240.8h0"/><path class="k25" d="M547.8 252.4h0"/><path class="k22" d="M549.3 259.6h0"/><path class="k119" d="M550.7 271.2h0"/><path class="k27" d="M542.3 296.8h0"/><path class="k28" d="M551.8 278.5h0M552.5 285.8h0"/><path class="k26" d="M553.0 295.4h0"/><path class="k106" d="M427.0 209.2h0M436.7 209.9h0"/><path class="k118" d="M316.0 257.6h0M320.3 260.8h0"/><path class="k39" d="M349.9 282.3h0"/><path class="k51" d="M353.7 285.1h0"/><path class="k99" d="M343.7 277.7h0M336.7 272.7h0"/><path class="k109" d="M329.5 267.8h0"/><path class="k40" d="M361.3 289.7h0"/><path class="k98" d="M465.9 191.4h0M471.8 191.9h0M477.9 192.6h0M483.7 195.5h0M489.5 196.5h0M495.3 195.5h0M501.1 196.8h0M506.6 198.3h0"/><path class="k102" d="M447.2 188.7h0M453.3 188.7h0M459.4 188.9h0"/><path class="k110" d="M441.0 181.8h0"/><path class="k84" d="M486.8 291.3h0M480.9 292.4h0M469.8 293.0h0M463.7 292.8h0M457.7 292.9h0M452.4 293.3h0"/><path class="k18" d="M511.9 197.8h0M516.8 197.4h0M521.8 199.5h0M526.4 203.8h0"/><path class="k122" d="M447.2 293.9h0"/><path class="k101" d="M429.7 279.5h0M436.2 283.8h0"/><path class="k117" d="M442.1 289.6h0"/><path class="k96" d="M530.6 210.3h0"/><path class="k93" d="M534.4 217.0h0"/><path class="k88" d="M537.8 221.7h0"/><path class="k81" d="M540.9 226.7h0"/><path class="k21" d="M543.5 233.7h0"/><path class="k27" d="M535.3 296.5h0M546.2 297.5h0"/><path class="k123" d="M545.8 238.6h0"/><path class="k25" d="M547.8 250.2h0"/><path class="k121" d="M549.4 257.4h0"/><path class="k119" d="M550.8 269.1h0"/><path class="k28" d="M551.8 276.3h0M552.6 283.7h0"/><path class="k26" d="M553.0 293.1h0M552.8 297.9h0"/><path class="k106" d="M425.4 209.4h0M441.3 210.1h0"/><path class="k118" d="M317.2 258.4h0M321.3 261.7h0"/><path class="k39" d="M347.1 280.4h0"/><path class="k51" d="M354.6 285.6h0"/><path class="k99" d="M340.8 275.7h0M333.6 270.7h0"/><path class="k116" d="M326.3 265.6h0"/><path class="k40" d="M362.4 290.3h0"/><path class="k102" d="M465.8 189.2h0M447.2 186.5h0M453.4 186.5h0M459.7 186.7h0M471.7 189.7h0M477.8 190.4h0M495.3 193.3h0M501.3 194.7h0M506.6 196.1h0"/><path class="k98" d="M483.8 193.4h0M489.6 194.3h0"/><path class="k110" d="M441.0 179.6h0"/><path class="k84" d="M491.4 290.9h0M476.9 293.0h0M485.2 291.9h0M466.3 293.1h0M460.3 293.2h0"/><path class="k122" d="M454.8 293.5h0M449.6 293.9h0"/><path class="k18" d="M511.9 195.6h0M526.4 201.5h0"/><path class="k101" d="M433.3 281.5h0"/><path class="k117" d="M444.7 292.3h0"/><path class="k104" d="M439.7 288.0h0"/><path class="k124" d="M516.8 195.2h0M521.7 197.2h0"/><path class="k96" d="M530.7 208.1h0"/><path class="k93" d="M534.5 214.8h0M537.9 219.6h0"/><path class="k88" d="M540.7 224.3h0"/><path class="k125" d="M543.5 231.5h0"/><path class="k123" d="M545.9 236.5h0"/><path class="k23" d="M547.8 248.0h0"/><path class="k27" d="M539.5 297.2h0"/><path class="k25" d="M549.4 255.2h0"/><path class="k120" d="M550.9 267.0h0"/><path class="k119" d="M552.0 274.2h0"/><path class="k28" d="M552.8 281.6h0"/><path class="k24" d="M553.2 291.1h0"/><path class="k106" d="M426.2 209.9h0M438.7 210.3h0"/><path class="k118" d="M314.8 256.0h0M318.1 259.3h0M322.0 262.3h0"/><path class="k39" d="M350.7 283.1h0"/><path class="k99" d="M344.2 278.4h0M337.9 273.6h0"/><path class="k109" d="M330.6 268.6h0"/><path class="k40" d="M363.6 291.0h0"/><path class="k102" d="M465.5 187.1h0M471.8 187.6h0M477.8 188.2h0M483.9 191.2h0M489.5 192.2h0M495.5 191.2h0M501.1 192.4h0M506.6 193.9h0"/><path class="k110" d="M447.1 184.3h0M453.2 184.4h0M459.4 184.6h0"/><path class="k84" d="M496.0 290.4h0M489.5 291.4h0M472.5 293.5h0M479.5 293.0h0M462.9 293.5h0"/><path class="k122" d="M457.2 293.6h0M451.9 294.1h0M447.1 294.6h0"/><path class="k124" d="M511.7 193.4h0M517.0 193.1h0M521.5 195.0h0M526.3 199.3h0"/><path class="k101" d="M430.6 281.1h0M436.8 285.2h0"/><path class="k117" d="M442.5 290.7h0"/><path class="k18" d="M530.5 205.8h0"/><path class="k96" d="M534.5 212.6h0"/><path class="k93" d="M537.9 217.4h0M540.9 222.2h0"/><path class="k125" d="M543.5 229.2h0M546.0 234.3h0"/><path class="k23" d="M547.8 245.8h0"/><path class="k25" d="M549.5 253.0h0"/><path class="k22" d="M550.8 264.6h0"/><path class="k119" d="M552.0 272.0h0"/><path class="k27" d="M543.4 297.9h0"/><path class="k28" d="M552.7 279.2h0M553.2 288.8h0"/><path class="k106" d="M430.1 211.0h0M436.2 211.4h0M424.9 212.0h0"/><path class="k118" d="M316.1 256.7h0M323.2 263.4h0"/><path class="k39" d="M351.6 283.9h0"/><path class="k99" d="M341.5 276.4h0M334.7 271.5h0"/><path class="k109" d="M327.5 266.6h0"/><path class="k40" d="M364.6 291.6h0"/><path class="k110" d="M465.6 184.9h0M447.5 182.2h0M453.2 182.2h0M459.6 182.4h0M471.8 185.4h0M477.8 186.1h0M495.6 189.0h0M501.1 190.3h0M506.9 191.8h0"/><path class="k102" d="M483.6 189.0h0M489.8 190.0h0"/><path class="k84" d="M494.1 291.0h0M483.5 292.5h0M475.6 293.5h0M468.8 293.7h0"/><path class="k122" d="M459.7 293.9h0M454.3 294.2h0M449.5 294.6h0"/><path class="k124" d="M511.9 191.3h0M517.1 191.0h0M521.9 192.9h0M526.4 197.2h0"/><path class="k101" d="M434.0 283.1h0"/><path class="k117" d="M445.0 293.2h0"/><path class="k104" d="M440.1 289.3h0"/><path class="k18" d="M530.8 203.8h0"/><path class="k96" d="M534.5 210.4h0M537.9 215.2h0"/><path class="k29" d="M541.1 220.1h0"/><path class="k126" d="M543.7 227.1h0"/><path class="k123" d="M547.9 243.6h0"/><path class="k125" d="M546.1 232.2h0"/><path class="k23" d="M549.5 250.8h0"/><path class="k22" d="M551.0 262.6h0"/><path class="k120" d="M552.0 269.7h0"/><path class="k119" d="M552.9 277.2h0"/><path class="k28" d="M553.3 286.7h0"/><path class="k26" d="M547.1 298.7h0"/><path class="k106" d="M432.0 212.5h0M440.0 212.8h0M427.3 213.0h0M420.6 213.0h0"/><path class="k118" d="M317.4 257.3h0M324.2 264.2h0"/><path class="k39" d="M347.9 281.3h0"/><path class="k51" d="M355.4 286.2h0"/><path class="k99" d="M338.6 274.2h0"/><path class="k109" d="M331.5 269.4h0"/><path class="k40" d="M365.6 292.1h0"/><path class="k110" d="M465.5 182.7h0M446.9 180.0h0M453.6 180.1h0M459.2 180.2h0M471.8 183.2h0M478.0 183.9h0M484.0 186.9h0M489.8 187.9h0M495.4 186.8h0M501.3 188.1h0"/><path class="k84" d="M498.8 290.7h0M487.7 292.0h0"/><path class="k124" d="M506.6 189.6h0M511.9 189.1h0M526.4 195.0h0M530.8 201.6h0"/><path class="k122" d="M465.4 293.8h0M471.2 294.1h0M481.9 293.1h0M456.6 294.3h0M451.7 294.8h0"/><path class="k101" d="M431.5 282.7h0M437.5 286.7h0"/><path class="k117" d="M442.7 291.8h0"/><path class="k18" d="M534.5 208.1h0"/><path class="k96" d="M538.0 213.0h0"/><path class="k127" d="M541.2 217.9h0"/><path class="k29" d="M543.6 224.9h0"/><path class="k123" d="M548.0 241.5h0"/><path class="k126" d="M546.1 229.9h0"/><path class="k23" d="M549.6 248.7h0"/><path class="k121" d="M551.1 260.4h0"/><path class="k22" d="M552.2 267.7h0"/><path class="k119" d="M553.0 275.0h0"/><path class="k26" d="M550.0 298.3h0"/><path class="k28" d="M553.4 284.5h0"/><path class="k106" d="M436.5 213.2h0M421.0 214.0h0"/><path class="k118" d="M319.2 260.3h0"/><path class="k99" d="M345.0 279.3h0M335.8 272.3h0"/><path class="k39" d="M352.6 284.5h0"/><path class="k109" d="M328.5 267.3h0"/><path class="k40" d="M366.6 292.6h0"/><path class="k110" d="M465.3 180.6h0M471.8 181.1h0M478.0 181.8h0M483.9 184.7h0M489.9 185.7h0M495.5 184.6h0M501.4 186.0h0"/><path class="k122" d="M492.2 291.6h0M478.0 293.6h0M486.0 292.7h0M467.5 294.3h0M461.9 294.1h0M453.8 294.9h0M447.2 295.3h0"/><path class="k117" d="M503.4 290.3h0"/><path class="k124" d="M506.6 187.4h0M530.8 199.4h0"/><path class="k101" d="M434.7 284.7h0M438.1 288.1h0"/><path class="k18" d="M534.7 206.1h0M538.1 210.9h0"/><path class="k127" d="M541.2 215.7h0"/><path class="k29" d="M543.7 222.7h0M546.2 227.7h0"/><path class="k123" d="M548.0 239.3h0M549.6 246.5h0"/><path class="k25" d="M551.0 258.1h0"/><path class="k22" d="M552.2 265.5h0"/><path class="k120" d="M553.1 272.9h0"/><path class="k26" d="M553.4 296.1h0"/><path class="k28" d="M553.5 282.4h0"/><path class="k106" d="M433.7 213.5h0M424.4 214.8h0"/><path class="k118" d="M320.3 261.1h0M325.3 265.1h0"/><path class="k51" d="M356.3 286.8h0"/><path class="k39" d="M348.7 282.0h0"/><path class="k99" d="M342.2 277.2h0"/><path class="k109" d="M332.7 270.3h0"/><path class="k40" d="M367.7 293.2h0"/><path class="k110" d="M484.0 182.6h0M489.9 183.6h0"/><path class="k117" d="M496.8 291.3h0M506.8 290.0h0"/><path class="k122" d="M474.2 294.1h0M490.3 292.3h0M464.3 294.5h0M480.2 293.7h0M458.9 294.6h0M449.4 295.4h0"/><path class="k101" d="M432.3 284.4h0"/><path class="k104" d="M440.6 290.6h0"/><path class="k124" d="M530.8 197.2h0M534.7 203.8h0"/><path class="k64" d="M538.2 208.7h0M541.2 213.5h0"/><path class="k127" d="M543.8 220.6h0"/><path class="k125" d="M548.0 237.0h0"/><path class="k29" d="M546.3 225.6h0"/><path class="k25" d="M551.1 256.0h0"/><path class="k123" d="M549.9 244.5h0"/><path class="k121" d="M552.3 263.4h0"/><path class="k22" d="M553.2 270.8h0"/><path class="k24" d="M553.5 294.1h0"/><path class="k119" d="M553.6 280.2h0"/><path class="k106" d="M423.0 216.0h0M434.2 216.1h0"/><path class="k118" d="M318.9 258.2h0"/><path class="k39" d="M345.8 280.0h0M349.6 282.7h0"/><path class="k51" d="M357.5 287.6h0"/><path class="k99" d="M339.6 275.3h0"/><path class="k109" d="M329.3 267.9h0"/><path class="k40" d="M368.8 293.7h0"/><path class="k117" d="M501.3 291.0h0M494.8 291.9h0M445.1 294.1h0"/><path class="k122" d="M469.9 294.7h0M476.4 294.3h0M484.2 293.3h0M461.1 294.8h0M456.0 295.1h0"/><path class="k104" d="M510.5 289.7h0"/><path class="k101" d="M435.5 286.2h0"/><path class="k124" d="M534.8 201.7h0"/><path class="k128" d="M538.2 206.4h0"/><path class="k64" d="M541.2 211.2h0"/><path class="k127" d="M543.9 218.4h0M546.4 223.4h0"/><path class="k125" d="M548.2 235.0h0"/><path class="k123" d="M549.9 242.2h0"/><path class="k23" d="M551.2 253.8h0"/><path class="k25" d="M552.3 261.1h0"/><path class="k22" d="M553.2 268.4h0"/><path class="k28" d="M553.6 291.9h0"/><path class="k119" d="M553.6 278.0h0"/><path class="k106" d="M421.6 216.2h0M436.7 218.4h0"/><path class="k118" d="M321.8 261.8h0M326.5 266.0h0"/><path class="k39" d="M353.3 285.0h0M346.7 280.9h0"/><path class="k51" d="M358.4 288.0h0"/><path class="k99" d="M343.0 278.0h0M336.7 273.2h0"/><path class="k40" d="M369.9 294.3h0"/><path class="k122" d="M472.7 294.7h0M466.4 294.9h0M478.5 294.4h0M458.1 295.3h0M451.4 295.6h0"/><path class="k117" d="M488.4 292.9h0M499.1 291.6h0M504.7 290.8h0M443.0 292.9h0"/><path class="k101" d="M514.3 289.5h0M433.3 286.0h0M438.7 289.6h0"/><path class="k124" d="M534.8 199.4h0"/><path class="k128" d="M538.1 204.2h0M541.2 209.1h0"/><path class="k64" d="M543.9 216.2h0"/><path class="k127" d="M546.4 221.2h0"/><path class="k126" d="M548.3 232.8h0"/><path class="k125" d="M549.9 240.0h0"/><path class="k23" d="M551.3 251.7h0"/><path class="k25" d="M552.5 259.0h0"/><path class="k121" d="M553.3 266.4h0"/><path class="k28" d="M553.6 289.7h0"/><path class="k120" d="M553.7 275.8h0"/><path class="k106" d="M424.9 216.4h0M420.0 216.7h0M438.7 218.8h0"/><path class="k118" d="M320.3 259.0h0"/><path class="k39" d="M354.4 285.7h0"/><path class="k99" d="M340.1 275.9h0M343.8 278.9h0"/><path class="k109" d="M333.8 271.0h0"/><path class="k51" d="M359.5 288.8h0"/><path class="k40" d="M371.0 294.8h0"/><path class="k117" d="M492.6 292.5h0M482.4 294.0h0M502.4 291.4h0M447.1 296.1h0"/><path class="k122" d="M468.7 295.4h0M474.9 294.9h0M463.3 295.2h0M453.4 295.7h0"/><path class="k104" d="M508.3 290.5h0M441.0 291.9h0"/><path class="k101" d="M436.3 287.8h0M518.3 290.7h0"/><path class="k128" d="M538.3 202.1h0M541.2 206.8h0"/><path class="k64" d="M544.0 214.0h0M546.3 218.9h0"/><path class="k29" d="M548.3 230.6h0"/><path class="k125" d="M550.0 237.9h0"/><path class="k123" d="M551.4 249.6h0"/><path class="k23" d="M552.5 256.8h0"/><path class="k25" d="M553.3 264.1h0"/><path class="k28" d="M553.7 287.5h0"/><path class="k22" d="M553.8 273.7h0"/><path class="k106" d="M420.2 216.8h0M425.0 217.0h0"/><path class="k118" d="M321.6 259.5h0"/><path class="k39" d="M350.8 283.5h0M355.4 286.4h0"/><path class="k99" d="M337.4 274.0h0M341.1 276.9h0"/><path class="k109" d="M330.5 268.8h0"/><path class="k51" d="M360.6 289.4h0"/><path class="k40" d="M372.0 295.3h0"/><path class="k117" d="M486.5 293.6h0M497.0 292.3h0M480.6 294.6h0M455.5 295.9h0M449.1 296.2h0"/><path class="k122" d="M471.4 295.4h0M465.3 295.6h0M460.2 295.6h0"/><path class="k104" d="M505.9 291.1h0"/><path class="k101" d="M511.9 290.2h0M434.2 287.6h0M439.3 291.0h0M521.9 292.1h0"/><path class="k128" d="M541.4 204.7h0M544.1 211.8h0"/><path class="k29" d="M548.3 228.3h0"/><path class="k64" d="M546.5 216.8h0"/><path class="k126" d="M550.0 235.6h0"/><path class="k123" d="M551.4 247.4h0"/><path class="k23" d="M552.6 254.7h0"/><path class="k25" d="M553.4 262.0h0"/><path class="k28" d="M553.8 285.3h0"/><path class="k22" d="M553.8 271.5h0"/><path class="k106" d="M428.5 217.2h0M420.5 218.3h0"/><path class="k118" d="M323.2 262.5h0"/><path class="k39" d="M347.7 281.7h0M356.5 287.1h0"/><path class="k109" d="M334.7 271.9h0"/><path class="k51" d="M361.6 289.9h0"/><path class="k40" d="M373.2 295.9h0"/><path class="k117" d="M490.7 293.2h0M476.9 295.1h0M484.5 294.2h0M500.1 292.1h0M457.4 296.1h0M451.0 296.3h0M445.2 295.1h0"/><path class="k122" d="M467.4 296.1h0M462.2 295.9h0"/><path class="k101" d="M509.5 290.9h0M437.0 289.4h0M515.9 291.4h0M525.6 293.6h0"/><path class="k128" d="M544.2 209.7h0M546.4 214.5h0"/><path class="k127" d="M548.4 226.2h0"/><path class="k123" d="M551.4 245.1h0M552.7 252.5h0"/><path class="k29" d="M550.2 233.5h0"/><path class="k23" d="M553.4 259.7h0"/><path class="k119" d="M553.8 283.2h0"/><path class="k121" d="M553.9 269.3h0"/><path class="k82" d="M431.2 220.0h0"/><path class="k106" d="M422.8 218.3h0"/><path class="k118" d="M324.7 263.3h0"/><path class="k39" d="M351.5 284.1h0M357.6 287.7h0"/><path class="k99" d="M338.1 274.8h0"/><path class="k109" d="M331.7 269.7h0"/><path class="k51" d="M362.7 290.6h0"/><path class="k40" d="M374.2 296.4h0"/><path class="k117" d="M494.9 292.9h0M473.3 295.5h0M488.7 293.9h0M464.2 296.3h0M478.9 295.3h0M459.4 296.3h0M453.0 296.5h0M447.2 296.9h0"/><path class="k104" d="M503.7 291.9h0M443.3 294.0h0"/><path class="k101" d="M435.1 289.2h0M513.4 292.1h0M519.4 292.8h0M529.5 295.4h0"/><path class="k128" d="M544.1 207.3h0M546.5 212.3h0"/><path class="k127" d="M548.5 224.0h0"/><path class="k29" d="M550.1 231.2h0"/><path class="k125" d="M551.5 243.0h0"/><path class="k123" d="M552.6 250.1h0"/><path class="k23" d="M553.6 257.7h0"/><path class="k119" d="M553.9 281.1h0"/><path class="k25" d="M554.0 267.2h0"/><path class="k106" d="M418.6 218.7h0M423.9 218.9h0M433.1 219.1h0"/><path class="k118" d="M323.1 260.3h0M327.7 266.8h0"/><path class="k39" d="M348.6 282.3h0M352.6 284.7h0M359.0 288.6h0"/><path class="k109" d="M335.6 272.9h0"/><path class="k51" d="M363.5 291.0h0"/><path class="k40" d="M375.5 297.0h0"/><path class="k122" d="M469.9 296.0h0"/><path class="k117" d="M492.7 293.6h0M482.7 294.9h0M475.3 295.8h0M461.3 296.6h0M454.9 296.7h0M449.0 297.0h0"/><path class="k104" d="M497.9 292.7h0M441.5 293.2h0"/><path class="k101" d="M507.1 291.7h0M516.9 293.4h0M523.1 294.2h0"/><path class="k27" d="M532.5 296.8h0"/><path class="k64" d="M548.5 221.7h0"/><path class="k128" d="M546.6 210.1h0"/><path class="k127" d="M550.2 229.0h0"/><path class="k125" d="M551.6 240.8h0"/><path class="k123" d="M552.7 248.0h0M553.6 255.4h0"/><path class="k120" d="M554.0 278.9h0"/><path class="k25" d="M554.0 264.8h0"/><path class="k106" d="M431.8 219.5h0M414.3 219.5h0"/><path class="k99" d="M344.7 279.7h0"/><path class="k118" d="M326.2 263.9h0M329.3 267.5h0"/><path class="k39" d="M353.5 285.3h0M359.7 288.9h0"/><path class="k51" d="M364.7 291.6h0"/><path class="k40" d="M376.6 297.4h0"/><path class="k117" d="M486.6 294.5h0M471.8 296.2h0M466.1 296.7h0M480.7 295.6h0M456.7 296.9h0M450.8 297.2h0M445.4 296.0h0"/><path class="k104" d="M495.7 293.5h0M501.3 292.6h0"/><path class="k101" d="M510.9 292.7h0M520.5 294.8h0M526.8 295.9h0"/><path class="k27" d="M536.7 297.6h0"/><path class="k64" d="M548.6 219.6h0"/><path class="k127" d="M550.2 226.8h0"/><path class="k126" d="M551.7 238.6h0"/><path class="k125" d="M552.8 245.8h0"/><path class="k123" d="M553.6 253.2h0"/><path class="k22" d="M554.0 276.6h0"/><path class="k23" d="M554.1 262.8h0"/><path class="k106" d="M428.7 219.8h0M414.2 220.0h0"/><path class="k118" d="M324.6 261.0h0"/><path class="k99" d="M341.9 277.7h0"/><path class="k109" d="M332.6 270.6h0"/><path class="k39" d="M354.6 286.0h0"/><path class="k51" d="M360.9 289.6h0M365.9 292.2h0"/><path class="k40" d="M377.7 297.9h0"/><path class="k117" d="M468.4 296.7h0M490.6 294.3h0M477.1 296.0h0M484.6 295.2h0M463.0 297.0h0M452.5 297.3h0M447.1 297.7h0"/><path class="k104" d="M499.0 293.3h0"/><path class="k101" d="M504.7 292.4h0M514.3 294.0h0M524.1 296.3h0"/><path class="k27" d="M529.9 297.4h0M540.6 298.3h0"/><path class="k128" d="M548.6 217.3h0"/><path class="k29" d="M551.7 236.3h0"/><path class="k64" d="M550.4 224.7h0"/><path class="k125" d="M552.9 243.7h0"/><path class="k123" d="M553.7 251.1h0"/><path class="k22" d="M554.1 274.5h0"/><path class="k23" d="M554.1 260.5h0"/><path class="k106" d="M418.6 220.5h0M429.9 220.6h0"/><path class="k99" d="M345.7 280.5h0M338.9 275.6h0"/><path class="k118" d="M326.0 261.5h0"/><path class="k39" d="M355.7 286.6h0M361.8 290.1h0"/><path class="k51" d="M367.0 292.8h0"/><path class="k40" d="M378.7 298.3h0"/><path class="k117" d="M473.6 296.5h0M458.5 297.1h0M488.5 295.0h0M464.8 297.4h0M478.8 296.3h0M448.8 297.8h0"/><path class="k104" d="M493.4 294.1h0M443.6 295.1h0"/><path class="k101" d="M502.2 293.1h0M508.4 293.4h0M517.8 295.4h0"/><path class="k27" d="M527.1 297.8h0M534.0 298.1h0"/><path class="k128" d="M548.8 215.2h0"/><path class="k29" d="M551.7 234.1h0"/><path class="k64" d="M550.4 222.5h0"/><path class="k126" d="M553.0 241.6h0"/><path class="k125" d="M553.8 248.8h0"/><path class="k129" d="M554.2 272.5h0"/><path class="k36" d="M554.3 258.6h0"/><path class="k106" d="M420.9 220.7h0M429.2 220.7h0"/><path class="k39" d="M349.4 282.8h0M356.8 287.3h0"/><path class="k118" d="M327.8 264.7h0"/><path class="k99" d="M342.7 278.5h0"/><path class="k109" d="M336.1 273.5h0"/><path class="k51" d="M363.0 290.7h0M368.3 293.4h0"/><path class="k117" d="M470.3 296.9h0M460.2 297.4h0M475.1 296.6h0M482.6 295.9h0M454.3 297.5h0M445.5 297.0h0"/><path class="k104" d="M491.2 294.8h0M496.7 294.0h0"/><path class="k101" d="M439.9 292.5h0M505.9 294.0h0M511.7 294.6h0"/><path class="k27" d="M521.4 296.8h0M531.2 298.5h0M537.8 298.7h0"/><path class="k128" d="M548.8 213.0h0M550.5 220.3h0"/><path class="k127" d="M551.9 232.0h0"/><path class="k29" d="M553.0 239.3h0"/><path class="k34" d="M553.8 246.6h0"/><path class="k30" d="M554.3 270.1h0"/><path class="k36" d="M554.2 256.1h0"/><path class="k106" d="M419.7 220.9h0"/><path class="k99" d="M346.6 281.1h0M339.8 276.4h0"/><path class="k118" d="M330.8 268.1h0"/><path class="k39" d="M358.1 288.0h0"/><path class="k51" d="M364.0 291.2h0M369.4 293.9h0"/><path class="k117" d="M467.2 297.4h0M486.4 295.6h0M461.8 297.8h0M455.9 297.7h0M450.5 298.0h0M476.9 297.0h0"/><path class="k101" d="M437.8 291.0h0M499.8 293.8h0M509.1 295.2h0M515.1 295.8h0"/><path class="k104" d="M442.0 294.5h0M494.3 294.7h0"/><path class="k27" d="M524.3 298.1h0M535.0 299.2h0M541.4 299.4h0"/><path class="k128" d="M550.5 218.0h0"/><path class="k127" d="M551.9 229.8h0"/><path class="k29" d="M553.1 237.1h0"/><path class="k50" d="M553.9 244.4h0"/><path class="k30" d="M554.3 267.9h0"/><path class="k36" d="M554.3 253.9h0"/><path class="k106" d="M424.0 221.0h0"/><path class="k118" d="M329.1 265.1h0"/><path class="k39" d="M350.5 283.6h0M359.0 288.6h0"/><path class="k109" d="M333.4 271.4h0M336.9 274.4h0"/><path class="k99" d="M343.8 279.4h0"/><path class="k51" d="M365.4 291.9h0M370.6 294.5h0"/><path class="k117" d="M471.8 297.1h0M457.7 297.9h0M463.5 298.1h0M480.5 296.6h0M452.1 298.2h0M447.2 298.6h0"/><path class="k104" d="M489.0 295.6h0"/><path class="k101" d="M436.0 290.8h0M497.4 294.6h0M503.5 294.8h0M512.6 296.4h0"/><path class="k27" d="M518.7 297.3h0M528.4 298.9h0M544.3 299.2h0"/><path class="k128" d="M550.6 215.8h0"/><path class="k64" d="M552.0 227.7h0"/><path class="k48" d="M553.1 234.8h0"/><path class="k31" d="M554.0 242.2h0"/><path class="k32" d="M554.4 265.8h0"/><path class="k34" d="M554.4 251.8h0"/><path class="k41" d="M424.4 223.3h0"/><path class="k118" d="M327.4 262.1h0M331.9 268.6h0"/><path class="k39" d="M351.6 284.3h0M360.2 289.2h0"/><path class="k99" d="M347.5 281.8h0M340.6 277.2h0"/><path class="k51" d="M371.4 294.9h0M366.6 292.5h0"/><path class="k117" d="M468.6 297.6h0M473.5 297.4h0M459.3 298.2h0M453.7 298.3h0M448.7 298.7h0M478.6 297.4h0"/><path class="k104" d="M484.2 296.3h0M443.9 296.3h0M492.0 295.4h0"/><path class="k101" d="M438.6 292.5h0M500.9 295.4h0M506.6 295.8h0"/><path class="k27" d="M516.0 297.8h0M521.6 298.7h0M532.2 299.5h0"/><path class="k64" d="M552.0 225.3h0"/><path class="k48" d="M553.1 232.5h0"/><path class="k31" d="M554.0 240.0h0"/><path class="k32" d="M554.5 263.6h0"/><path class="k34" d="M554.5 249.6h0"/><path class="k130" d="M422.3 221.3h0"/><path class="k118" d="M330.7 265.8h0"/><path class="k99" d="M344.8 280.1h0"/><path class="k109" d="M334.5 272.4h0"/><path class="k39" d="M352.8 285.0h0M361.1 289.6h0"/><path class="k51" d="M367.6 293.0h0M372.6 295.5h0"/><path class="k117" d="M465.7 298.1h0M460.6 298.6h0M455.1 298.5h0M474.9 297.7h0M450.2 298.9h0"/><path class="k104" d="M486.7 296.2h0M482.0 297.0h0"/><path class="k101" d="M440.5 294.0h0M494.9 295.3h0M504.0 296.4h0M509.9 296.9h0"/><path class="k27" d="M518.8 299.0h0M525.6 299.4h0M535.8 300.3h0"/><path class="k112" d="M552.1 223.1h0"/><path class="k38" d="M553.3 230.5h0"/><path class="k36" d="M554.5 261.2h0"/><path class="k48" d="M554.1 237.8h0"/><path class="k50" d="M554.5 247.3h0"/><path class="k118" d="M329.0 262.8h0M333.2 269.4h0"/><path class="k99" d="M348.6 282.4h0M341.8 278.2h0"/><path class="k109" d="M338.0 275.4h0"/><path class="k39" d="M353.9 285.6h0M362.5 290.4h0"/><path class="k51" d="M368.9 293.6h0"/><path class="k40" d="M373.9 296.1h0"/><path class="k117" d="M470.2 297.9h0M462.2 298.9h0M456.7 298.7h0M451.7 299.0h0M445.7 298.1h0"/><path class="k101" d="M436.9 292.4h0M498.3 296.0h0"/><path class="k104" d="M476.5 298.1h0M484.5 297.0h0M489.6 296.1h0"/><path class="k27" d="M507.2 297.4h0M513.3 298.2h0M522.8 299.7h0M529.4 300.0h0M538.6 300.0h0"/><path class="k112" d="M552.2 220.9h0"/><path class="k38" d="M553.4 228.3h0"/><path class="k48" d="M554.2 235.6h0"/><path class="k36" d="M554.6 259.2h0"/><path class="k31" d="M554.6 245.2h0"/><path class="k118" d="M330.6 263.5h0"/><path class="k109" d="M335.7 273.0h0"/><path class="k99" d="M349.7 283.2h0M345.7 280.7h0"/><path class="k39" d="M355.1 286.4h0M363.7 291.0h0"/><path class="k51" d="M369.8 294.1h0"/><path class="k40" d="M374.9 296.5h0"/><path class="k117" d="M467.1 298.4h0M458.1 299.0h0M453.0 299.2h0M447.1 299.5h0"/><path class="k104" d="M442.5 295.8h0M479.9 297.7h0M487.3 296.9h0"/><path class="k101" d="M492.5 296.0h0M501.4 297.0h0"/><path class="k27" d="M510.6 298.7h0M516.1 299.5h0M526.6 300.4h0M533.0 300.7h0"/><path class="k26" d="M541.9 300.6h0"/><path class="k112" d="M552.2 218.7h0M553.4 226.0h0"/><path class="k38" d="M554.2 233.3h0"/><path class="k36" d="M554.6 257.0h0"/><path class="k31" d="M554.7 242.9h0"/><path class="k118" d="M332.0 266.6h0"/><path class="k109" d="M338.8 276.2h0"/><path class="k99" d="M350.8 283.9h0M343.0 279.0h0"/><path class="k39" d="M356.1 286.9h0M364.7 291.4h0"/><path class="k51" d="M371.2 294.7h0"/><path class="k117" d="M464.2 298.8h0M471.6 298.1h0M459.5 299.4h0M454.5 299.4h0M448.5 299.6h0"/><path class="k104" d="M444.2 297.5h0M482.3 297.7h0"/><path class="k101" d="M439.3 294.1h0M490.1 296.8h0M495.9 296.7h0"/><path class="k27" d="M504.7 298.1h0M513.4 299.9h0M520.0 300.1h0M530.1 301.1h0"/><path class="k26" d="M544.8 300.3h0"/><path class="k112" d="M553.4 223.8h0"/><path class="k38" d="M554.3 231.2h0"/><path class="k34" d="M554.7 254.8h0"/><path class="k48" d="M554.7 240.7h0"/><path class="k118" d="M334.4 270.0h0"/><path class="k99" d="M346.7 281.4h0M352.2 284.7h0"/><path class="k39" d="M357.5 287.7h0M366.0 292.1h0"/><path class="k117" d="M468.4 298.6h0M455.8 299.6h0M449.8 299.8h0"/><path class="k101" d="M441.1 295.4h0M493.4 297.4h0"/><path class="k104" d="M484.9 297.5h0"/><path class="k27" d="M498.9 297.7h0M507.9 299.2h0M517.2 300.5h0M523.8 300.8h0"/><path class="k26" d="M547.7 300.0h0"/><path class="k112" d="M553.5 221.6h0M554.4 229.0h0"/><path class="k34" d="M554.8 252.6h0"/><path class="k48" d="M554.8 238.6h0"/><path class="k118" d="M333.1 267.2h0"/><path class="k109" d="M336.9 273.6h0"/><path class="k99" d="M347.8 282.1h0M343.8 279.6h0M353.1 285.2h0"/><path class="k39" d="M358.3 288.1h0M367.1 292.6h0"/><path class="k117" d="M465.5 299.1h0M473.1 298.5h0M451.2 299.9h0"/><path class="k101" d="M437.8 294.0h0M487.6 297.5h0"/><path class="k104" d="M445.8 299.1h0"/><path class="k27" d="M496.2 298.2h0M502.0 298.6h0M510.7 300.4h0M520.9 301.1h0M527.3 301.5h0"/><path class="k26" d="M550.5 299.6h0"/><path class="k112" d="M554.4 226.6h0"/><path class="k50" d="M554.9 250.4h0"/><path class="k38" d="M554.9 236.3h0"/><path class="k118" d="M331.9 264.2h0M335.6 270.7h0"/><path class="k109" d="M339.8 277.0h0"/><path class="k99" d="M349.0 282.8h0M344.9 280.3h0M354.3 285.9h0"/><path class="k39" d="M359.4 288.7h0"/><path class="k117" d="M469.8 298.9h0M462.8 299.6h0M452.4 300.1h0M447.1 300.4h0"/><path class="k104" d="M442.9 297.1h0"/><path class="k27" d="M490.8 298.1h0M499.3 299.1h0M505.2 299.7h0M514.5 301.0h0"/><path class="k26" d="M553.4 299.2h0"/><path class="k112" d="M554.5 224.5h0"/><path class="k31" d="M554.9 248.1h0"/><path class="k38" d="M554.9 234.0h0"/><path class="k118" d="M334.3 267.8h0"/><path class="k99" d="M345.8 280.9h0M350.1 283.5h0M355.4 286.5h0"/><path class="k39" d="M360.7 289.4h0"/><path class="k117" d="M461.0 299.7h0M466.8 299.4h0"/><path class="k104" d="M474.4 298.8h0M444.5 298.7h0"/><path class="k101" d="M440.0 295.7h0"/><path class="k27" d="M493.7 298.8h0M502.5 300.1h0M507.9 300.7h0M518.1 301.5h0"/><path class="k24" d="M553.5 296.9h0"/><path class="k31" d="M555.0 245.9h0"/><path class="k112" d="M555.0 231.8h0"/><path class="k118" d="M333.0 264.9h0M336.8 271.3h0"/><path class="k99" d="M351.2 284.1h0M356.5 287.1h0"/><path class="k39" d="M361.9 289.9h0"/><path class="k117" d="M457.2 299.8h0M464.0 299.9h0M448.4 300.5h0"/><path class="k104" d="M477.7 298.4h0M471.1 299.2h0"/><path class="k101" d="M441.7 296.9h0"/><path class="k27" d="M496.7 299.7h0M505.1 301.2h0M511.6 301.2h0M521.6 302.2h0"/><path class="k28" d="M553.6 294.8h0"/><path class="k48" d="M555.1 243.8h0"/><path class="k112" d="M555.1 229.6h0"/><path class="k109" d="M338.2 274.3h0"/><path class="k118" d="M335.6 268.5h0"/><path class="k99" d="M347.3 281.8h0M352.4 284.8h0M357.6 287.7h0"/><path class="k39" d="M363.0 290.5h0"/><path class="k117" d="M458.3 300.2h0"/><path class="k104" d="M468.0 299.6h0M480.0 298.4h0"/><path class="k101" d="M438.7 295.6h0M443.4 298.4h0"/><path class="k27" d="M499.8 300.6h0M508.9 301.6h0M515.3 301.9h0M524.4 301.9h0"/><path class="k28" d="M553.6 292.7h0"/><path class="k48" d="M555.1 241.4h0"/><path class="k112" d="M555.1 227.4h0"/><path class="k118" d="M334.2 265.5h0"/><path class="k109" d="M340.9 277.7h0"/><path class="k99" d="M353.7 285.5h0M358.9 288.4h0"/><path class="k117" d="M453.7 300.3h0M461.4 300.4h0"/><path class="k104" d="M475.6 299.2h0M482.6 298.3h0"/><path class="k27" d="M440.8 297.2h0M502.4 301.6h0M512.5 302.3h0M524.8 302.8h0"/><path class="k28" d="M553.7 290.6h0"/><path class="k38" d="M555.2 239.2h0"/><path class="k109" d="M339.5 275.0h0"/><path class="k99" d="M354.8 286.1h0M360.1 289.0h0"/><path class="k117" d="M459.6 300.5h0"/><path class="k104" d="M465.0 300.1h0M472.3 299.5h0M449.6 300.7h0M477.7 299.2h0"/><path class="k27" d="M485.2 298.2h0M506.1 302.1h0M515.9 302.9h0M527.7 302.5h0"/><path class="k28" d="M553.8 288.3h0"/><path class="k38" d="M555.2 237.0h0"/><path class="k118" d="M338.1 272.0h0"/><path class="k109" d="M342.2 278.5h0"/><path class="k99" d="M356.1 286.8h0"/><path class="k117" d="M455.0 300.5h0"/><path class="k104" d="M469.1 299.9h0M462.3 300.7h0"/><path class="k131" d="M445.9 300.2h0M480.2 299.0h0"/><path class="k27" d="M488.4 298.8h0M509.6 302.6h0M518.8 302.6h0M530.5 302.2h0"/><path class="k119" d="M553.8 286.3h0"/><path class="k112" d="M555.3 234.9h0"/><path class="k118" d="M336.8 269.1h0"/><path class="k109" d="M340.8 275.6h0"/><path class="k99" d="M357.0 287.3h0"/><path class="k104" d="M456.1 300.7h0M466.1 300.4h0M450.7 300.9h0"/><path class="k131" d="M473.4 299.9h0"/><path class="k27" d="M482.8 299.0h0M491.1 299.5h0M513.1 303.3h0"/><path class="k26" d="M533.4 301.8h0"/><path class="k119" d="M553.9 284.0h0"/><path class="k112" d="M555.4 232.6h0"/><path class="k118" d="M335.5 266.2h0"/><path class="k109" d="M343.3 278.9h0"/><path class="k131" d="M457.1 301.1h0M451.8 301.0h0M470.3 300.3h0M447.2 301.3h0M475.5 299.9h0"/><path class="k27" d="M485.8 299.4h0M494.1 300.2h0"/><path class="k26" d="M536.2 301.5h0"/><path class="k60" d="M553.9 281.8h0"/><path class="k112" d="M555.5 230.4h0"/><path class="k118" d="M338.0 269.7h0"/><path class="k131" d="M459.9 301.2h0M452.9 301.2h0M444.8 299.9h0"/><path class="k27" d="M477.9 299.8h0M488.5 300.0h0M497.1 301.1h0"/><path class="k26" d="M539.1 301.2h0"/><path class="k37" d="M554.0 279.7h0"/><path class="k118" d="M336.5 266.6h0M339.5 272.7h0"/><path class="k131" d="M463.3 300.9h0M458.3 301.3h0M448.2 301.5h0"/><path class="k27" d="M442.3 298.3h0M480.3 299.7h0M491.4 300.7h0M499.6 302.1h0"/><path class="k37" d="M554.1 277.5h0"/><path class="k109" d="M342.1 276.2h0"/><path class="k131" d="M467.2 300.7h0M454.1 301.4h0M460.8 301.5h0M449.3 301.7h0"/><path class="k27" d="M439.6 297.2h0M443.8 299.8h0M483.3 300.1h0M494.4 301.6h0M503.3 302.5h0"/><path class="k129" d="M554.2 275.4h0"/><path class="k118" d="M340.7 273.3h0"/><path class="k109" d="M344.8 279.6h0"/><path class="k131" d="M455.1 301.6h0M464.3 301.2h0M471.2 300.6h0M450.3 301.8h0"/><path class="k27" d="M441.6 298.8h0M485.9 300.6h0M496.9 302.4h0M506.8 303.0h0"/><path class="k30" d="M554.2 273.2h0"/><path class="k118" d="M339.3 270.4h0"/><path class="k99" d="M348.2 282.3h0"/><path class="k109" d="M343.4 276.8h0"/><path class="k131" d="M468.2 301.0h0M456.0 301.9h0M446.1 301.3h0M461.6 301.8h0M473.2 300.6h0M451.2 302.0h0"/><path class="k27" d="M440.5 298.7h0M488.8 301.3h0M500.5 302.9h0"/><path class="k30" d="M554.3 270.9h0"/><path class="k118" d="M337.9 267.4h0M342.0 273.9h0"/><path class="k109" d="M346.1 280.1h0"/><path class="k131" d="M458.4 302.1h0M465.2 301.5h0M452.2 302.2h0M445.1 301.1h0"/><path class="k27" d="M475.5 300.5h0M491.7 302.1h0M504.0 303.4h0"/><path class="k32" d="M554.4 268.7h0"/><path class="k118" d="M340.6 271.0h0"/><path class="k109" d="M344.6 277.3h0"/><path class="k99" d="M349.5 283.1h0"/><path class="k131" d="M456.9 302.2h0M469.1 301.4h0M447.2 302.3h0M462.4 302.0h0"/><path class="k27" d="M443.0 299.8h0M477.9 300.4h0M494.1 302.8h0M507.4 303.9h0"/><path class="k32" d="M554.4 266.5h0"/><path class="k118" d="M339.2 268.1h0M343.4 274.6h0"/><path class="k109" d="M347.5 280.7h0"/><path class="k131" d="M453.1 302.3h0M459.2 302.3h0M448.1 302.5h0M466.2 301.8h0M470.9 301.4h0"/><path class="k27" d="M480.7 300.7h0M497.7 303.2h0M510.2 303.7h0"/><path class="k36" d="M554.5 264.5h0"/><path class="k118" d="M341.9 271.6h0"/><path class="k109" d="M346.2 278.0h0"/><path class="k99" d="M350.8 283.9h0"/><path class="k131" d="M454.0 302.5h0M449.0 302.7h0M463.3 302.3h0"/><path class="k27" d="M444.3 301.1h0M473.1 301.2h0M483.3 301.3h0M501.2 303.7h0"/><path class="k36" d="M554.6 262.2h0"/><path class="k118" d="M340.6 268.7h0M344.5 275.0h0"/><path class="k109" d="M348.8 281.2h0"/><path class="k131" d="M459.9 302.6h0M454.8 302.9h0M449.8 302.9h0M466.8 302.1h0"/><path class="k27" d="M475.5 301.2h0M486.1 301.8h0M504.5 304.3h0"/><path class="k36" d="M554.6 259.9h0"/><path class="k118" d="M343.4 272.3h0"/><path class="k99" d="M351.8 284.4h0"/><path class="k109" d="M347.6 278.6h0"/><path class="k131" d="M456.9 302.9h0M446.3 302.4h0M464.1 302.6h0"/><path class="k27" d="M478.2 301.4h0M488.9 302.5h0"/><path class="k34" d="M554.7 257.7h0"/><path class="k118" d="M341.9 269.4h0M346.1 275.7h0"/><path class="k109" d="M350.3 281.8h0"/><path class="k131" d="M455.6 303.1h0M450.6 303.0h0M460.6 302.9h0M468.6 302.1h0"/><path class="k27" d="M442.4 300.3h0M480.7 301.9h0M491.4 303.3h0"/><path class="k34" d="M554.8 255.6h0"/><path class="k109" d="M348.6 278.8h0"/><path class="k118" d="M344.6 272.8h0"/><path class="k99" d="M353.0 285.0h0"/><path class="k131" d="M451.4 303.2h0M457.6 303.2h0"/><path class="k27" d="M441.4 300.3h0M470.8 302.0h0M483.4 302.4h0M494.9 303.6h0"/><path class="k50" d="M554.8 253.3h0"/><path class="k118" d="M343.0 269.8h0M347.3 276.1h0"/><path class="k109" d="M351.7 282.4h0"/><path class="k131" d="M445.4 302.4h0M452.2 303.3h0M461.3 303.1h0"/><path class="k27" d="M473.0 301.9h0M486.3 303.0h0M498.4 304.1h0"/><path class="k31" d="M554.9 251.0h0"/><path class="k118" d="M345.9 273.3h0"/><path class="k99" d="M354.5 285.6h0"/><path class="k109" d="M350.2 279.5h0"/><path class="k27" d="M443.6 301.3h0M475.7 302.1h0M488.6 303.7h0"/><path class="k131" d="M453.0 303.5h0M464.7 302.9h0M458.2 303.5h0"/><path class="k31" d="M555.0 249.0h0"/><path class="k118" d="M344.5 270.5h0M348.6 276.6h0"/><path class="k109" d="M353.0 282.8h0"/><path class="k131" d="M447.1 303.4h0M453.6 303.8h0"/><path class="k27" d="M466.3 302.9h0M478.1 302.4h0M492.1 304.0h0"/><path class="k48" d="M555.0 246.7h0"/><path class="k118" d="M347.2 273.8h0"/><path class="k109" d="M351.7 280.1h0"/><path class="k131" d="M447.9 303.5h0M455.5 303.8h0M462.0 303.4h0"/><path class="k27" d="M468.4 302.8h0M480.8 302.9h0M495.5 304.4h0"/><path class="k48" d="M555.1 244.4h0"/><path class="k118" d="M346.0 271.1h0M350.2 277.3h0"/><path class="k27" d="M444.7 302.5h0M470.5 302.6h0M483.5 303.5h0M498.8 304.9h0"/><path class="k131" d="M454.3 304.0h0"/><path class="k38" d="M555.1 242.2h0"/><path class="k118" d="M348.7 274.4h0"/><path class="k131" d="M448.6 303.8h0M458.8 303.7h0"/><path class="k27" d="M473.2 302.7h0M485.8 304.1h0M501.7 304.6h0"/><path class="k38" d="M555.2 240.1h0"/><path class="k118" d="M347.4 271.7h0"/><path class="k131" d="M449.4 303.9h0M456.0 304.1h0M462.5 303.7h0"/><path class="k27" d="M475.5 303.1h0M489.3 304.4h0"/><path class="k112" d="M555.3 237.7h0"/><path class="k131" d="M446.4 303.6h0M459.3 304.0h0"/><path class="k27" d="M464.1 303.7h0M478.1 303.4h0M492.7 304.8h0"/><path class="k112" d="M555.4 235.6h0"/><path class="k27" d="M443.1 301.9h0M466.0 303.5h0M480.8 304.0h0M496.0 305.2h0"/><path class="k131" d="M450.0 304.1h0M456.5 304.4h0"/><path class="k112" d="M555.4 233.1h0"/><path class="k27" d="M442.3 301.9h0M468.1 303.4h0M483.1 304.5h0"/><path class="k131" d="M450.7 304.2h0M459.9 304.2h0"/><path class="k27" d="M444.2 302.7h0M470.6 303.4h0M486.5 304.8h0"/><path class="k131" d="M451.3 304.4h0"/><path class="k27" d="M445.7 303.6h0M472.9 303.7h0M489.9 305.2h0"/><path class="k131" d="M451.9 304.5h0"/><path class="k131" d="M447.1 304.4h0M454.0 304.8h0"/><path class="k27" d="M475.4 304.0h0M493.1 305.6h0"/><path class="k131" d="M447.8 304.6h0M456.9 304.6h0"/><path class="k27" d="M478.1 304.4h0"/><path class="k131" d="M452.4 304.8h0"/><path class="k27" d="M445.2 303.9h0M460.3 304.5h0M480.3 304.9h0"/><path class="k131" d="M448.4 304.9h0"/><path class="k27" d="M443.9 303.4h0M461.8 304.4h0M483.7 305.2h0"/><path class="k131" d="M453.0 305.0h0"/><path class="k27" d="M443.3 303.4h0M463.6 304.3h0M487.1 305.5h0"/><path class="k131" d="M448.9 305.0h0M454.4 305.0h0"/><path class="k27" d="M465.6 304.1h0M490.3 305.9h0"/><path class="k131" d="M446.5 304.8h0M457.4 304.8h0"/><path class="k27" d="M468.1 304.1h0"/><path class="k131" d="M449.4 305.1h0"/><path class="k27" d="M444.8 304.2h0M457.8 305.0h0M470.3 304.3h0"/><path class="k131" d="M449.9 305.3h0M454.7 305.3h0"/><path class="k27" d="M472.8 304.5h0M461.2 305.0h0"/><path class="k27" d="M446.1 304.9h0M465.6 304.8h0M475.4 304.8h0"/><path class="k131" d="M450.4 305.4h0"/><path class="k27" d="M477.5 305.3h0"/><path class="k131" d="M447.1 305.6h0"/><path class="k27" d="M480.9 305.5h0"/><path class="k131" d="M450.9 305.6h0"/><path class="k27" d="M484.2 305.8h0"/><path class="k27" d="M455.0 305.5h0M487.4 306.2h0"/><path class="k131" d="M447.6 305.7h0"/><path class="k27" d="M458.1 305.4h0M445.7 305.3h0"/><path class="k131" d="M452.5 305.7h0"/><path class="k27" d="M459.5 305.2h0M444.7 304.9h0"/><path class="k131" d="M451.1 305.8h0"/><path class="k27" d="M463.1 304.8h0M455.4 305.7h0"/><path class="k27" d="M467.7 304.9h0M463.0 305.5h0"/><path class="k131" d="M451.6 306.0h0"/><path class="k27" d="M470.1 305.1h0M452.7 306.0h0M448.0 306.0h0M465.0 305.5h0"/><path class="k27" d="M444.2 304.9h0M455.7 305.9h0M472.6 305.3h0M460.7 305.6h0M467.4 305.6h0"/><path class="k27" d="M448.4 306.1h0M458.8 305.8h0M469.9 305.8h0M474.8 305.7h0"/><path class="k27" d="M446.7 306.0h0M452.9 306.2h0M472.0 306.1h0M478.1 305.9h0"/><path class="k27" d="M448.8 306.3h0M457.2 306.0h0M475.3 306.3h0M481.4 306.2h0"/><path class="k27" d="M445.4 305.7h0M455.9 306.2h0M478.6 306.5h0M484.6 306.5h0"/><path class="k27" d="M449.1 306.4h0M460.5 306.1h0M481.7 306.8h0"/><path class="k27" d="M453.2 306.4h0M446.4 306.3h0M462.5 306.1h0"/><path class="k27" d="M449.5 306.5h0M464.7 306.1h0M458.2 306.3h0"/><path class="k27" d="M449.8 306.7h0M467.2 306.3h0"/><path class="k27" d="M451.1 306.7h0M469.2 306.5h0"/><path class="k27" d="M453.4 306.6h0M447.1 306.7h0M472.5 306.6h0"/><path class="k27" d="M449.9 306.9h0M456.4 306.6h0M475.7 306.8h0"/><path class="k27" d="M447.5 306.9h0M453.6 306.8h0M459.8 306.7h0M478.9 307.1h0"/><path class="k27" d="M450.2 307.0h0M462.1 306.7h0"/><path class="k27" d="M451.1 307.0h0M446.2 306.7h0M464.5 306.7h0"/><path class="k27" d="M445.4 306.4h0M454.9 306.8h0M466.5 306.9h0"/><path class="k27" d="M445.1 306.4h0M453.7 307.0h0M469.7 307.0h0"/><path class="k27" d="M457.9 306.8h0M447.7 307.2h0M472.9 307.1h0"/><path class="k27" d="M451.2 307.2h0M476.0 307.3h0"/><path class="k27" d="M447.9 307.4h0M455.7 307.1h0"/><path class="k27" d="M446.9 307.3h0M459.4 307.2h0"/><path class="k27" d="M451.3 307.4h0M461.7 307.2h0"/><path class="k27" d="M448.2 307.5h0M454.1 307.3h0M463.7 307.3h0"/><path class="k27" d="M446.1 307.1h0M451.4 307.5h0M457.2 307.3h0M466.9 307.3h0"/><path class="k27" d="M448.4 307.6h0M455.4 307.5h0M470.0 307.4h0"/><path class="k27" d="M448.5 307.7h0M459.0 307.7h0M473.2 307.6h0"/><path class="k27" d="M446.7 307.6h0M451.5 307.7h0"/><path class="k27" d="M449.6 307.8h0"/><path class="k27" d="M452.6 307.6h0"/><path class="k27" d="M448.7 307.8h0M456.7 307.7h0"/><path class="k27" d="M451.5 307.9h0M460.9 307.7h0"/><path class="k27" d="M447.1 308.0h0M453.2 307.8h0M464.1 307.7h0"/><path class="k27" d="M449.5 308.0h0M454.6 307.9h0M467.2 307.7h0"/><path class="k27" d="M448.7 308.0h0M470.3 307.9h0"/><path class="k27" d="M448.9 308.1h0"/><path class="k27" d="M447.3 308.2h0"/><path class="k27" d="M446.2 307.9h0"/><path class="k27" d="M446.0 307.9h0"/><path class="k27" d="M446.6 308.1h0"/><path class="k27" d="M449.4 308.2h0"/><path class="k27" d="M451.7 308.1h0"/><path class="k27" d="M452.8 308.1h0"/><path class="k27" d="M456.3 308.1h0M449.4 308.4h0"/><path class="k27" d="M458.1 308.1h0M447.4 308.5h0"/><path class="k27" d="M461.3 308.0h0M454.0 308.3h0"/><path class="k27" d="M449.4 308.5h0M464.4 308.0h0M458.4 308.4h0"/><path class="k27" d="M450.3 308.5h0M461.5 308.3h0M467.5 308.2h0"/><path class="k27" d="M449.4 308.6h0M464.6 308.4h0"/><path class="k27" d="M447.5 308.6h0"/><path class="k27" d="M452.0 308.5h0"/><path class="k27" d="M450.7 308.6h0"/><path class="k27" d="M455.4 308.5h0M447.0 308.6h0"/><path class="k27" d="M453.5 308.6h0M446.7 308.6h0"/><path class="k27" d="M447.5 308.8h0M455.6 308.7h0"/><path class="k27" d="M449.3 308.7h0M458.7 308.6h0"/><path class="k27" d="M447.6 308.9h0M461.8 308.6h0"/><path class="k27" d="M451.4 308.8h0M464.8 308.8h0"/><path class="k27" d="M450.2 308.8h0M467.6 308.6h0"/><path class="k27" d="M448.1 308.9h0M470.5 308.4h0"/><path class="k27" d="M447.6 309.0h0M473.4 308.1h0"/><path class="k27" d="M449.3 308.9h0M476.2 307.9h0"/><path class="k27" d="M452.6 308.9h0M447.6 309.0h0M479.1 307.7h0"/><path class="k27" d="M447.0 309.0h0M455.9 308.9h0M482.0 307.5h0"/><path class="k27" d="M450.8 309.0h0M458.9 308.9h0M484.8 307.2h0"/><path class="k27" d="M452.8 309.0h0M447.9 309.1h0M487.7 307.0h0"/><path class="k27" d="M449.3 309.1h0M490.5 306.7h0"/><path class="k27" d="M447.5 309.2h0M453.0 309.1h0M493.4 306.4h0"/><path class="k27" d="M447.5 309.3h0M456.0 309.1h0M496.3 306.1h0"/><path class="k27" d="M447.7 309.3h0M459.0 309.1h0M499.1 305.8h0"/><path class="k27" d="M449.8 309.3h0M461.9 309.0h0M502.0 305.5h0"/><path class="k27" d="M448.3 309.3h0M504.8 305.2h0"/><path class="k27" d="M447.1 309.3h0M507.7 304.9h0"/><path class="k27" d="M447.9 309.3h0M510.6 304.6h0"/><path class="k27" d="M448.7 309.3h0M513.4 304.3h0"/><path class="k27" d="M450.0 309.3h0M516.3 304.0h0"/><path class="k27" d="M447.0 309.4h0M453.2 309.3h0M519.1 303.6h0"/><path class="k27" d="M447.5 309.4h0M456.2 309.3h0M522.0 303.3h0"/><path class="k27" d="M447.0 309.4h0"/><path class="k27" d="M450.2 309.4h0"/><path class="k27" d="M448.1 309.5h0"/><path class="k27" d="M447.7 309.5h0"/><path class="k27" d="M447.4 309.5h0"/><path class="k27" d="M450.3 309.5h0"/><path class="k27" d="M447.1 309.5h0M453.3 309.4h0"/><path class="k27" d="M447.1 309.5h0"/><path class="k27" d="M447.3 309.5h0"/><path class="k27" d="M450.4 309.5h0"/><path class="k27" d="M447.3 309.6h0"/><path class="k27" d="M447.5 309.6h0"/><path class="k27" d="M447.6 309.6h0"/><path class="k27" d="M447.2 309.6h0"/><path class="k27" d="M447.1 309.6h0"/><path class="k27" d="M447.1 309.6h0"/><path class="k27" d="M447.1 309.6h0"/><path class="k27" d="M448.3 309.6h0"/><path class="k27" d="M447.1 309.7h0"/><path class="k27" d="M447.6 309.7h0"/><path class="k27" d="M447.1 309.7h0"/><path class="k27" d="M448.8 309.7h0"/><path class="k27" d="M451.1 309.6h0"/><path class="k27" d="M447.0 309.7h0M454.0 309.5h0"/><path class="k27" d="M447.0 309.7h0M456.9 309.5h0"/><path class="k27" d="M447.3 309.8h0M459.7 309.4h0"/><path class="k27" d="M447.0 309.8h0M462.6 309.3h0"/><path class="k27" d="M447.6 309.8h0M465.5 309.1h0"/><path class="k27" d="M447.7 309.8h0M468.3 309.0h0"/><path class="k27" d="M449.3 309.7h0M471.2 308.8h0"/><path class="k27" d="M446.9 309.8h0M474.1 308.6h0"/><path class="k27" d="M448.2 309.8h0M476.9 308.4h0"/><path class="k27" d="M447.7 309.8h0M479.8 308.3h0"/><path class="k27" d="M446.9 309.8h0M451.6 309.7h0M482.6 308.1h0"/><path class="k27" d="M448.3 309.9h0M454.5 309.7h0M485.5 307.8h0"/><path class="k27" d="M446.4 309.9h0M457.3 309.7h0M488.4 307.6h0"/><path class="k27" d="M449.8 309.8h0M460.2 309.7h0M491.2 307.4h0"/><path class="k27" d="M448.7 309.9h0M463.1 309.6h0M494.1 307.1h0"/><path class="k27" d="M446.4 310.0h0M452.1 309.8h0M465.9 309.5h0M496.9 306.9h0"/><path class="k27" d="M448.2 310.0h0M468.8 309.4h0M499.8 306.6h0"/><path class="k27" d="M447.9 310.0h0M471.6 309.3h0M502.7 306.3h0"/><path class="k27" d="M447.5 310.0h0M474.5 309.1h0M505.5 306.0h0"/><path class="k27" d="M450.4 310.0h0M477.3 309.0h0M508.4 305.8h0"/><path class="k27" d="M446.8 310.0h0M452.6 310.0h0M480.2 308.9h0M511.2 305.5h0"/><path class="k27" d="M447.1 310.1h0M454.9 309.9h0M483.0 308.7h0M514.1 305.3h0"/><path class="k27" d="M445.4 310.0h0M457.8 309.9h0M485.9 308.5h0M517.0 305.0h0"/><path class="k27" d="M446.7 310.1h0M460.6 309.9h0M488.7 308.3h0M519.8 304.6h0"/><path class="k27" d="M447.1 310.1h0M463.5 309.9h0M491.6 308.1h0M522.7 304.3h0"/><path class="k27" d="M447.4 310.1h0M466.3 309.9h0M494.5 307.9h0"/><path class="k26" d="M525.5 303.9h0"/><path class="k27" d="M446.6 310.2h0M469.2 309.8h0M497.3 307.7h0"/><path class="k26" d="M528.4 303.5h0"/><path class="k27" d="M447.5 310.1h0M472.0 309.8h0M500.2 307.4h0"/><path class="k26" d="M531.2 303.2h0"/><path class="k27" d="M448.5 310.1h0M474.8 309.6h0M503.0 307.2h0"/><path class="k26" d="M534.1 302.9h0"/><path class="k27" d="M450.9 310.1h0M477.7 309.5h0M505.9 306.9h0"/><path class="k26" d="M537.0 302.6h0"/><path class="k27" d="M447.0 310.2h0M453.1 310.2h0M480.5 309.5h0M508.7 306.7h0"/><path class="k26" d="M539.8 302.2h0"/><path class="k27" d="M447.8 310.2h0M483.3 309.3h0M511.6 306.4h0"/><path class="k26" d="M542.7 301.8h0"/><path class="k27" d="M446.5 310.2h0M486.2 309.1h0M514.4 306.2h0"/><path class="k26" d="M545.5 301.4h0"/><path class="k27" d="M448.1 310.2h0M442.8 309.8h0M489.0 309.1h0"/><path class="k26" d="M548.4 301.1h0M517.2 305.9h0"/><path class="k27" d="M446.5 310.3h0M438.6 308.9h0M491.8 308.8h0"/><path class="k26" d="M551.2 300.7h0M520.1 305.5h0"/><path class="k27" d="M446.9 310.3h0M494.7 308.7h0"/><path class="k24" d="M553.4 300.1h0"/><path class="k26" d="M523.0 305.3h0"/><path class="k27" d="M448.4 310.3h0M497.5 308.5h0"/><path class="k26" d="M525.8 305.0h0"/><path class="k28" d="M553.4 298.0h0"/><path class="k27" d="M446.4 310.3h0M500.3 308.3h0"/><path class="k26" d="M528.7 304.6h0"/><path class="k28" d="M553.5 295.7h0"/><path class="k27" d="M446.8 310.3h0M503.1 308.1h0"/><path class="k26" d="M531.5 304.2h0"/><path class="k33" d="M553.6 293.7h0"/><path class="k27" d="M450.3 310.3h0M506.0 307.8h0"/><path class="k59" d="M534.3 304.0h0"/><path class="k33" d="M553.6 291.2h0"/><path class="k27" d="M451.3 310.3h0M446.3 310.4h0M508.8 307.6h0"/><path class="k59" d="M537.2 303.7h0"/><path class="k35" d="M553.7 289.2h0"/><path class="k27" d="M450.9 310.3h0"/><path class="k59" d="M511.6 307.4h0M540.0 303.3h0"/><path class="k35" d="M553.7 287.0h0"/><path class="k27" d="M447.4 310.4h0M455.4 310.1h0"/><path class="k59" d="M514.5 307.0h0"/><path class="k49" d="M542.9 302.9h0"/><path class="k60" d="M553.8 284.8h0"/><path class="k27" d="M450.1 310.3h0"/><path class="k59" d="M517.3 306.8h0"/><path class="k49" d="M545.7 302.5h0"/><path class="k37" d="M553.9 282.7h0"/><path class="k27" d="M446.6 310.4h0"/><path class="k59" d="M520.1 306.5h0"/><path class="k49" d="M548.6 302.1h0"/><path class="k37" d="M553.9 280.3h0"/><path class="k27" d="M447.8 310.5h0"/><path class="k59" d="M523.0 306.3h0"/><path class="k49" d="M551.4 301.7h0"/><path class="k129" d="M554.0 278.3h0"/><path class="k27" d="M449.2 310.4h0"/><path class="k59" d="M525.8 305.9h0"/><path class="k33" d="M553.2 300.9h0"/><path class="k30" d="M554.1 276.1h0"/><path class="k27" d="M450.1 310.4h0"/><path class="k59" d="M528.6 305.6h0"/><path class="k33" d="M553.2 298.7h0"/><path class="k30" d="M554.1 273.8h0"/><path class="k27" d="M446.0 310.5h0M453.7 310.4h0"/><path class="k59" d="M531.5 305.3h0"/><path class="k33" d="M553.3 296.5h0"/><path class="k32" d="M554.2 271.7h0"/><path class="k27" d="M445.9 310.6h0M455.9 310.3h0"/><path class="k49" d="M534.3 305.1h0"/><path class="k33" d="M553.4 294.4h0"/><path class="k32" d="M554.3 269.5h0"/><path class="k27" d="M448.5 310.6h0M458.2 310.2h0"/><path class="k49" d="M537.1 304.7h0"/><path class="k35" d="M553.4 292.3h0"/><path class="k36" d="M554.3 267.3h0"/><path class="k27" d="M447.4 310.6h0M461.1 310.2h0"/><path class="k49" d="M540.0 304.2h0"/><path class="k35" d="M553.5 290.1h0"/><path class="k36" d="M554.4 265.2h0"/><path class="k27" d="M445.8 310.6h0M463.9 310.3h0"/><path class="k49" d="M542.8 304.0h0"/><path class="k60" d="M553.6 287.9h0"/><path class="k36" d="M554.5 262.9h0"/><path class="k27" d="M443.8 310.4h0M466.7 310.3h0"/><path class="k33" d="M545.6 303.7h0"/><path class="k37" d="M553.6 285.7h0"/><path class="k34" d="M554.5 260.7h0"/><path class="k27" d="M445.8 310.6h0M440.2 310.1h0M469.5 310.3h0"/><path class="k33" d="M548.4 303.3h0"/><path class="k37" d="M553.7 283.5h0"/><path class="k34" d="M554.6 258.3h0"/><path class="k27" d="M445.7 310.7h0M437.3 309.4h0M472.3 310.2h0"/><path class="k33" d="M551.3 302.9h0"/><path class="k129" d="M553.7 281.4h0"/><path class="k50" d="M554.7 256.3h0"/><path class="k27" d="M445.3 310.6h0M439.5 310.0h0M475.1 310.2h0"/><path class="k33" d="M552.6 301.8h0"/><path class="k30" d="M553.8 279.1h0"/><path class="k31" d="M554.7 254.0h0"/><path class="k27" d="M445.6 310.7h0M477.9 310.1h0"/><path class="k33" d="M552.7 299.5h0"/><path class="k30" d="M553.9 276.8h0"/><path class="k31" d="M554.8 251.9h0"/><path class="k27" d="M449.1 310.7h0M480.7 310.1h0"/><path class="k33" d="M552.8 297.4h0"/><path class="k32" d="M554.0 274.7h0"/><path class="k48" d="M554.9 249.7h0"/><path class="k27" d="M450.5 310.6h0M445.5 310.7h0M483.5 310.0h0"/><path class="k35" d="M552.8 295.2h0"/><path class="k32" d="M554.0 272.5h0"/><path class="k48" d="M554.9 247.4h0"/><path class="k27" d="M445.4 310.7h0M454.0 310.6h0M486.3 309.8h0"/><path class="k35" d="M552.9 293.0h0"/><path class="k36" d="M554.1 270.2h0"/><path class="k38" d="M555.0 245.1h0"/><path class="k27" d="M445.4 310.7h0M489.1 309.7h0"/><path class="k60" d="M553.0 290.8h0"/><path class="k36" d="M554.1 268.1h0"/><path class="k38" d="M555.1 243.0h0"/><path class="k27" d="M446.2 310.8h0M491.9 309.6h0"/><path class="k37" d="M553.1 288.5h0"/><path class="k36" d="M554.2 265.8h0"/><path class="k112" d="M555.1 240.7h0"/><path class="k27" d="M448.2 310.7h0M494.8 309.4h0"/><path class="k37" d="M553.1 286.4h0"/><path class="k34" d="M554.3 263.6h0"/><path class="k112" d="M555.2 238.4h0"/><path class="k27" d="M445.3 310.7h0"/><path class="k132" d="M497.5 309.3h0"/><path class="k129" d="M553.2 284.2h0"/><path class="k34" d="M554.3 261.4h0"/><path class="k112" d="M555.3 236.1h0"/><path class="k27" d="M445.2 310.7h0"/><path class="k132" d="M500.4 309.0h0"/><path class="k30" d="M553.2 282.0h0"/><path class="k50" d="M554.4 259.1h0"/><path class="k27" d="M447.3 310.8h0"/><path class="k132" d="M503.2 308.8h0"/><path class="k30" d="M553.3 279.8h0"/><path class="k31" d="M554.5 256.9h0"/><path class="k27" d="M449.9 310.8h0"/><path class="k59" d="M506.0 308.7h0"/><path class="k32" d="M553.4 277.7h0"/><path class="k31" d="M554.5 254.8h0"/><path class="k27" d="M453.5 310.7h0"/><path class="k59" d="M508.8 308.5h0"/><path class="k32" d="M553.4 275.5h0"/><path class="k48" d="M554.6 252.6h0"/><path class="k27" d="M452.8 310.7h0"/><path class="k59" d="M511.6 308.2h0"/><path class="k36" d="M553.5 273.2h0"/><path class="k48" d="M554.7 250.3h0"/><path class="k27" d="M450.8 310.8h0M456.4 310.6h0"/><path class="k59" d="M514.4 307.9h0"/><path class="k36" d="M553.6 271.0h0"/><path class="k38" d="M554.7 248.1h0"/><path class="k27" d="M458.7 310.5h0M452.6 310.8h0"/><path class="k59" d="M517.2 307.7h0"/><path class="k36" d="M553.6 268.8h0"/><path class="k38" d="M554.8 245.9h0"/><path class="k27" d="M448.7 311.0h0M461.5 310.6h0"/><path class="k59" d="M520.0 307.4h0"/><path class="k34" d="M553.7 266.6h0"/><path class="k112" d="M554.9 243.6h0"/><path class="k27" d="M445.7 311.1h0M452.5 310.9h0M464.3 310.6h0"/><path class="k59" d="M522.8 307.2h0"/><path class="k34" d="M553.8 264.3h0"/><path class="k112" d="M554.9 241.4h0"/><path class="k27" d="M445.6 311.1h0M450.3 311.0h0M456.7 310.8h0M467.0 310.7h0"/><path class="k59" d="M525.6 306.9h0"/><path class="k50" d="M553.8 262.1h0"/><path class="k112" d="M555.0 239.1h0"/><path class="k27" d="M449.7 311.1h0M459.2 310.7h0M469.8 310.7h0"/><path class="k49" d="M528.4 306.6h0"/><path class="k31" d="M553.9 260.0h0"/><path class="k27" d="M445.5 311.1h0M456.2 310.9h0M472.6 310.7h0"/><path class="k49" d="M531.2 306.3h0"/><path class="k31" d="M554.0 257.6h0"/><path class="k27" d="M447.1 311.2h0M475.3 310.7h0"/><path class="k49" d="M534.0 306.0h0"/><path class="k48" d="M554.0 255.3h0"/><path class="k27" d="M449.2 311.1h0M478.1 310.7h0"/><path class="k33" d="M536.8 305.6h0"/><path class="k48" d="M554.1 253.3h0"/><path class="k27" d="M445.4 311.2h0M480.9 310.6h0"/><path class="k33" d="M539.6 305.4h0"/><path class="k38" d="M554.2 250.9h0"/><path class="k27" d="M448.2 311.2h0M483.6 310.6h0"/><path class="k33" d="M542.4 305.0h0"/><path class="k38" d="M554.2 248.7h0"/><path class="k27" d="M448.0 311.2h0M486.4 310.5h0"/><path class="k33" d="M545.2 304.6h0"/><path class="k112" d="M554.3 246.4h0"/><path class="k27" d="M446.9 311.2h0"/><path class="k132" d="M489.2 310.4h0"/><path class="k33" d="M548.0 304.3h0"/><path class="k112" d="M554.4 244.2h0"/><path class="k27" d="M451.3 311.1h0M445.3 311.2h0"/><path class="k132" d="M492.0 310.2h0"/><path class="k33" d="M550.8 304.0h0"/><path class="k112" d="M554.4 241.9h0"/><path class="k27" d="M441.7 310.8h0M446.7 311.3h0M452.8 311.1h0"/><path class="k132" d="M494.7 310.1h0"/><path class="k33" d="M551.8 302.6h0"/><path class="k27" d="M441.0 310.7h0M455.4 311.1h0"/><path class="k132" d="M497.5 310.0h0"/><path class="k33" d="M551.9 300.3h0"/><path class="k27" d="M445.1 311.3h0M455.0 311.2h0"/><path class="k59" d="M500.3 309.8h0"/><path class="k35" d="M552.0 298.1h0"/><path class="k27" d="M445.0 311.3h0M459.4 311.1h0"/><path class="k59" d="M503.0 309.7h0"/><path class="k35" d="M552.0 296.0h0"/><path class="k27" d="M446.4 311.3h0M461.9 310.9h0"/><path class="k59" d="M505.8 309.5h0"/><path class="k60" d="M552.1 293.7h0"/><path class="k27" d="M446.2 311.4h0M464.6 311.0h0"/><path class="k59" d="M508.5 309.3h0"/><path class="k37" d="M552.2 291.5h0"/><path class="k27" d="M447.9 311.4h0M467.3 311.1h0"/><path class="k59" d="M511.3 309.1h0"/><path class="k37" d="M552.2 289.3h0"/><path class="k27" d="M445.9 311.4h0M470.1 311.2h0"/><path class="k59" d="M514.0 308.9h0"/><path class="k129" d="M552.3 287.1h0"/><path class="k27" d="M448.7 311.4h0M472.8 311.2h0"/><path class="k59" d="M516.8 308.6h0"/><path class="k30" d="M552.3 285.0h0"/><path class="k27" d="M444.7 311.4h0M450.0 311.4h0M475.5 311.2h0"/><path class="k49" d="M519.6 308.4h0"/><path class="k30" d="M552.4 282.7h0"/><path class="k27" d="M444.6 311.5h0M450.8 311.4h0M478.2 311.3h0"/><path class="k49" d="M522.4 308.1h0"/><path class="k32" d="M552.4 280.6h0"/><path class="k27" d="M443.6 311.4h0M452.9 311.3h0M481.0 311.2h0"/><path class="k49" d="M525.1 307.8h0"/><path class="k32" d="M552.6 278.3h0"/><path class="k27" d="M444.4 311.5h0M451.9 311.4h0"/><path class="k132" d="M483.7 311.2h0"/><path class="k49" d="M527.9 307.6h0"/><path class="k36" d="M552.6 276.1h0"/><path class="k27" d="M444.3 311.5h0M454.9 311.3h0"/><path class="k132" d="M486.4 311.1h0"/><path class="k33" d="M530.7 307.2h0"/><path class="k36" d="M552.7 273.9h0"/><path class="k27" d="M444.2 311.5h0M458.8 311.2h0"/><path class="k132" d="M489.1 311.0h0"/><path class="k33" d="M533.4 307.0h0"/><path class="k36" d="M552.7 271.7h0"/><path class="k27" d="M444.1 311.5h0M457.9 311.3h0"/><path class="k132" d="M491.8 311.0h0"/><path class="k33" d="M536.1 306.8h0"/><path class="k34" d="M552.8 269.5h0"/><path class="k27" d="M444.0 311.5h0M462.1 311.2h0"/><path class="k132" d="M494.6 310.8h0"/><path class="k33" d="M538.9 306.4h0"/><path class="k34" d="M552.9 267.3h0"/><path class="k27" d="M443.9 311.5h0"/><path class="k59" d="M497.3 310.7h0"/><path class="k33" d="M541.7 305.9h0"/><path class="k50" d="M552.9 265.1h0"/><path class="k27" d="M443.8 311.5h0"/><path class="k59" d="M500.0 310.6h0"/><path class="k33" d="M544.4 305.7h0"/><path class="k31" d="M553.0 262.8h0"/><path class="k27" d="M443.7 311.5h0"/><path class="k59" d="M502.7 310.4h0"/><path class="k33" d="M547.1 305.4h0"/><path class="k31" d="M553.1 260.5h0"/><path class="k27" d="M443.6 311.5h0"/><path class="k59" d="M505.4 310.3h0"/><path class="k33" d="M550.0 304.9h0"/><path class="k48" d="M553.1 258.4h0"/><path class="k27" d="M447.7 311.6h0"/><path class="k59" d="M508.1 310.1h0"/><path class="k33" d="M550.7 303.3h0"/><path class="k48" d="M553.2 256.2h0"/><path class="k27" d="M449.3 311.6h0"/><path class="k59" d="M510.9 309.8h0"/><path class="k35" d="M550.7 301.2h0"/><path class="k38" d="M553.3 253.8h0"/><path class="k27" d="M445.3 311.7h0M452.1 311.7h0"/><path class="k59" d="M513.6 309.7h0"/><path class="k35" d="M550.7 299.1h0"/><path class="k38" d="M553.3 251.6h0"/><path class="k27" d="M447.4 311.8h0M453.4 311.6h0"/><path class="k49" d="M516.3 309.4h0"/><path class="k60" d="M550.9 296.7h0"/><path class="k112" d="M553.4 249.4h0"/><path class="k27" d="M449.9 311.8h0M455.1 311.6h0M444.6 311.9h0"/><path class="k49" d="M519.0 309.3h0"/><path class="k37" d="M550.9 294.5h0"/><path class="k112" d="M553.5 247.1h0"/><path class="k27" d="M451.3 311.8h0M457.5 311.5h0M444.5 311.9h0"/><path class="k49" d="M521.7 309.1h0"/><path class="k37" d="M551.0 292.3h0"/><path class="k112" d="M553.5 244.9h0"/><path class="k27" d="M450.5 311.9h0M444.3 312.0h0M461.4 311.4h0"/><path class="k33" d="M524.4 308.8h0"/><path class="k129" d="M551.0 290.1h0"/><path class="k27" d="M444.2 312.0h0M455.1 311.8h0M464.7 311.4h0"/><path class="k33" d="M527.1 308.4h0"/><path class="k30" d="M551.1 287.9h0"/><path class="k27" d="M444.0 312.0h0M457.3 311.7h0"/><path class="k33" d="M529.8 308.2h0"/><path class="k30" d="M551.1 285.8h0"/><path class="k27" d="M447.1 312.1h0M453.8 311.9h0M460.5 311.6h0"/><path class="k33" d="M532.5 307.9h0"/><path class="k32" d="M551.2 283.5h0"/><path class="k27" d="M449.0 312.0h0M443.9 312.0h0M460.0 311.8h0"/><path class="k33" d="M535.2 307.6h0"/><path class="k32" d="M551.3 281.3h0"/><path class="k27" d="M448.6 312.0h0M464.0 311.6h0M457.4 311.9h0"/><path class="k33" d="M537.9 307.4h0"/><path class="k36" d="M551.4 279.1h0"/><path class="k27" d="M446.8 312.2h0M452.6 312.0h0M467.4 311.5h0"/><path class="k33" d="M540.7 306.8h0"/><path class="k36" d="M551.4 276.9h0"/><path class="k27" d="M443.7 312.1h0M451.5 312.0h0M463.0 311.8h0"/><path class="k33" d="M543.4 306.5h0"/><path class="k36" d="M551.5 274.6h0"/><path class="k27" d="M446.4 312.2h0M455.5 312.1h0M466.6 311.8h0"/><path class="k33" d="M546.1 306.2h0"/><path class="k34" d="M551.6 272.4h0"/><path class="k27" d="M446.0 312.2h0M459.6 312.0h0M470.1 311.6h0"/><path class="k35" d="M548.7 306.1h0"/><path class="k34" d="M551.6 270.2h0"/><path class="k27" d="M445.5 312.2h0M462.4 312.0h0M472.8 311.7h0"/><path class="k35" d="M549.1 304.0h0"/><path class="k50" d="M551.7 267.9h0"/><path class="k27" d="M442.0 312.0h0M465.5 312.0h0M475.4 311.7h0"/><path class="k35" d="M549.2 301.9h0"/><path class="k31" d="M551.7 265.7h0"/><path class="k27" d="M443.4 312.2h0M469.2 311.9h0"/><path class="k132" d="M478.1 311.7h0"/><path class="k60" d="M549.3 299.7h0"/><path class="k31" d="M551.8 263.5h0"/><path class="k27" d="M443.2 312.2h0"/><path class="k132" d="M480.7 311.8h0"/><path class="k37" d="M549.3 297.5h0"/><path class="k48" d="M551.9 261.2h0"/><path class="k27" d="M445.1 312.3h0"/><path class="k132" d="M483.4 311.7h0"/><path class="k37" d="M549.4 295.2h0"/><path class="k48" d="M552.0 258.9h0"/><path class="k27" d="M448.3 312.2h0M443.1 312.2h0"/><path class="k132" d="M486.1 311.7h0"/><path class="k129" d="M549.5 293.1h0"/><path class="k38" d="M552.0 256.8h0"/><path class="k27" d="M449.6 312.2h0M442.9 312.2h0"/><path class="k132" d="M488.7 311.7h0"/><path class="k30" d="M549.5 290.8h0"/><path class="k109" d="M552.1 254.5h0"/><path class="k27" d="M442.8 312.2h0M448.0 312.4h0"/><path class="k59" d="M491.4 311.6h0"/><path class="k30" d="M549.6 288.6h0"/><path class="k118" d="M552.1 252.3h0"/><path class="k27" d="M438.3 311.4h0M450.3 312.3h0"/><path class="k59" d="M494.1 311.5h0"/><path class="k32" d="M549.6 286.4h0"/><path class="k118" d="M552.2 250.0h0"/><path class="k27" d="M442.6 312.2h0M454.0 312.2h0M435.1 311.3h0"/><path class="k59" d="M496.8 311.3h0"/><path class="k32" d="M549.7 284.2h0"/><path class="k118" d="M552.3 247.7h0"/><path class="k27" d="M442.5 312.1h0M452.9 312.3h0"/><path class="k59" d="M499.4 311.3h0"/><path class="k36" d="M549.8 282.0h0"/><path class="k27" d="M442.4 312.1h0M457.3 312.2h0"/><path class="k59" d="M502.0 311.2h0"/><path class="k36" d="M549.8 279.7h0"/><path class="k27" d="M442.2 312.1h0"/><path class="k59" d="M504.7 311.0h0"/><path class="k36" d="M549.9 277.5h0"/><path class="k27" d="M442.1 312.1h0"/><path class="k59" d="M507.4 310.8h0"/><path class="k34" d="M550.0 275.2h0"/><path class="k27" d="M441.9 312.1h0"/><path class="k49" d="M510.0 310.7h0"/><path class="k34" d="M550.0 273.0h0"/><path class="k27" d="M444.4 312.5h0"/><path class="k49" d="M512.7 310.4h0"/><path class="k50" d="M550.1 270.9h0"/><path class="k27" d="M447.6 312.6h0"/><path class="k49" d="M515.3 310.2h0"/><path class="k31" d="M550.2 268.5h0"/><path class="k27" d="M451.1 312.4h0M443.6 312.6h0"/><path class="k33" d="M517.9 310.0h0"/><path class="k39" d="M550.2 266.4h0"/><path class="k27" d="M451.8 312.5h0M443.4 312.7h0"/><path class="k33" d="M520.6 309.8h0"/><path class="k99" d="M550.3 264.1h0"/><path class="k27" d="M443.2 312.7h0M455.8 312.4h0M449.8 312.7h0"/><path class="k33" d="M523.3 309.4h0"/><path class="k99" d="M550.4 261.8h0"/><path class="k27" d="M443.0 312.7h0M454.3 312.5h0M459.6 312.3h0"/><path class="k33" d="M525.9 309.3h0"/><path class="k109" d="M550.5 259.5h0"/><path class="k27" d="M442.9 312.7h0M457.6 312.5h0"/><path class="k33" d="M528.5 309.0h0"/><path class="k109" d="M550.5 257.4h0"/><path class="k27" d="M442.7 312.7h0M462.0 312.2h0"/><path class="k33" d="M531.3 308.5h0"/><path class="k118" d="M550.6 255.1h0"/><path class="k27" d="M442.5 312.7h0M447.2 312.9h0M464.9 312.2h0"/><path class="k33" d="M533.8 308.4h0"/><path class="k118" d="M550.7 252.8h0"/><path class="k27" d="M449.2 312.7h0M440.3 312.5h0M468.1 312.1h0"/><path class="k33" d="M536.6 307.9h0"/><path class="k118" d="M550.6 250.7h0"/><path class="k27" d="M446.6 312.9h0M452.9 312.6h0M471.8 312.0h0"/><path class="k33" d="M539.1 307.7h0"/><path class="k27" d="M446.1 313.0h0M455.8 312.6h0"/><path class="k35" d="M541.8 307.4h0"/><path class="k27" d="M442.1 312.8h0M450.5 312.8h0M459.5 312.5h0"/><path class="k35" d="M544.4 307.1h0"/><path class="k27" d="M441.9 312.8h0"/><path class="k35" d="M547.2 306.5h0"/><path class="k27" d="M445.5 313.0h0M440.3 312.6h0"/><path class="k35" d="M547.4 304.7h0"/><path class="k27" d="M440.5 312.6h0"/><path class="k60" d="M547.4 302.4h0"/><path class="k27" d="M440.6 312.6h0"/><path class="k37" d="M547.4 300.3h0"/><path class="k27" d="M441.7 312.8h0"/><path class="k37" d="M547.5 298.1h0"/><path class="k27" d="M441.0 312.7h0"/><path class="k129" d="M547.5 296.0h0"/><path class="k27" d="M441.3 312.8h0"/><path class="k30" d="M547.7 293.7h0"/><path class="k27" d="M440.8 312.7h0"/><path class="k30" d="M547.8 291.4h0"/><path class="k27" d="M441.5 312.8h0"/><path class="k32" d="M547.8 289.2h0"/><path class="k27" d="M441.2 312.7h0"/><path class="k32" d="M547.9 286.9h0"/><path class="k27" d="M444.9 313.0h0"/><path class="k36" d="M547.9 284.8h0"/><path class="k27" d="M444.3 313.0h0"/><path class="k36" d="M548.0 282.6h0"/><path class="k27" d="M448.8 312.9h0M443.5 313.1h0"/><path class="k36" d="M548.1 280.2h0"/><path class="k27" d="M451.4 312.9h0M442.5 313.3h0"/><path class="k40" d="M548.1 278.1h0"/><path class="k27" d="M448.3 313.1h0M454.5 312.8h0M442.3 313.3h0"/><path class="k40" d="M548.2 275.9h0"/><path class="k27" d="M452.3 313.0h0M457.7 312.8h0M442.1 313.3h0"/><path class="k51" d="M548.2 273.7h0"/><path class="k27" d="M447.7 313.3h0M461.9 312.5h0M453.1 313.0h0M441.9 313.3h0"/><path class="k39" d="M548.3 271.4h0"/><path class="k27" d="M456.0 312.9h0M441.7 313.3h0"/><path class="k132" d="M464.3 312.5h0"/><path class="k39" d="M548.4 269.1h0"/><path class="k27" d="M441.4 313.3h0"/><path class="k132" d="M459.6 312.8h0M454.3 313.1h0M467.3 312.3h0"/><path class="k99" d="M548.4 266.9h0"/><path class="k132" d="M438.7 312.9h0M450.5 313.2h0M457.7 313.0h0M470.6 312.2h0"/><path class="k99" d="M548.6 264.5h0"/><path class="k132" d="M441.2 313.3h0M449.8 313.3h0M461.6 312.7h0M474.4 312.0h0M456.1 313.2h0"/><path class="k109" d="M548.6 262.3h0"/><path class="k132" d="M438.7 313.0h0M447.1 313.6h0M464.2 312.7h0"/><path class="k109" d="M548.6 260.1h0"/><path class="k132" d="M438.9 313.1h0M446.5 313.6h0M451.4 313.3h0M459.7 313.1h0M466.7 312.6h0"/><path class="k118" d="M548.7 257.8h0"/><path class="k132" d="M439.1 313.1h0M445.8 313.6h0M469.7 312.5h0M461.7 313.0h0"/><path class="k118" d="M548.8 255.6h0"/><path class="k132" d="M440.8 313.3h0M473.1 312.3h0M463.8 312.9h0"/><path class="k118" d="M548.8 253.3h0"/><path class="k132" d="M439.3 313.1h0M477.0 312.0h0M466.4 312.8h0"/><path class="k132" d="M439.5 313.2h0M469.1 312.7h0M479.6 312.1h0"/><path class="k132" d="M440.6 313.3h0M472.1 312.5h0M482.2 312.1h0"/><path class="k132" d="M439.7 313.2h0M445.0 313.6h0M475.6 312.3h0M484.8 312.0h0"/><path class="k132" d="M439.9 313.2h0M449.2 313.5h0M478.1 312.3h0"/><path class="k59" d="M487.4 311.9h0"/><path class="k132" d="M440.1 313.3h0M452.4 313.4h0M480.7 312.3h0"/><path class="k59" d="M489.9 311.9h0"/><path class="k132" d="M440.4 313.3h0M453.5 313.4h0"/><path class="k59" d="M483.2 312.3h0M492.5 311.8h0"/><path class="k132" d="M444.3 313.6h0M454.5 313.4h0"/><path class="k59" d="M485.6 312.2h0M495.1 311.6h0"/><path class="k132" d="M443.6 313.6h0M448.6 313.7h0M457.7 313.3h0"/><path class="k59" d="M488.1 312.2h0M497.7 311.5h0"/><path class="k132" d="M442.6 313.7h0M447.9 313.9h0M455.8 313.4h0"/><path class="k59" d="M490.7 312.0h0M500.3 311.4h0"/><path class="k132" d="M441.5 313.8h0M459.5 313.3h0M451.2 313.7h0"/><path class="k59" d="M493.1 311.9h0"/><path class="k49" d="M502.9 311.1h0"/><path class="k132" d="M441.3 313.8h0M450.4 313.8h0M461.7 313.3h0"/><path class="k59" d="M495.6 311.8h0"/><path class="k49" d="M505.4 311.0h0"/><path class="k132" d="M437.0 313.2h0M447.1 314.1h0M452.3 313.8h0M457.6 313.5h0M463.7 313.2h0"/><path class="k49" d="M498.2 311.5h0M508.0 310.7h0"/><path class="k132" d="M441.0 313.8h0M446.3 314.2h0M465.9 313.1h0M459.4 313.6h0"/><path class="k49" d="M500.6 311.4h0"/><path class="k33" d="M510.6 310.5h0"/><path class="k132" d="M440.7 313.8h0M445.5 314.2h0M468.7 313.0h0M461.3 313.6h0"/><path class="k33" d="M503.1 311.1h0M513.1 310.3h0"/><path class="k132" d="M440.5 313.8h0M449.7 314.0h0M471.4 312.8h0M463.5 313.5h0"/><path class="k33" d="M505.6 310.9h0M515.7 310.1h0"/><path class="k132" d="M440.3 313.8h0M453.4 313.8h0M474.6 312.6h0M465.7 313.4h0"/><path class="k33" d="M508.0 310.7h0M518.2 309.9h0"/><path class="k132" d="M440.0 313.8h0M444.6 314.2h0M454.6 313.8h0M468.1 313.2h0"/><path class="k33" d="M510.5 310.5h0M520.9 309.5h0"/><path class="k132" d="M437.1 313.3h0M448.9 314.2h0M455.7 313.7h0M470.9 313.0h0"/><path class="k33" d="M513.0 310.1h0M523.4 309.2h0"/><path class="k132" d="M437.3 313.4h0M457.2 313.7h0M473.7 312.8h0"/><path class="k33" d="M515.5 309.8h0M526.0 308.9h0"/><path class="k132" d="M437.6 313.5h0M459.1 313.8h0M477.0 312.6h0"/><path class="k33" d="M518.0 309.5h0M528.5 308.7h0"/><path class="k132" d="M437.8 313.5h0M461.0 313.8h0"/><path class="k59" d="M479.4 312.5h0"/><path class="k33" d="M520.4 309.2h0"/><path class="k35" d="M531.1 308.3h0"/><path class="k132" d="M438.0 313.6h0M463.1 313.7h0"/><path class="k59" d="M476.0 312.9h0M481.8 312.5h0"/><path class="k35" d="M522.9 308.9h0M533.6 307.9h0"/><path class="k132" d="M438.3 313.6h0M465.5 313.6h0"/><path class="k59" d="M478.4 312.8h0M484.3 312.4h0"/><path class="k35" d="M525.4 308.5h0M536.0 307.7h0"/><path class="k132" d="M439.5 313.8h0M467.8 313.5h0"/><path class="k59" d="M480.7 312.8h0M486.7 312.3h0"/><path class="k35" d="M538.8 307.0h0M527.8 308.1h0"/><path class="k132" d="M438.5 313.7h0M470.2 313.3h0"/><path class="k59" d="M483.1 312.6h0M489.1 312.2h0"/><path class="k35" d="M541.4 306.6h0M530.3 307.7h0"/><path class="k132" d="M439.3 313.8h0M473.1 313.1h0"/><path class="k59" d="M485.3 312.6h0"/><path class="k49" d="M491.4 312.1h0"/><path class="k35" d="M543.9 306.3h0M532.7 307.3h0"/><path class="k132" d="M438.8 313.7h0M443.7 314.1h0"/><path class="k59" d="M472.3 313.3h0"/><path class="k49" d="M487.6 312.4h0M493.9 311.9h0"/><path class="k60" d="M545.2 305.3h0M535.1 307.0h0"/><path class="k132" d="M439.0 313.8h0M448.1 314.4h0"/><path class="k59" d="M475.4 313.1h0"/><path class="k49" d="M489.9 312.3h0M496.2 311.7h0"/><path class="k37" d="M545.3 303.1h0"/><path class="k60" d="M537.7 306.4h0"/><path class="k132" d="M442.8 314.1h0M435.5 313.5h0M451.9 314.1h0"/><path class="k59" d="M477.6 313.0h0"/><path class="k49" d="M492.2 312.1h0"/><path class="k33" d="M498.7 311.5h0"/><path class="k37" d="M545.4 300.8h0M540.2 306.0h0"/><path class="k132" d="M441.6 314.2h0M451.0 314.2h0"/><path class="k59" d="M479.8 313.0h0"/><path class="k33" d="M494.5 311.9h0M501.1 311.2h0"/><path class="k129" d="M545.5 298.6h0"/><path class="k37" d="M542.6 305.5h0"/><path class="k132" d="M440.5 314.2h0M447.1 314.6h0M453.2 314.1h0"/><path class="k59" d="M482.0 312.9h0"/><path class="k33" d="M496.8 311.7h0M503.4 311.0h0"/><path class="k30" d="M545.5 296.4h0"/><path class="k37" d="M542.8 303.7h0"/><path class="k132" d="M440.2 314.2h0M446.1 314.6h0"/><path class="k49" d="M484.1 312.8h0"/><path class="k33" d="M499.1 311.4h0M505.8 310.7h0"/><path class="k30" d="M545.6 294.1h0"/><path class="k129" d="M543.0 301.3h0"/><path class="k132" d="M439.9 314.2h0M445.2 314.7h0M450.2 314.4h0"/><path class="k49" d="M486.4 312.6h0"/><path class="k33" d="M501.5 311.1h0M508.2 310.5h0"/><path class="k32" d="M545.6 292.0h0"/><path class="k75" d="M543.0 299.1h0"/><path class="k132" d="M439.6 314.2h0M454.5 314.1h0M449.2 314.6h0"/><path class="k33" d="M488.6 312.4h0M503.6 310.9h0M510.6 310.1h0"/><path class="k32" d="M545.7 289.7h0"/><path class="k75" d="M543.1 296.8h0"/><path class="k132" d="M439.3 314.2h0M455.8 314.1h0"/><path class="k33" d="M490.8 312.2h0M512.9 309.8h0M505.9 310.5h0"/><path class="k76" d="M545.8 287.5h0"/><path class="k65" d="M543.1 294.7h0"/><path class="k132" d="M439.0 314.2h0M457.0 314.0h0"/><path class="k33" d="M493.0 312.0h0M508.2 310.2h0"/><path class="k35" d="M515.3 309.5h0"/><path class="k76" d="M545.8 285.3h0"/><path class="k65" d="M543.2 292.4h0"/><path class="k132" d="M435.5 313.6h0M458.6 314.0h0"/><path class="k33" d="M495.1 311.8h0"/><path class="k35" d="M517.6 309.1h0M510.5 309.8h0"/><path class="k76" d="M545.8 283.1h0M543.2 290.2h0"/><path class="k132" d="M438.7 314.2h0M460.7 314.0h0"/><path class="k33" d="M497.4 311.5h0"/><path class="k35" d="M520.0 308.7h0M512.7 309.5h0"/><path class="k40" d="M545.9 280.8h0"/><path class="k76" d="M543.4 287.9h0"/><path class="k132" d="M435.8 313.7h0M443.2 314.6h0M462.7 314.0h0"/><path class="k33" d="M499.5 311.2h0"/><path class="k35" d="M522.4 308.3h0M515.0 309.1h0"/><path class="k40" d="M546.0 278.6h0"/><path class="k76" d="M543.4 285.7h0"/><path class="k132" d="M436.1 313.8h0M444.2 314.6h0M464.9 313.9h0"/><path class="k33" d="M501.6 310.9h0"/><path class="k35" d="M524.8 307.9h0M517.3 308.6h0"/><path class="k51" d="M546.1 276.3h0"/><path class="k40" d="M543.4 283.5h0"/><path class="k132" d="M436.3 313.8h0M448.2 314.8h0"/><path class="k59" d="M467.4 313.7h0"/><path class="k35" d="M503.8 310.5h0"/><path class="k60" d="M527.1 307.5h0M519.5 308.2h0"/><path class="k39" d="M546.2 274.0h0"/><path class="k40" d="M543.4 281.3h0"/><path class="k132" d="M436.6 313.9h0M452.7 314.4h0"/><path class="k59" d="M469.8 313.6h0"/><path class="k35" d="M506.0 310.2h0"/><path class="k60" d="M529.5 307.0h0M521.7 307.8h0"/><path class="k39" d="M546.1 271.9h0"/><path class="k51" d="M543.6 279.0h0"/><path class="k132" d="M436.9 313.9h0M451.5 314.5h0"/><path class="k59" d="M474.4 313.4h0"/><path class="k35" d="M508.0 309.9h0"/><path class="k37" d="M531.9 306.5h0M523.9 307.4h0"/><path class="k99" d="M546.2 269.6h0"/><path class="k39" d="M543.6 276.7h0"/><path class="k132" d="M437.2 314.0h0M447.1 315.0h0M454.0 314.4h0"/><path class="k59" d="M476.6 313.3h0"/><path class="k35" d="M510.2 309.4h0"/><path class="k37" d="M534.1 306.1h0M526.2 306.9h0"/><path class="k99" d="M546.2 267.4h0"/><path class="k39" d="M543.6 274.5h0"/><path class="k132" d="M437.4 314.1h0M432.7 313.3h0M455.5 314.4h0"/><path class="k59" d="M478.6 313.2h0"/><path class="k60" d="M512.3 309.0h0"/><path class="k133" d="M536.6 305.6h0M528.5 306.3h0"/><path class="k109" d="M546.3 265.1h0"/><path class="k99" d="M543.7 272.3h0"/><path class="k132" d="M438.3 314.2h0M458.3 314.2h0"/><path class="k59" d="M428.4 312.4h0"/><path class="k49" d="M480.7 313.1h0"/><path class="k60" d="M514.5 308.6h0"/><path class="k133" d="M538.9 305.1h0M530.7 305.9h0"/><path class="k109" d="M546.4 262.9h0"/><path class="k99" d="M543.8 270.0h0"/><path class="k132" d="M438.0 314.2h0M456.9 314.3h0"/><path class="k49" d="M482.8 313.0h0"/><path class="k37" d="M516.7 308.1h0"/><path class="k134" d="M540.0 304.1h0M532.9 305.3h0"/><path class="k118" d="M546.5 260.5h0"/><path class="k109" d="M543.9 267.7h0"/><path class="k132" d="M437.7 314.1h0M460.0 314.2h0"/><path class="k33" d="M485.0 312.8h0"/><path class="k133" d="M518.8 307.7h0"/><path class="k75" d="M540.2 301.8h0"/><path class="k134" d="M535.2 304.8h0"/><path class="k118" d="M546.6 258.2h0"/><path class="k109" d="M543.9 265.5h0"/><path class="k132" d="M442.1 314.5h0M433.8 313.7h0"/><path class="k59" d="M462.2 314.2h0"/><path class="k33" d="M487.1 312.6h0"/><path class="k133" d="M520.9 307.1h0"/><path class="k75" d="M540.2 299.6h0M537.4 304.3h0"/><path class="k118" d="M546.7 255.9h0M544.0 263.2h0"/><path class="k132" d="M440.8 314.6h0M433.9 313.8h0M446.0 315.1h0"/><path class="k59" d="M464.4 314.1h0"/><path class="k33" d="M489.1 312.4h0"/><path class="k133" d="M523.1 306.6h0"/><path class="k65" d="M540.3 297.3h0"/><path class="k75" d="M537.6 302.3h0"/><path class="k118" d="M544.1 260.9h0"/><path class="k132" d="M439.5 314.6h0M434.2 313.9h0M450.6 314.8h0"/><path class="k59" d="M466.6 314.0h0"/><path class="k33" d="M491.1 312.2h0"/><path class="k134" d="M525.1 306.2h0"/><path class="k65" d="M540.4 295.1h0M537.6 300.1h0"/><path class="k118" d="M544.1 258.6h0"/><path class="k132" d="M439.1 314.6h0"/><path class="k59" d="M469.3 313.8h0"/><path class="k33" d="M493.2 311.9h0"/><path class="k134" d="M527.4 305.5h0"/><path class="k76" d="M540.5 292.8h0"/><path class="k65" d="M537.9 297.7h0"/><path class="k132" d="M438.8 314.6h0"/><path class="k59" d="M471.8 313.6h0"/><path class="k33" d="M495.2 311.7h0"/><path class="k75" d="M529.5 304.9h0"/><path class="k76" d="M540.5 290.6h0M538.0 295.4h0"/><path class="k132" d="M438.5 314.6h0"/><path class="k59" d="M473.8 313.6h0"/><path class="k33" d="M497.3 311.3h0"/><path class="k76" d="M540.5 288.4h0M537.9 293.3h0"/><path class="k75" d="M531.6 304.4h0"/><path class="k132" d="M434.5 314.0h0"/><path class="k35" d="M499.4 310.9h0"/><path class="k40" d="M540.6 286.2h0"/><path class="k65" d="M533.8 303.8h0"/><path class="k76" d="M537.9 291.1h0"/><path class="k132" d="M438.2 314.5h0"/><path class="k35" d="M501.5 310.5h0"/><path class="k40" d="M540.7 283.8h0M538.0 288.9h0"/><path class="k65" d="M534.9 302.6h0"/><path class="k132" d="M437.8 314.5h0M442.5 315.0h0"/><path class="k35" d="M503.4 310.2h0"/><path class="k51" d="M540.8 281.6h0"/><path class="k65" d="M534.9 300.5h0"/><path class="k40" d="M538.1 286.6h0"/><path class="k132" d="M437.5 314.5h0M444.8 315.1h0"/><path class="k35" d="M505.4 309.9h0"/><path class="k39" d="M540.9 279.3h0"/><path class="k76" d="M535.0 298.2h0"/><path class="k51" d="M538.2 284.3h0"/><path class="k132" d="M434.8 314.1h0M449.5 315.0h0"/><path class="k60" d="M507.5 309.4h0"/><path class="k39" d="M540.9 277.1h0M538.2 282.1h0"/><path class="k76" d="M535.2 295.8h0"/><path class="k132" d="M435.1 314.1h0M453.4 314.6h0"/><path class="k60" d="M509.5 309.0h0"/><path class="k99" d="M540.9 274.9h0"/><path class="k76" d="M535.1 293.7h0"/><path class="k39" d="M538.3 279.8h0"/><path class="k132" d="M435.4 314.2h0"/><path class="k133" d="M511.4 308.6h0"/><path class="k99" d="M541.0 272.6h0M538.5 277.4h0"/><path class="k40" d="M535.1 291.5h0"/><path class="k132" d="M435.7 314.3h0"/><path class="k133" d="M513.6 308.0h0"/><path class="k109" d="M541.0 270.4h0"/><path class="k40" d="M535.2 289.2h0"/><path class="k99" d="M538.4 275.3h0"/><path class="k132" d="M436.1 314.4h0"/><path class="k133" d="M515.7 307.4h0"/><path class="k109" d="M541.1 268.1h0M538.5 273.0h0"/><path class="k51" d="M535.3 286.9h0"/><path class="k132" d="M436.4 314.4h0"/><path class="k133" d="M517.6 307.0h0"/><path class="k118" d="M541.2 265.8h0"/><path class="k39" d="M535.3 284.7h0"/><path class="k109" d="M538.6 270.7h0"/><path class="k132" d="M437.1 314.5h0"/><path class="k134" d="M519.6 306.5h0"/><path class="k118" d="M541.2 263.6h0M538.6 268.5h0"/><path class="k39" d="M535.3 282.5h0"/><path class="k132" d="M436.7 314.5h0M441.4 314.9h0"/><path class="k75" d="M521.6 306.0h0"/><path class="k118" d="M541.3 261.2h0M538.6 266.2h0"/><path class="k99" d="M535.5 280.1h0"/><path class="k132" d="M443.7 315.0h0M432.2 313.9h0"/><path class="k75" d="M523.6 305.3h0"/><path class="k99" d="M535.4 278.0h0"/><path class="k118" d="M538.7 263.9h0"/><path class="k132" d="M439.9 314.9h0M432.4 314.0h0M448.3 315.2h0"/><path class="k75" d="M525.7 304.7h0"/><path class="k109" d="M535.5 275.6h0"/><path class="k132" d="M432.7 314.1h0M438.4 314.9h0M452.2 314.7h0M447.1 315.4h0"/><path class="k65" d="M527.6 304.2h0"/><path class="k109" d="M535.6 273.3h0"/><path class="k132" d="M433.1 314.2h0M438.0 314.9h0M445.9 315.4h0"/><path class="k59" d="M454.9 314.6h0"/><path class="k65" d="M529.6 303.6h0"/><path class="k118" d="M535.6 271.1h0"/><path class="k132" d="M433.3 314.2h0"/><path class="k59" d="M456.4 314.6h0M451.0 315.0h0"/><path class="k65" d="M531.6 303.0h0"/><path class="k118" d="M535.7 268.8h0"/><path class="k132" d="M437.7 314.9h0"/><path class="k59" d="M459.6 314.4h0M449.8 315.2h0"/><path class="k76" d="M531.8 300.8h0"/><path class="k118" d="M535.8 266.5h0"/><path class="k132" d="M437.3 314.8h0"/><path class="k59" d="M458.0 314.5h0"/><path class="k76" d="M531.7 298.6h0"/><path class="k132" d="M437.0 314.8h0"/><path class="k59" d="M461.5 314.3h0M454.1 314.8h0"/><path class="k76" d="M531.8 296.3h0"/><path class="k132" d="M436.6 314.8h0"/><path class="k59" d="M463.8 314.2h0"/><path class="k40" d="M531.9 294.0h0"/><path class="k132" d="M433.7 314.3h0"/><path class="k59" d="M466.0 314.1h0"/><path class="k40" d="M532.1 291.7h0"/><path class="k132" d="M436.3 314.8h0"/><path class="k59" d="M468.4 314.0h0"/><path class="k51" d="M532.0 289.5h0"/><path class="k132" d="M434.0 314.4h0M440.6 315.2h0"/><path class="k59" d="M471.1 313.8h0"/><path class="k39" d="M532.0 287.3h0"/><path class="k132" d="M434.4 314.5h0M441.9 315.3h0"/><path class="k59" d="M475.7 313.5h0"/><path class="k39" d="M532.1 285.0h0"/><path class="k132" d="M434.7 314.6h0M444.6 315.4h0"/><path class="k49" d="M477.7 313.5h0"/><path class="k99" d="M532.2 282.7h0"/><path class="k132" d="M435.0 314.7h0M443.3 315.4h0"/><path class="k59" d="M448.5 315.4h0"/><path class="k49" d="M479.7 313.3h0"/><path class="k99" d="M532.3 280.4h0"/><path class="k132" d="M435.8 314.7h0"/><path class="k59" d="M430.6 313.9h0M452.7 314.9h0M447.1 315.7h0"/><path class="k33" d="M481.7 313.2h0"/><path class="k109" d="M532.2 278.2h0"/><path class="k132" d="M435.4 314.7h0"/><path class="k59" d="M455.7 314.8h0"/><path class="k33" d="M483.7 313.0h0"/><path class="k109" d="M532.4 275.8h0"/><path class="k59" d="M430.8 314.1h0M439.1 315.2h0M457.4 314.7h0M451.4 315.2h0"/><path class="k33" d="M485.6 312.8h0"/><path class="k118" d="M532.4 273.7h0"/><path class="k59" d="M431.2 314.2h0M437.5 315.2h0M460.8 314.5h0"/><path class="k33" d="M487.6 312.6h0"/><path class="k118" d="M532.5 271.3h0"/><path class="k59" d="M431.6 314.3h0M437.1 315.1h0M459.2 314.6h0"/><path class="k33" d="M489.5 312.3h0"/><path class="k118" d="M532.4 269.1h0"/><path class="k59" d="M431.9 314.4h0M462.8 314.4h0M454.8 314.9h0"/><path class="k33" d="M491.4 312.1h0"/><path class="k59" d="M432.3 314.5h0M465.3 314.3h0"/><path class="k33" d="M493.4 311.7h0"/><path class="k59" d="M436.2 315.1h0M467.7 314.2h0"/><path class="k35" d="M495.4 311.4h0"/><path class="k59" d="M436.6 315.1h0M470.1 314.0h0"/><path class="k35" d="M497.3 311.1h0"/><path class="k59" d="M432.6 314.6h0M473.0 313.8h0"/><path class="k35" d="M499.2 310.7h0"/><path class="k59" d="M435.9 315.0h0"/><path class="k35" d="M500.9 310.4h0"/><path class="k59" d="M435.1 315.0h0"/><path class="k60" d="M503.1 309.8h0"/><path class="k59" d="M435.5 315.0h0"/><path class="k37" d="M505.1 309.3h0"/><path class="k59" d="M433.0 314.7h0M439.9 315.4h0"/><path class="k133" d="M506.9 308.9h0"/><path class="k59" d="M433.4 314.8h0M441.4 315.5h0"/><path class="k133" d="M508.8 308.4h0"/><path class="k59" d="M433.7 314.8h0M429.0 314.0h0M445.7 315.7h0"/><path class="k133" d="M510.7 307.9h0"/><path class="k59" d="M434.5 314.9h0M442.9 315.6h0M429.3 314.1h0M450.1 315.5h0"/><path class="k134" d="M512.6 307.4h0"/><path class="k59" d="M434.2 314.9h0M444.3 315.7h0M453.2 315.1h0"/><path class="k134" d="M514.3 307.0h0"/><path class="k59" d="M429.7 314.2h0M438.2 315.4h0M448.6 315.7h0M456.6 314.9h0"/><path class="k75" d="M516.5 306.2h0"/><path class="k59" d="M430.0 314.3h0M447.2 315.9h0M458.4 314.8h0M451.8 315.4h0"/><path class="k75" d="M518.2 305.8h0"/><path class="k59" d="M430.4 314.5h0M462.0 314.5h0M445.5 315.9h0M450.4 315.6h0M455.5 315.0h0"/><path class="k65" d="M520.1 305.2h0"/><path class="k59" d="M430.8 314.6h0M425.9 313.4h0M460.3 314.7h0M448.7 315.8h0"/><path class="k65" d="M522.0 304.5h0"/><path class="k59" d="M431.2 314.7h0M464.2 314.4h0M457.5 314.9h0"/><path class="k65" d="M523.8 303.9h0"/><path class="k59" d="M433.9 315.1h0M466.7 314.3h0M453.8 315.1h0"/><path class="k65" d="M525.8 303.2h0"/><path class="k59" d="M434.3 315.2h0M469.3 314.1h0M463.3 314.5h0M452.3 315.4h0"/><path class="k76" d="M527.6 302.6h0"/><path class="k59" d="M431.7 314.8h0M471.9 314.0h0M459.4 314.8h0"/><path class="k49" d="M465.6 314.3h0"/><path class="k76" d="M528.3 301.0h0"/><path class="k59" d="M435.5 315.3h0M427.5 314.0h0M474.9 313.7h0M461.4 314.7h0"/><path class="k49" d="M468.3 314.2h0M456.2 315.0h0"/><path class="k76" d="M528.5 298.7h0"/><path class="k59" d="M434.7 315.2h0"/><path class="k49" d="M473.7 313.9h0M458.2 314.9h0M464.5 314.5h0"/><path class="k40" d="M528.4 296.5h0"/><path class="k59" d="M436.4 315.4h0"/><path class="k49" d="M470.9 314.1h0M476.7 313.7h0M460.4 314.8h0"/><path class="k40" d="M528.4 294.3h0"/><path class="k59" d="M436.0 315.3h0"/><path class="k49" d="M466.9 314.3h0M475.4 313.8h0"/><path class="k51" d="M528.5 292.0h0"/><path class="k59" d="M435.2 315.3h0"/><path class="k49" d="M462.5 314.7h0M469.8 314.2h0"/><path class="k33" d="M478.6 313.5h0"/><path class="k39" d="M528.7 289.7h0"/><path class="k59" d="M432.1 314.9h0M439.2 315.6h0"/><path class="k49" d="M472.5 314.0h0"/><path class="k33" d="M465.8 314.4h0M480.4 313.4h0"/><path class="k39" d="M528.9 287.3h0"/><path class="k59" d="M432.4 315.0h0M427.7 314.1h0M440.8 315.7h0"/><path class="k33" d="M468.3 314.2h0M477.1 313.6h0M482.3 313.1h0"/><path class="k99" d="M528.6 285.2h0"/><path class="k59" d="M432.8 315.0h0M428.2 314.3h0M442.4 315.8h0"/><path class="k33" d="M474.1 313.9h0M478.9 313.4h0M484.1 312.9h0"/><path class="k99" d="M528.7 282.9h0"/><path class="k59" d="M433.3 315.1h0M428.5 314.4h0M444.0 315.9h0"/><path class="k33" d="M471.2 314.0h0M480.5 313.3h0M486.0 312.7h0"/><path class="k109" d="M528.7 280.7h0"/><path class="k59" d="M429.0 314.5h0M437.3 315.6h0M447.1 316.0h0"/><path class="k33" d="M475.6 313.7h0M482.3 313.0h0M487.7 312.5h0"/><path class="k109" d="M528.9 278.3h0"/><path class="k59" d="M429.4 314.6h0M450.6 315.7h0"/><path class="k33" d="M477.3 313.5h0M484.0 312.7h0M489.6 312.1h0"/><path class="k118" d="M529.0 276.0h0"/><path class="k59" d="M429.8 314.7h0"/><path class="k49" d="M454.4 315.1h0"/><path class="k33" d="M478.9 313.2h0M485.7 312.4h0"/><path class="k35" d="M491.4 311.8h0"/><path class="k118" d="M529.0 273.8h0"/><path class="k59" d="M430.3 314.9h0"/><path class="k33" d="M480.5 313.0h0"/><path class="k35" d="M487.4 312.1h0M493.2 311.4h0"/><path class="k118" d="M529.0 271.5h0"/><path class="k59" d="M432.7 315.3h0M426.0 313.9h0"/><path class="k33" d="M482.0 312.7h0"/><path class="k35" d="M489.0 311.8h0M495.2 311.0h0"/><path class="k59" d="M430.7 314.9h0"/><path class="k49" d="M421.6 312.8h0"/><path class="k35" d="M483.6 312.4h0M490.7 311.4h0M496.9 310.6h0"/><path class="k59" d="M433.2 315.3h0"/><path class="k49" d="M426.2 314.1h0"/><path class="k35" d="M485.2 312.0h0"/><path class="k60" d="M492.4 311.0h0M498.7 310.2h0"/><path class="k59" d="M433.6 315.3h0"/><path class="k35" d="M486.8 311.7h0"/><path class="k135" d="M494.1 310.6h0"/><path class="k133" d="M500.5 309.7h0"/><path class="k59" d="M434.9 315.5h0"/><path class="k60" d="M488.3 311.3h0"/><path class="k133" d="M495.8 310.1h0M502.2 309.3h0"/><path class="k59" d="M434.5 315.4h0"/><path class="k135" d="M489.9 310.8h0"/><path class="k133" d="M497.4 309.7h0M503.9 308.9h0"/><path class="k59" d="M435.4 315.5h0"/><path class="k133" d="M491.4 310.4h0M499.1 309.2h0M505.7 308.4h0"/><path class="k59" d="M434.2 315.4h0"/><path class="k133" d="M492.9 310.0h0M500.6 308.7h0"/><path class="k134" d="M507.5 307.8h0"/><path class="k59" d="M431.1 315.1h0M438.4 315.7h0"/><path class="k133" d="M494.4 309.5h0"/><path class="k134" d="M502.5 308.1h0"/><path class="k75" d="M509.4 307.2h0"/><path class="k59" d="M431.6 315.1h0M426.6 314.2h0M440.2 315.9h0"/><path class="k134" d="M496.0 308.9h0"/><path class="k75" d="M504.0 307.6h0M511.0 306.7h0"/><path class="k59" d="M432.1 315.2h0M427.1 314.4h0M442.0 316.0h0"/><path class="k134" d="M497.5 308.4h0"/><path class="k75" d="M505.7 307.1h0"/><path class="k65" d="M512.9 306.1h0"/><path class="k59" d="M427.6 314.5h0M445.5 316.1h0M436.5 315.7h0"/><path class="k75" d="M499.1 307.8h0"/><path class="k65" d="M507.4 306.4h0M514.6 305.5h0"/><path class="k59" d="M428.0 314.6h0M443.6 316.1h0M448.9 316.0h0"/><path class="k75" d="M500.6 307.3h0"/><path class="k65" d="M509.0 305.8h0M516.3 304.9h0"/><path class="k59" d="M428.5 314.8h0"/><path class="k49" d="M447.1 316.2h0M452.7 315.5h0"/><path class="k65" d="M502.0 306.7h0M510.5 305.3h0M518.1 304.3h0"/><path class="k59" d="M428.9 314.9h0"/><path class="k49" d="M450.9 315.8h0M456.9 314.9h0"/><path class="k65" d="M503.7 306.0h0M512.1 304.6h0M519.8 303.7h0"/><path class="k59" d="M429.3 315.0h0"/><path class="k49" d="M424.4 313.9h0M459.1 314.9h0"/><path class="k65" d="M505.2 305.4h0"/><path class="k76" d="M514.0 303.9h0M521.6 302.9h0"/><path class="k59" d="M431.5 315.3h0"/><path class="k49" d="M424.6 314.0h0M455.0 315.1h0"/><path class="k33" d="M461.3 314.8h0"/><path class="k65" d="M506.6 304.8h0"/><path class="k76" d="M515.3 303.3h0M523.4 302.3h0"/><path class="k59" d="M432.0 315.4h0"/><path class="k49" d="M425.2 314.2h0"/><path class="k33" d="M463.5 314.6h0"/><path class="k76" d="M508.2 304.1h0M524.5 301.2h0M517.2 302.5h0"/><path class="k59" d="M432.4 315.4h0"/><path class="k33" d="M467.0 314.2h0"/><path class="k76" d="M509.7 303.4h0M518.7 301.9h0"/><path class="k40" d="M524.4 299.0h0"/><path class="k59" d="M432.9 315.5h0"/><path class="k33" d="M469.6 314.0h0"/><path class="k76" d="M511.2 302.7h0"/><path class="k40" d="M524.5 296.7h0M520.5 301.1h0"/><path class="k59" d="M429.8 315.1h0"/><path class="k33" d="M472.7 313.9h0"/><path class="k51" d="M524.8 294.3h0"/><path class="k40" d="M512.6 302.0h0M520.5 298.9h0"/><path class="k59" d="M433.4 315.5h0"/><path class="k49" d="M425.7 314.3h0"/><path class="k33" d="M471.0 313.8h0"/><path class="k39" d="M524.8 292.1h0"/><path class="k40" d="M514.1 301.3h0"/><path class="k51" d="M520.5 296.7h0"/><path class="k59" d="M434.0 315.6h0"/><path class="k33" d="M474.1 313.7h0"/><path class="k39" d="M524.6 289.9h0M520.6 294.4h0"/><path class="k40" d="M515.6 300.5h0"/><path class="k59" d="M434.4 315.6h0"/><path class="k99" d="M524.8 287.6h0"/><path class="k39" d="M520.8 292.1h0"/><path class="k51" d="M516.2 298.8h0"/><path class="k59" d="M430.3 315.2h0"/><path class="k49" d="M437.8 315.8h0"/><path class="k99" d="M524.8 285.3h0M520.9 289.8h0"/><path class="k39" d="M516.2 296.6h0"/><path class="k59" d="M430.8 315.3h0"/><path class="k49" d="M426.1 314.4h0M439.6 316.0h0"/><path class="k109" d="M524.9 283.0h0"/><path class="k99" d="M520.7 287.6h0"/><path class="k39" d="M516.2 294.3h0"/><path class="k49" d="M426.6 314.6h0M441.6 316.1h0M435.7 315.8h0"/><path class="k109" d="M524.9 280.8h0M520.7 285.3h0"/><path class="k99" d="M516.4 292.0h0"/><path class="k49" d="M427.1 314.7h0M445.3 316.2h0"/><path class="k118" d="M525.1 278.4h0"/><path class="k109" d="M520.9 283.0h0"/><path class="k99" d="M516.6 289.6h0"/><path class="k49" d="M427.5 314.8h0M443.4 316.2h0M449.0 316.0h0"/><path class="k33" d="M422.8 313.7h0"/><path class="k118" d="M525.2 276.1h0M520.7 280.8h0"/><path class="k109" d="M516.3 287.5h0"/><path class="k49" d="M428.0 315.0h0M447.1 316.2h0M453.2 315.5h0"/><path class="k33" d="M423.1 313.9h0"/><path class="k118" d="M525.1 273.9h0M520.9 278.4h0"/><path class="k109" d="M516.4 285.2h0"/><path class="k49" d="M430.3 315.3h0"/><path class="k33" d="M423.6 314.0h0M451.1 315.8h0M457.6 314.8h0"/><path class="k118" d="M521.1 276.1h0M516.6 282.8h0"/><path class="k49" d="M428.5 315.1h0"/><path class="k33" d="M459.8 314.8h0"/><path class="k118" d="M516.6 280.5h0"/><path class="k49" d="M430.9 315.4h0"/><path class="k33" d="M424.1 314.2h0M462.3 314.6h0M455.4 315.0h0"/><path class="k118" d="M516.5 278.3h0"/><path class="k49" d="M431.3 315.4h0"/><path class="k33" d="M419.7 313.0h0M464.6 314.5h0M458.3 314.7h0"/><path class="k49" d="M431.9 315.5h0"/><path class="k33" d="M468.2 314.1h0M460.9 314.6h0"/><path class="k49" d="M429.1 315.2h0"/><path class="k33" d="M465.8 314.3h0M472.2 313.7h0"/><path class="k49" d="M432.4 315.6h0"/><path class="k33" d="M424.7 314.4h0M463.2 314.5h0M469.4 313.9h0M475.6 313.5h0"/><path class="k49" d="M432.9 315.6h0"/><path class="k33" d="M466.9 314.1h0M473.5 313.4h0"/><path class="k49" d="M433.5 315.6h0"/><path class="k33" d="M470.6 313.6h0M477.1 313.2h0"/><path class="k49" d="M429.7 315.3h0M437.0 315.9h0"/><path class="k33" d="M475.0 313.1h0"/><path class="k33" d="M425.2 314.5h0M478.7 312.9h0"/><path class="k49" d="M439.0 316.0h0"/><path class="k33" d="M425.7 314.6h0"/><path class="k49" d="M441.1 316.2h0M434.8 315.8h0"/><path class="k33" d="M426.3 314.8h0M421.3 313.5h0"/><path class="k49" d="M445.2 316.3h0"/><path class="k33" d="M426.7 314.9h0M421.6 313.7h0M449.1 316.0h0"/><path class="k49" d="M443.1 316.2h0"/><path class="k49" d="M429.1 315.3h0"/><path class="k33" d="M422.2 313.9h0M447.1 316.3h0M453.5 315.4h0"/><path class="k33" d="M427.3 315.1h0M422.6 314.0h0M451.4 315.8h0M456.0 314.9h0"/><path class="k49" d="M429.6 315.4h0"/><path class="k33" d="M459.0 314.5h0"/><path class="k49" d="M430.2 315.4h0"/><path class="k33" d="M461.6 314.4h0"/><path class="k33" d="M427.8 315.2h0M464.2 314.3h0"/><path class="k49" d="M430.8 315.5h0"/><path class="k33" d="M423.3 314.2h0M467.9 313.9h0"/><path class="k49" d="M431.3 315.5h0"/><path class="k33" d="M423.8 314.4h0M471.8 313.3h0"/><path class="k33" d="M428.4 315.2h0M419.7 313.3h0"/><path class="k35" d="M476.2 312.8h0"/><path class="k49" d="M431.9 315.6h0"/><path class="k33" d="M424.3 314.5h0"/><path class="k35" d="M480.0 312.6h0"/><path class="k49" d="M432.5 315.7h0"/><path class="k33" d="M424.9 314.7h0M420.1 313.5h0"/><path class="k35" d="M477.7 312.4h0"/><path class="k33" d="M425.5 314.9h0M436.4 315.9h0M420.7 313.7h0"/><path class="k35" d="M481.3 312.3h0"/><path class="k33" d="M425.9 315.0h0M438.6 316.0h0M421.3 313.9h0"/><path class="k35" d="M482.8 311.9h0"/><path class="k33" d="M428.1 315.3h0M434.0 315.8h0M440.8 316.2h0M421.9 314.1h0"/><path class="k35" d="M478.9 312.1h0"/><path class="k60" d="M484.2 311.5h0"/><path class="k33" d="M428.6 315.3h0M445.0 316.3h0"/><path class="k60" d="M480.1 311.7h0"/><path class="k135" d="M485.6 311.1h0"/><path class="k33" d="M426.6 315.1h0M442.8 316.3h0M449.4 316.0h0"/><path class="k135" d="M481.4 311.3h0"/><path class="k133" d="M487.1 310.6h0"/><path class="k33" d="M429.1 315.4h0M422.4 314.2h0M447.1 316.2h0M454.0 315.3h0"/><path class="k133" d="M482.9 310.8h0M488.6 310.1h0"/><path class="k33" d="M429.7 315.4h0M418.2 313.1h0M451.8 315.7h0M456.6 314.8h0"/><path class="k133" d="M484.0 310.3h0M490.0 309.6h0"/><path class="k33" d="M427.2 315.2h0M449.6 316.0h0M454.3 315.2h0M459.6 314.4h0"/><path class="k133" d="M485.6 309.7h0"/><path class="k134" d="M491.4 309.1h0"/><path class="k33" d="M430.3 315.5h0M423.0 314.4h0M452.1 315.5h0M462.3 314.3h0M457.2 314.6h0"/><path class="k134" d="M486.6 309.3h0M492.7 308.6h0"/><path class="k33" d="M431.0 315.6h0M423.6 314.6h0M418.6 313.3h0M465.1 314.1h0M454.7 315.0h0M460.4 314.1h0"/><path class="k75" d="M488.0 308.7h0M494.2 308.0h0"/><path class="k33" d="M431.5 315.6h0M424.2 314.7h0M419.2 313.5h0M469.1 313.6h0M457.7 314.3h0"/><path class="k75" d="M489.1 308.2h0M495.6 307.4h0"/><path class="k33" d="M424.8 314.9h0M435.7 315.8h0M419.8 313.7h0M465.9 313.9h0"/><path class="k35" d="M473.0 313.0h0"/><path class="k65" d="M490.5 307.6h0M496.9 306.8h0"/><path class="k33" d="M426.8 315.2h0M438.0 316.0h0M420.5 313.9h0M463.1 314.0h0"/><path class="k35" d="M470.0 313.3h0"/><path class="k65" d="M491.8 306.9h0M498.4 306.2h0"/><path class="k33" d="M425.4 315.0h0M440.2 316.2h0"/><path class="k35" d="M461.0 313.8h0M467.0 313.6h0M474.2 312.7h0"/><path class="k65" d="M492.8 306.4h0M499.8 305.5h0"/><path class="k33" d="M427.5 315.3h0M442.5 316.2h0M421.0 314.0h0"/><path class="k35" d="M463.8 313.7h0M471.1 313.0h0"/><path class="k65" d="M494.2 305.7h0"/><path class="k76" d="M501.1 304.9h0"/><path class="k33" d="M428.0 315.3h0M444.8 316.3h0M416.7 312.8h0"/><path class="k35" d="M467.9 313.2h0M475.3 312.3h0"/><path class="k76" d="M495.4 305.1h0M502.4 304.2h0"/><path class="k33" d="M426.0 315.1h0M447.1 316.2h0"/><path class="k35" d="M472.2 312.6h0"/><path class="k76" d="M496.7 304.4h0M503.8 303.5h0"/><path class="k33" d="M428.6 315.4h0M421.6 314.2h0M449.6 315.9h0"/><path class="k60" d="M476.5 311.9h0"/><path class="k76" d="M497.9 303.7h0M505.4 302.7h0"/><path class="k33" d="M433.1 315.7h0M422.3 314.4h0M417.2 313.0h0M452.3 315.4h0"/><path class="k40" d="M499.1 302.9h0M506.6 302.1h0"/><path class="k33" d="M429.3 315.4h0M422.9 314.6h0M417.7 313.2h0M455.3 314.8h0"/><path class="k40" d="M500.5 302.1h0M507.9 301.3h0"/><path class="k33" d="M429.9 315.5h0M423.5 314.7h0M418.4 313.4h0"/><path class="k35" d="M458.3 314.1h0"/><path class="k40" d="M501.9 301.3h0"/><path class="k51" d="M509.5 300.5h0"/><path class="k33" d="M430.6 315.6h0M425.6 315.0h0M419.1 313.6h0"/><path class="k35" d="M461.7 313.5h0"/><path class="k51" d="M502.8 300.7h0"/><path class="k39" d="M510.7 299.8h0"/><path class="k33" d="M424.2 314.9h0M434.9 315.7h0M419.6 313.8h0"/><path class="k35" d="M464.7 313.4h0"/><path class="k39" d="M504.2 299.8h0M511.7 298.6h0"/><path class="k33" d="M426.3 315.1h0M437.4 315.9h0M420.3 314.0h0M415.2 312.5h0"/><path class="k35" d="M468.7 312.9h0"/><path class="k39" d="M511.5 296.4h0M505.2 299.1h0"/><path class="k33" d="M424.9 314.9h0M439.8 316.1h0M415.7 312.7h0"/><path class="k35" d="M465.6 313.0h0"/><path class="k135" d="M473.2 312.2h0"/><path class="k99" d="M511.5 294.1h0"/><path class="k39" d="M506.7 298.2h0"/><path class="k33" d="M427.0 315.2h0M442.3 316.2h0M420.9 314.2h0M416.3 312.9h0"/><path class="k135" d="M469.7 312.5h0M477.7 311.5h0"/><path class="k99" d="M511.6 291.8h0M506.7 296.0h0"/><path class="k33" d="M427.6 315.3h0M444.7 316.2h0M421.6 314.4h0M416.9 313.1h0"/><path class="k135" d="M474.3 311.8h0"/><path class="k109" d="M511.9 289.4h0"/><path class="k99" d="M506.7 293.7h0"/><path class="k33" d="M428.2 315.3h0M422.2 314.6h0M447.1 316.1h0M417.5 313.3h0"/><path class="k133" d="M478.8 311.1h0"/><path class="k109" d="M511.8 287.2h0M506.8 291.4h0"/><path class="k33" d="M432.3 315.6h0M422.8 314.6h0M418.2 313.5h0M449.7 315.7h0"/><path class="k35" d="M413.6 312.2h0"/><path class="k133" d="M475.2 311.4h0M480.0 310.6h0"/><path class="k118" d="M511.8 284.9h0"/><path class="k109" d="M506.9 289.1h0"/><path class="k33" d="M428.9 315.4h0M452.5 315.2h0"/><path class="k35" d="M414.2 312.4h0"/><path class="k133" d="M476.2 310.9h0M481.1 310.1h0"/><path class="k118" d="M511.6 282.7h0M506.9 286.8h0"/><path class="k33" d="M429.6 315.4h0M424.5 314.9h0"/><path class="k35" d="M455.6 314.6h0"/><path class="k133" d="M477.4 310.4h0"/><path class="k134" d="M482.1 309.6h0"/><path class="k118" d="M511.8 280.3h0M506.7 284.6h0"/><path class="k33" d="M425.1 314.9h0M434.2 315.6h0"/><path class="k35" d="M458.8 313.8h0"/><path class="k134" d="M478.3 309.9h0"/><path class="k75" d="M483.6 309.0h0"/><path class="k118" d="M506.9 282.3h0"/><path class="k33" d="M423.5 314.7h0M436.9 315.8h0"/><path class="k35" d="M462.3 313.2h0"/><path class="k75" d="M479.4 309.3h0M484.7 308.4h0"/><path class="k33" d="M425.9 315.0h0M439.5 316.0h0M419.0 313.8h0"/><path class="k75" d="M480.4 308.8h0"/><path class="k65" d="M485.5 307.9h0"/><path class="k33" d="M426.6 315.1h0M441.9 316.1h0M419.6 313.9h0"/><path class="k35" d="M414.8 312.6h0"/><path class="k65" d="M481.3 308.2h0M486.9 307.3h0"/><path class="k33" d="M427.2 315.2h0M444.5 316.1h0M420.3 314.2h0"/><path class="k35" d="M415.6 312.9h0"/><path class="k65" d="M482.4 307.6h0M488.0 306.6h0"/><path class="k33" d="M427.9 315.2h0M421.0 314.3h0M447.1 315.9h0"/><path class="k35" d="M416.2 313.1h0"/><path class="k65" d="M483.5 307.0h0M489.1 306.0h0"/><path class="k33" d="M431.5 315.5h0M423.3 314.7h0M449.8 315.5h0"/><path class="k35" d="M417.1 313.3h0M412.2 311.9h0"/><path class="k65" d="M484.5 306.3h0"/><path class="k76" d="M490.3 305.3h0"/><path class="k33" d="M428.6 315.3h0M421.8 314.5h0M433.6 315.5h0"/><path class="k35" d="M412.7 312.0h0M452.8 315.0h0"/><path class="k76" d="M485.4 305.7h0M491.3 304.6h0"/><path class="k33" d="M424.2 314.8h0M436.3 315.7h0"/><path class="k35" d="M417.6 313.5h0M456.0 314.3h0"/><path class="k76" d="M486.4 305.0h0M492.4 303.9h0"/><path class="k33" d="M422.5 314.6h0M439.0 315.9h0"/><path class="k35" d="M413.4 312.3h0M459.3 313.4h0"/><path class="k76" d="M487.3 304.3h0"/><path class="k40" d="M493.6 303.2h0"/><path class="k33" d="M424.8 314.8h0M441.7 316.0h0"/><path class="k35" d="M418.3 313.7h0"/><path class="k135" d="M463.0 312.8h0"/><path class="k40" d="M488.4 303.6h0M494.6 302.5h0"/><path class="k33" d="M425.5 314.9h0M444.5 316.0h0"/><path class="k35" d="M419.1 313.9h0M414.2 312.6h0"/><path class="k135" d="M466.3 312.7h0"/><path class="k40" d="M489.5 302.8h0M495.7 301.7h0"/><path class="k33" d="M426.2 315.0h0"/><path class="k35" d="M419.7 314.1h0M414.7 312.7h0M447.1 315.8h0M410.0 311.2h0"/><path class="k135" d="M470.6 312.1h0"/><path class="k51" d="M490.5 302.0h0M496.9 300.9h0"/><path class="k33" d="M427.0 315.1h0"/><path class="k35" d="M420.5 314.2h0M415.6 313.0h0M410.7 311.5h0M450.0 315.3h0"/><path class="k135" d="M467.1 312.3h0"/><path class="k51" d="M491.5 301.2h0"/><path class="k39" d="M498.1 300.1h0"/><path class="k33" d="M430.5 315.3h0"/><path class="k35" d="M422.2 314.5h0M416.3 313.2h0M411.2 311.7h0M453.1 314.7h0"/><path class="k133" d="M471.5 311.7h0"/><path class="k39" d="M492.5 300.4h0M499.0 299.3h0"/><path class="k33" d="M427.6 315.1h0"/><path class="k35" d="M421.2 314.3h0M432.9 315.3h0M411.9 311.9h0"/><path class="k136" d="M456.4 314.0h0"/><path class="k39" d="M493.5 299.6h0"/><path class="k99" d="M500.2 298.5h0"/><path class="k35" d="M423.0 314.6h0M435.8 315.5h0M417.1 313.4h0"/><path class="k135" d="M459.8 313.1h0"/><path class="k99" d="M494.7 298.7h0M501.3 297.6h0"/><path class="k35" d="M423.7 314.6h0M438.5 315.7h0M417.8 313.6h0M412.7 312.2h0"/><path class="k135" d="M463.7 312.4h0"/><path class="k99" d="M501.5 295.5h0M495.4 298.0h0"/><path class="k35" d="M424.5 314.7h0M441.4 315.8h0M418.4 313.8h0M413.5 312.4h0"/><path class="k133" d="M467.9 311.8h0"/><path class="k109" d="M501.7 293.2h0"/><path class="k99" d="M496.3 297.2h0"/><path class="k35" d="M425.3 314.8h0M444.3 315.8h0M419.3 313.9h0M414.3 312.7h0M409.2 311.0h0"/><path class="k133" d="M472.4 311.2h0"/><path class="k109" d="M501.4 291.0h0M496.2 294.9h0"/><path class="k35" d="M425.9 314.8h0M421.0 314.2h0M415.0 312.9h0M447.1 315.6h0M409.8 311.3h0"/><path class="k133" d="M473.3 310.7h0"/><path class="k118" d="M501.7 288.6h0"/><path class="k109" d="M496.0 292.7h0"/><path class="k35" d="M429.7 315.1h0M421.7 314.3h0M410.6 311.5h0M450.2 315.1h0"/><path class="k134" d="M474.3 310.2h0"/><path class="k118" d="M501.9 286.3h0M496.3 290.3h0"/><path class="k35" d="M426.7 314.9h0M420.0 314.0h0M432.2 315.1h0"/><path class="k136" d="M453.4 314.4h0"/><path class="k75" d="M475.0 309.7h0"/><path class="k118" d="M501.9 284.0h0M496.3 288.0h0"/><path class="k35" d="M422.6 314.4h0M435.2 315.3h0M415.7 313.1h0"/><path class="k135" d="M456.8 313.6h0"/><path class="k75" d="M475.9 309.1h0"/><path class="k118" d="M496.6 285.6h0"/><path class="k35" d="M423.5 314.5h0M438.1 315.5h0M416.4 313.3h0M411.3 311.8h0"/><path class="k135" d="M460.3 312.7h0"/><path class="k65" d="M476.9 308.5h0"/><path class="k35" d="M424.2 314.5h0M441.2 315.6h0M417.4 313.5h0M412.1 312.0h0"/><path class="k133" d="M464.3 312.0h0"/><path class="k65" d="M477.7 308.0h0"/><path class="k35" d="M424.9 314.6h0M444.2 315.6h0M418.1 313.7h0M412.9 312.3h0"/><path class="k60" d="M407.7 310.6h0"/><path class="k133" d="M468.6 311.4h0"/><path class="k65" d="M478.8 307.3h0"/><path class="k35" d="M425.8 314.7h0M419.9 313.9h0M413.6 312.5h0M447.0 315.4h0"/><path class="k135" d="M408.3 310.8h0"/><path class="k65" d="M479.8 306.6h0"/><path class="k35" d="M429.0 314.9h0M418.8 313.7h0"/><path class="k135" d="M409.2 311.1h0"/><path class="k136" d="M450.3 314.8h0"/><path class="k76" d="M480.6 305.9h0"/><path class="k35" d="M420.7 314.0h0M431.5 314.8h0M414.4 312.7h0"/><path class="k135" d="M409.9 311.4h0M453.7 314.1h0"/><path class="k76" d="M481.5 305.3h0"/><path class="k35" d="M421.5 314.1h0M434.7 315.0h0"/><path class="k136" d="M415.2 313.0h0"/><path class="k135" d="M410.8 311.6h0M457.3 313.3h0"/><path class="k133" d="M406.3 310.2h0"/><path class="k76" d="M482.2 304.6h0"/><path class="k35" d="M422.3 314.2h0M437.8 315.3h0"/><path class="k136" d="M416.0 313.2h0"/><path class="k133" d="M406.9 310.4h0M460.9 312.2h0"/><path class="k40" d="M483.0 303.9h0"/><path class="k35" d="M423.2 314.3h0"/><path class="k136" d="M440.9 315.4h0M416.9 313.3h0"/><path class="k135" d="M411.6 311.9h0"/><path class="k133" d="M464.9 311.5h0"/><path class="k40" d="M484.1 303.1h0"/><path class="k35" d="M424.1 314.3h0"/><path class="k136" d="M443.9 315.4h0M418.7 313.6h0"/><path class="k135" d="M412.4 312.1h0"/><path class="k133" d="M407.6 310.6h0M469.5 310.9h0"/><path class="k51" d="M484.9 302.3h0"/><path class="k35" d="M424.8 314.4h0"/><path class="k136" d="M417.7 313.4h0M447.2 315.1h0"/><path class="k133" d="M408.5 310.9h0"/><path class="k134" d="M470.2 310.4h0"/><path class="k51" d="M485.7 301.6h0"/><path class="k35" d="M428.3 314.7h0"/><path class="k136" d="M419.6 313.7h0"/><path class="k135" d="M413.3 312.4h0M450.4 314.5h0"/><path class="k75" d="M471.0 309.9h0"/><path class="k39" d="M486.7 300.8h0"/><path class="k136" d="M420.4 313.8h0M430.9 314.5h0"/><path class="k135" d="M414.0 312.6h0M453.9 313.8h0"/><path class="k133" d="M409.3 311.2h0"/><path class="k75" d="M471.8 309.3h0"/><path class="k39" d="M487.6 299.9h0"/><path class="k136" d="M421.2 313.9h0M434.2 314.8h0"/><path class="k135" d="M414.8 312.8h0"/><path class="k133" d="M410.2 311.5h0M404.9 309.7h0M457.5 312.9h0"/><path class="k65" d="M472.5 308.7h0"/><path class="k99" d="M488.4 299.1h0"/><path class="k136" d="M422.2 314.0h0M437.3 315.0h0"/><path class="k135" d="M415.8 313.0h0"/><path class="k133" d="M410.9 311.7h0M405.4 309.9h0M461.3 311.8h0"/><path class="k65" d="M473.2 308.1h0"/><path class="k99" d="M489.4 298.3h0"/><path class="k136" d="M423.0 314.0h0M440.6 315.1h0"/><path class="k135" d="M417.4 313.2h0"/><path class="k133" d="M411.8 312.0h0M406.3 310.2h0M465.5 311.0h0"/><path class="k65" d="M474.0 307.5h0"/><path class="k99" d="M490.0 297.4h0"/><path class="k136" d="M424.0 314.1h0M443.8 315.1h0"/><path class="k135" d="M416.5 313.1h0"/><path class="k133" d="M407.0 310.4h0"/><path class="k65" d="M474.8 306.9h0"/><path class="k109" d="M490.7 296.4h0"/><path class="k136" d="M427.6 314.4h0"/><path class="k135" d="M418.4 313.3h0M447.1 314.8h0"/><path class="k133" d="M412.7 312.2h0M408.1 310.8h0M403.4 309.2h0"/><path class="k76" d="M475.4 306.2h0"/><path class="k109" d="M490.5 294.2h0"/><path class="k135" d="M419.4 313.4h0M430.3 314.2h0"/><path class="k133" d="M413.7 312.5h0M408.9 311.0h0M450.6 314.2h0M403.9 309.4h0"/><path class="k76" d="M476.2 305.5h0"/><path class="k118" d="M490.7 291.8h0"/><path class="k135" d="M420.3 313.5h0M433.6 314.5h0"/><path class="k133" d="M414.4 312.6h0M409.7 311.3h0M404.8 309.7h0M454.1 313.4h0"/><path class="k76" d="M476.9 304.8h0"/><path class="k118" d="M490.6 289.6h0"/><path class="k135" d="M421.2 313.6h0M436.9 314.7h0"/><path class="k133" d="M415.3 312.7h0M410.7 311.6h0M405.9 310.0h0M457.9 312.4h0"/><path class="k40" d="M477.7 304.1h0"/><path class="k118" d="M490.7 287.2h0"/><path class="k135" d="M422.0 313.7h0M440.3 314.8h0"/><path class="k133" d="M416.6 312.9h0M411.4 311.8h0M406.6 310.3h0M401.9 308.6h0M461.9 311.3h0"/><path class="k40" d="M478.6 303.3h0"/><path class="k135" d="M422.9 313.8h0M443.7 314.9h0"/><path class="k133" d="M417.4 313.0h0M412.5 312.1h0M407.7 310.6h0M402.5 308.9h0"/><path class="k134" d="M466.1 310.5h0"/><path class="k51" d="M479.5 302.5h0"/><path class="k135" d="M426.6 314.0h0"/><path class="k133" d="M418.3 313.1h0M447.0 314.5h0M413.3 312.2h0M408.6 310.9h0M403.5 309.2h0"/><path class="k39" d="M479.9 301.8h0"/><path class="k133" d="M419.3 313.2h0M409.4 311.1h0M450.7 313.8h0M404.3 309.5h0"/><path class="k39" d="M480.8 301.0h0"/><path class="k133" d="M420.3 313.3h0M415.4 312.5h0M405.2 309.7h0M454.5 313.0h0"/><path class="k134" d="M400.5 308.1h0"/><path class="k39" d="M481.5 300.2h0"/><path class="k133" d="M421.0 313.3h0M414.3 312.3h0M458.1 312.0h0"/><path class="k134" d="M401.1 308.3h0"/><path class="k99" d="M482.3 299.3h0"/><path class="k133" d="M422.1 313.4h0M416.1 312.5h0M410.3 311.4h0"/><path class="k134" d="M462.5 310.8h0"/><path class="k99" d="M483.2 298.5h0"/><path class="k133" d="M425.7 313.7h0M417.3 312.7h0M411.2 311.6h0M406.4 310.1h0"/><path class="k75" d="M466.7 310.0h0"/><path class="k99" d="M483.5 297.7h0"/><path class="k133" d="M429.5 313.9h0M418.2 312.8h0M412.2 311.8h0M407.1 310.3h0"/><path class="k134" d="M402.1 308.6h0"/><path class="k75" d="M467.6 309.4h0"/><path class="k109" d="M484.5 296.8h0"/><path class="k133" d="M433.1 314.1h0M419.1 312.9h0M414.4 312.1h0M408.1 310.6h0"/><path class="k134" d="M403.0 308.9h0"/><path class="k65" d="M468.1 308.8h0"/><path class="k109" d="M485.1 295.4h0"/><path class="k133" d="M436.5 314.4h0M420.0 312.9h0M413.2 311.9h0"/><path class="k134" d="M403.9 309.2h0"/><path class="k75" d="M398.9 307.5h0"/><path class="k65" d="M468.7 308.2h0"/><path class="k118" d="M484.8 293.2h0"/><path class="k133" d="M440.2 314.5h0M421.0 313.0h0M415.3 312.2h0M408.9 310.9h0"/><path class="k75" d="M399.7 307.8h0"/><path class="k65" d="M469.4 307.6h0"/><path class="k118" d="M485.0 290.9h0"/><path class="k133" d="M443.6 314.5h0M424.9 313.3h0M416.2 312.3h0M409.8 311.1h0"/><path class="k134" d="M405.0 309.6h0"/><path class="k65" d="M469.9 307.0h0"/><path class="k118" d="M485.0 288.6h0"/><path class="k133" d="M428.8 313.5h0M447.2 314.1h0M417.2 312.4h0M411.0 311.4h0"/><path class="k134" d="M405.7 309.8h0"/><path class="k75" d="M400.6 308.1h0"/><path class="k76" d="M470.7 306.3h0"/><path class="k133" d="M432.5 313.8h0M418.2 312.5h0M450.7 313.4h0M413.1 311.6h0"/><path class="k134" d="M406.8 310.1h0"/><path class="k75" d="M401.7 308.4h0"/><path class="k76" d="M471.2 305.6h0"/><path class="k133" d="M436.1 314.0h0M419.1 312.5h0M412.1 311.5h0M454.5 312.6h0"/><path class="k75" d="M402.6 308.7h0M397.6 306.9h0"/><path class="k76" d="M471.7 304.9h0"/><path class="k133" d="M439.9 314.2h0M420.2 312.7h0M414.2 311.8h0"/><path class="k134" d="M407.7 310.4h0M458.8 311.5h0"/><path class="k75" d="M398.2 307.1h0"/><path class="k40" d="M472.4 304.2h0"/><path class="k133" d="M443.4 314.2h0M424.1 312.9h0M415.0 311.8h0"/><path class="k134" d="M408.8 310.7h0"/><path class="k75" d="M403.8 309.1h0M399.3 307.5h0M462.9 310.3h0"/><path class="k40" d="M473.3 303.4h0"/><path class="k133" d="M428.2 313.1h0M447.1 313.8h0M416.2 312.0h0"/><path class="k134" d="M409.8 310.9h0"/><path class="k75" d="M404.7 309.4h0"/><path class="k65" d="M395.9 306.2h0"/><path class="k51" d="M473.7 302.7h0"/><path class="k133" d="M432.1 313.4h0M417.1 312.0h0M450.9 313.0h0"/><path class="k134" d="M410.7 311.0h0"/><path class="k75" d="M405.6 309.6h0M400.3 307.9h0"/><path class="k65" d="M391.6 304.5h0"/><path class="k39" d="M474.4 301.9h0"/><path class="k133" d="M435.7 313.6h0M418.3 312.2h0"/><path class="k134" d="M412.0 311.2h0M455.0 312.1h0"/><path class="k75" d="M406.6 309.9h0M401.3 308.2h0"/><path class="k65" d="M396.8 306.5h0"/><path class="k39" d="M474.9 301.1h0"/><path class="k133" d="M439.6 313.8h0M419.1 312.2h0"/><path class="k134" d="M413.0 311.3h0"/><path class="k75" d="M407.5 310.2h0M402.2 308.5h0M459.1 311.0h0"/><path class="k39" d="M475.6 300.2h0"/><path class="k133" d="M443.3 313.8h0M423.5 312.5h0"/><path class="k134" d="M414.1 311.4h0"/><path class="k75" d="M408.7 310.4h0M403.2 308.8h0M463.3 309.7h0"/><path class="k65" d="M397.9 306.9h0"/><path class="k99" d="M476.2 299.4h0"/><path class="k133" d="M427.5 312.7h0M447.1 313.4h0"/><path class="k134" d="M415.1 311.5h0"/><path class="k75" d="M404.5 309.1h0"/><path class="k65" d="M398.9 307.3h0M394.5 305.6h0"/><path class="k99" d="M476.8 298.6h0"/><path class="k133" d="M431.4 313.0h0"/><path class="k134" d="M416.2 311.6h0M451.1 312.6h0"/><path class="k75" d="M410.9 310.7h0"/><path class="k65" d="M399.8 307.5h0"/><path class="k99" d="M477.3 297.7h0"/><path class="k133" d="M435.3 313.2h0"/><path class="k134" d="M417.2 311.7h0"/><path class="k75" d="M409.6 310.5h0M455.3 311.6h0"/><path class="k65" d="M400.8 307.9h0M395.5 305.9h0"/><path class="k109" d="M478.1 296.8h0"/><path class="k133" d="M439.3 313.4h0"/><path class="k134" d="M418.3 311.8h0"/><path class="k75" d="M412.1 310.8h0M405.2 309.4h0M459.5 310.5h0"/><path class="k65" d="M396.5 306.3h0"/><path class="k109" d="M478.6 295.9h0"/><path class="k133" d="M443.3 313.4h0"/><path class="k134" d="M422.6 312.1h0"/><path class="k75" d="M413.0 310.9h0M406.4 309.7h0"/><path class="k65" d="M397.7 306.7h0M463.9 309.2h0M393.3 305.0h0"/><path class="k118" d="M479.0 294.4h0"/><path class="k134" d="M426.7 312.2h0M447.2 312.9h0"/><path class="k75" d="M414.2 311.0h0M407.4 309.9h0"/><path class="k65" d="M402.1 308.3h0M394.0 305.2h0M464.5 308.6h0"/><path class="k118" d="M479.0 292.1h0"/><path class="k134" d="M430.9 312.5h0"/><path class="k75" d="M415.3 311.1h0M451.3 312.1h0M409.8 310.2h0"/><path class="k65" d="M403.1 308.6h0M464.9 308.0h0"/><path class="k118" d="M479.3 289.7h0"/><path class="k134" d="M435.0 312.8h0"/><path class="k75" d="M416.3 311.2h0M408.6 310.0h0M455.5 311.1h0"/><path class="k65" d="M404.0 308.8h0M398.8 307.0h0M465.4 307.3h0"/><path class="k134" d="M438.9 313.0h0"/><path class="k75" d="M417.4 311.3h0M410.8 310.3h0"/><path class="k65" d="M405.1 309.1h0M399.8 307.4h0M460.0 309.9h0M395.2 305.7h0"/><path class="k76" d="M466.1 306.6h0"/><path class="k134" d="M443.0 313.0h0"/><path class="k75" d="M421.8 311.6h0M412.0 310.4h0"/><path class="k65" d="M406.3 309.3h0M400.7 307.6h0M396.3 306.0h0M391.8 304.3h0M460.3 309.4h0"/><path class="k76" d="M466.6 306.0h0"/><path class="k75" d="M426.2 311.8h0M447.1 312.5h0M413.2 310.5h0"/><path class="k65" d="M408.5 309.6h0M401.8 308.0h0M397.2 306.3h0M392.7 304.6h0M460.7 308.8h0"/><path class="k76" d="M467.0 305.3h0"/><path class="k75" d="M430.4 312.1h0M414.1 310.6h0M451.5 311.7h0"/><path class="k65" d="M407.5 309.5h0M402.9 308.3h0M398.5 306.7h0M393.7 305.0h0M461.0 308.2h0"/><path class="k40" d="M467.5 304.6h0"/><path class="k75" d="M434.4 312.4h0M415.3 310.7h0"/><path class="k65" d="M409.9 309.8h0M455.6 310.6h0M404.0 308.6h0M399.4 307.0h0"/><path class="k76" d="M390.2 303.6h0M461.4 307.5h0"/><path class="k40" d="M468.0 303.8h0"/><path class="k75" d="M438.5 312.5h0M416.6 310.8h0"/><path class="k65" d="M411.1 309.9h0M405.0 308.7h0M400.4 307.3h0M395.1 305.5h0M456.1 310.0h0"/><path class="k76" d="M461.7 306.9h0"/><path class="k51" d="M468.4 303.1h0"/><path class="k75" d="M443.0 312.6h0M421.0 311.1h0"/><path class="k65" d="M412.1 310.0h0M406.2 308.9h0M396.0 305.8h0M456.3 309.5h0"/><path class="k76" d="M391.2 303.9h0M462.1 306.2h0"/><path class="k39" d="M469.1 302.3h0"/><path class="k75" d="M425.6 311.3h0M447.1 312.0h0"/><path class="k65" d="M413.5 310.1h0M420.2 310.6h0M407.5 309.1h0M401.8 307.7h0M397.0 306.1h0M456.5 308.9h0"/><path class="k76" d="M392.4 304.3h0"/><path class="k40" d="M462.4 305.5h0"/><path class="k39" d="M469.6 301.5h0"/><path class="k75" d="M429.8 311.6h0"/><path class="k65" d="M414.4 310.2h0M424.9 310.8h0M451.3 311.2h0M408.8 309.2h0M402.9 308.0h0M398.2 306.4h0"/><path class="k76" d="M393.5 304.7h0M388.8 302.9h0M456.8 308.3h0"/><path class="k40" d="M462.9 304.8h0"/><path class="k39" d="M470.0 300.7h0"/><path class="k75" d="M434.2 311.9h0"/><path class="k65" d="M415.4 310.2h0M429.2 311.1h0M410.1 309.4h0M403.8 308.2h0M424.3 310.3h0M399.2 306.7h0"/><path class="k76" d="M394.5 305.0h0M389.8 303.2h0M456.9 307.7h0"/><path class="k51" d="M463.2 304.1h0"/><path class="k99" d="M470.2 299.9h0"/><path class="k75" d="M438.4 312.1h0"/><path class="k65" d="M411.2 309.5h0M419.4 310.1h0M405.0 308.3h0M428.9 310.6h0M400.5 307.1h0"/><path class="k76" d="M395.7 305.4h0M391.1 303.7h0M457.3 307.0h0"/><path class="k39" d="M463.6 303.3h0"/><path class="k99" d="M470.9 299.0h0"/><path class="k75" d="M442.8 312.1h0"/><path class="k65" d="M433.8 311.4h0M412.2 309.5h0M406.5 308.5h0M401.6 307.4h0M423.4 309.7h0M428.2 310.0h0"/><path class="k76" d="M397.0 305.8h0M392.2 304.0h0M387.5 302.2h0"/><path class="k40" d="M457.6 306.3h0"/><path class="k39" d="M464.0 302.6h0"/><path class="k99" d="M471.7 298.1h0"/><path class="k65" d="M438.3 311.6h0M447.2 311.5h0M413.4 309.6h0M407.9 308.7h0M433.4 310.9h0M402.9 307.6h0M427.8 309.5h0"/><path class="k76" d="M398.2 306.1h0M393.2 304.3h0M388.4 302.5h0"/><path class="k40" d="M383.8 300.6h0M457.9 305.6h0"/><path class="k39" d="M464.5 301.7h0"/><path class="k109" d="M471.8 297.3h0"/><path class="k65" d="M442.6 311.6h0M414.6 309.7h0M451.5 310.6h0M409.1 308.8h0M437.9 311.1h0M433.0 310.4h0"/><path class="k76" d="M399.1 306.4h0M394.4 304.7h0M389.6 302.9h0"/><path class="k40" d="M385.0 301.0h0M380.0 298.9h0"/><path class="k51" d="M458.1 304.9h0"/><path class="k99" d="M464.9 300.9h0"/><path class="k109" d="M472.4 296.4h0"/><path class="k65" d="M410.2 308.9h0M447.1 311.0h0M442.4 311.1h0M418.6 309.5h0M405.4 307.9h0M432.6 309.8h0"/><path class="k76" d="M395.7 305.1h0M390.9 303.3h0"/><path class="k40" d="M385.9 301.4h0M381.0 299.3h0M376.0 297.0h0"/><path class="k39" d="M458.5 304.2h0"/><path class="k99" d="M465.2 300.1h0"/><path class="k118" d="M472.5 295.4h0"/><path class="k65" d="M411.3 309.0h0M404.1 307.8h0M451.7 310.1h0M437.8 310.5h0M447.0 310.5h0M422.9 309.1h0"/><path class="k76" d="M391.9 303.7h0M432.3 309.2h0"/><path class="k40" d="M387.1 301.8h0M382.3 299.8h0M377.1 297.5h0"/><path class="k51" d="M372.0 295.1h0"/><path class="k39" d="M458.6 303.5h0"/><path class="k99" d="M465.4 299.3h0"/><path class="k118" d="M472.7 293.1h0"/><path class="k65" d="M412.4 309.1h0M406.8 308.1h0M442.3 310.6h0M451.8 309.5h0M437.2 310.0h0M447.2 309.9h0"/><path class="k76" d="M400.5 306.8h0M427.2 308.9h0"/><path class="k40" d="M388.2 302.2h0M383.5 300.3h0M378.3 298.0h0"/><path class="k39" d="M368.5 293.3h0M458.8 302.7h0"/><path class="k51" d="M373.5 295.8h0"/><path class="k109" d="M466.0 298.4h0"/><path class="k118" d="M472.7 290.8h0"/><path class="k65" d="M413.8 309.2h0M408.0 308.2h0M442.3 310.0h0"/><path class="k76" d="M401.7 307.0h0M396.7 305.4h0M452.0 308.9h0M437.1 309.4h0M447.1 309.3h0M431.7 308.6h0"/><path class="k40" d="M384.6 300.7h0M379.6 298.5h0"/><path class="k39" d="M364.4 291.2h0M369.5 293.8h0"/><path class="k51" d="M374.6 296.3h0"/><path class="k99" d="M459.0 301.9h0"/><path class="k109" d="M466.2 297.6h0"/><path class="k65" d="M408.9 308.3h0M417.8 308.9h0"/><path class="k76" d="M402.9 307.1h0M398.1 305.8h0M393.0 304.0h0M442.1 309.4h0M452.0 308.3h0M436.8 308.8h0M447.1 308.7h0M431.4 308.0h0"/><path class="k40" d="M380.7 299.0h0"/><path class="k39" d="M365.4 291.6h0M370.6 294.3h0"/><path class="k51" d="M375.6 296.7h0"/><path class="k99" d="M459.3 301.1h0"/><path class="k118" d="M466.6 296.3h0"/><path class="k65" d="M410.2 308.4h0"/><path class="k76" d="M404.5 307.4h0M399.2 306.1h0M422.4 308.6h0M394.1 304.4h0M442.1 308.8h0M451.9 307.7h0M436.6 308.2h0M447.0 308.1h0"/><path class="k40" d="M389.4 302.6h0"/><path class="k99" d="M361.5 289.6h0M459.7 300.3h0"/><path class="k39" d="M366.5 292.2h0M371.8 294.8h0"/><path class="k51" d="M376.8 297.2h0"/><path class="k118" d="M466.4 294.0h0"/><path class="k65" d="M411.6 308.5h0"/><path class="k76" d="M405.6 307.5h0M400.6 306.4h0M395.6 304.8h0M426.7 308.3h0M441.7 308.2h0"/><path class="k40" d="M390.7 303.0h0M385.8 301.1h0M452.2 307.0h0M436.4 307.6h0M447.2 307.5h0"/><path class="k99" d="M362.8 290.2h0M358.6 288.1h0"/><path class="k39" d="M367.8 292.8h0M373.0 295.4h0"/><path class="k109" d="M459.5 299.5h0"/><path class="k118" d="M466.6 291.7h0"/><path class="k65" d="M412.7 308.6h0"/><path class="k76" d="M407.1 307.7h0M401.8 306.5h0M396.8 305.1h0"/><path class="k40" d="M392.0 303.4h0M387.1 301.5h0M381.9 299.4h0M431.1 307.4h0M441.6 307.6h0M452.5 306.3h0M436.0 306.9h0M447.1 306.8h0"/><path class="k99" d="M363.8 290.8h0M359.5 288.4h0"/><path class="k39" d="M369.0 293.4h0"/><path class="k109" d="M460.1 298.6h0"/><path class="k76" d="M408.3 307.7h0M417.2 308.4h0M403.3 306.7h0M398.1 305.5h0"/><path class="k40" d="M393.1 303.7h0M388.1 301.8h0M383.3 299.9h0M441.7 306.9h0"/><path class="k51" d="M377.9 297.6h0M452.5 305.7h0M435.8 306.2h0M447.0 306.1h0"/><path class="k99" d="M355.8 286.0h0M365.0 291.3h0"/><path class="k118" d="M460.2 297.0h0"/><path class="k76" d="M409.3 307.8h0M404.5 306.9h0M399.3 305.7h0M421.7 307.9h0"/><path class="k40" d="M394.6 304.2h0M389.3 302.2h0M384.1 300.2h0"/><path class="k51" d="M379.3 298.2h0M441.7 306.3h0"/><path class="k39" d="M374.0 295.8h0M452.6 304.9h0M435.6 305.5h0M447.2 305.4h0"/><path class="k109" d="M354.5 283.3h0"/><path class="k99" d="M361.0 289.2h0"/><path class="k118" d="M460.1 294.7h0"/><path class="k76" d="M410.6 307.9h0M405.6 306.9h0M400.7 305.9h0M421.1 307.3h0M426.2 307.7h0"/><path class="k40" d="M395.7 304.5h0M390.5 302.6h0M385.6 300.7h0"/><path class="k51" d="M380.7 298.7h0"/><path class="k39" d="M370.1 293.9h0M375.5 296.4h0M441.1 305.6h0M452.8 304.2h0M435.5 304.8h0M447.2 304.7h0"/><path class="k99" d="M357.6 286.6h0"/><path class="k109" d="M353.2 280.7h0"/><path class="k118" d="M460.2 292.3h0"/><path class="k76" d="M412.0 308.0h0M407.1 307.1h0M402.1 306.1h0"/><path class="k40" d="M396.9 304.8h0M391.8 303.0h0M386.7 301.1h0M425.6 307.0h0M430.7 306.7h0"/><path class="k51" d="M381.7 299.0h0"/><path class="k99" d="M366.1 291.9h0"/><path class="k39" d="M371.3 294.4h0M376.8 296.9h0M441.2 304.9h0M453.0 303.5h0M435.0 304.1h0M447.1 304.0h0"/><path class="k109" d="M356.0 283.8h0"/><path class="k118" d="M351.6 277.8h0"/><path class="k76" d="M408.6 307.2h0M416.3 307.7h0M403.5 306.2h0"/><path class="k40" d="M398.1 305.0h0M393.1 303.4h0M388.0 301.5h0M425.4 306.4h0"/><path class="k99" d="M358.8 287.0h0M367.3 292.4h0M453.3 302.7h0M434.9 303.4h0M447.2 303.3h0"/><path class="k109" d="M354.4 281.0h0"/><path class="k118" d="M350.0 274.9h0"/><path class="k39" d="M377.7 297.3h0M372.6 295.0h0M441.0 304.1h0"/><path class="k51" d="M382.9 299.5h0"/><path class="k76" d="M409.7 307.3h0M405.0 306.4h0"/><path class="k40" d="M399.6 305.2h0M394.3 303.7h0M389.2 301.9h0M420.3 306.7h0"/><path class="k99" d="M362.3 289.9h0M368.7 293.1h0M440.7 303.4h0M453.2 301.9h0M434.6 302.6h0M447.0 302.5h0"/><path class="k109" d="M357.2 284.2h0"/><path class="k118" d="M348.6 272.2h0M353.1 278.3h0"/><path class="k51" d="M384.1 299.9h0M429.9 306.0h0"/><path class="k39" d="M379.2 297.8h0M373.7 295.4h0"/><path class="k76" d="M411.0 307.4h0M406.2 306.5h0"/><path class="k40" d="M401.1 305.4h0M395.7 304.1h0M390.6 302.3h0"/><path class="k99" d="M360.3 287.5h0M370.0 293.6h0M441.0 302.7h0M453.4 301.1h0M434.4 301.8h0M447.2 301.7h0"/><path class="k109" d="M356.0 281.6h0"/><path class="k118" d="M351.6 275.5h0"/><path class="k51" d="M385.4 300.3h0M424.6 305.7h0"/><path class="k39" d="M380.5 298.3h0M375.1 296.0h0M429.8 305.3h0"/><path class="k76" d="M407.4 306.6h0M415.4 307.1h0"/><path class="k40" d="M402.5 305.6h0M397.1 304.4h0M391.8 302.6h0"/><path class="k99" d="M363.5 290.4h0M371.1 294.1h0M441.0 301.9h0"/><path class="k109" d="M358.9 284.8h0M453.3 300.3h0M434.0 301.1h0M447.1 300.9h0"/><path class="k118" d="M354.2 278.7h0M350.0 272.6h0"/><path class="k51" d="M386.7 300.7h0"/><path class="k39" d="M381.4 298.6h0M376.4 296.5h0M429.5 304.6h0"/><path class="k76" d="M408.7 306.7h0"/><path class="k40" d="M403.6 305.6h0M392.9 303.0h0M419.7 306.0h0"/><path class="k99" d="M361.6 288.1h0M372.3 294.6h0"/><path class="k109" d="M357.4 282.0h0M440.7 301.1h0M453.7 299.5h0M434.1 299.8h0M447.4 300.1h0"/><path class="k118" d="M353.0 276.0h0"/><path class="k51" d="M388.1 301.2h0"/><path class="k39" d="M382.8 299.1h0M377.8 297.0h0M429.2 303.9h0"/><path class="k76" d="M410.3 306.8h0"/><path class="k40" d="M405.3 305.8h0M400.0 304.7h0"/><path class="k99" d="M364.6 291.0h0M373.6 295.1h0M428.8 303.2h0"/><path class="k109" d="M360.2 285.2h0M440.5 300.0h0"/><path class="k118" d="M351.3 273.1h0M355.8 279.3h0M433.8 297.4h0M453.5 297.5h0M447.0 297.8h0"/><path class="k51" d="M389.4 301.6h0M419.2 305.3h0"/><path class="k39" d="M383.9 299.5h0M379.0 297.5h0M423.9 305.0h0"/><path class="k40" d="M406.6 305.9h0M414.6 306.4h0M398.6 304.6h0"/><path class="k99" d="M362.8 288.6h0M374.9 295.6h0M428.3 302.4h0"/><path class="k109" d="M358.8 282.5h0"/><path class="k118" d="M354.3 276.5h0M440.5 297.7h0M433.9 295.1h0M453.5 295.2h0M446.9 295.5h0"/><path class="k39" d="M385.4 300.0h0M380.1 297.8h0M423.7 304.3h0"/><path class="k40" d="M408.0 306.0h0M401.4 304.9h0M394.5 303.4h0M414.2 305.8h0"/><path class="k99" d="M365.7 291.5h0M376.1 296.1h0M428.0 301.6h0"/><path class="k109" d="M361.4 285.7h0"/><path class="k118" d="M357.2 279.7h0M352.8 273.7h0M440.6 295.4h0M433.7 292.8h0M453.5 292.9h0M447.2 293.2h0"/><path class="k39" d="M381.4 298.3h0"/><path class="k40" d="M409.3 306.1h0M402.8 305.0h0M395.8 303.6h0"/><path class="k109" d="M360.2 282.9h0M427.4 300.8h0"/><path class="k99" d="M363.9 289.1h0M377.7 296.7h0"/><path class="k118" d="M356.0 277.1h0M440.6 293.1h0"/><path class="k51" d="M390.5 301.9h0"/><path class="k39" d="M418.5 304.6h0"/><path class="k40" d="M404.2 305.1h0M397.0 303.7h0"/><path class="k99" d="M367.0 292.1h0"/><path class="k118" d="M354.1 274.1h0M358.9 280.3h0"/><path class="k109" d="M363.0 286.5h0M427.3 299.3h0"/><path class="k51" d="M391.9 302.3h0M413.1 305.1h0"/><path class="k39" d="M386.4 300.2h0M417.9 303.9h0M423.0 303.5h0"/><path class="k40" d="M405.4 305.2h0M398.9 304.0h0"/><path class="k118" d="M357.0 277.3h0M427.3 297.0h0"/><path class="k109" d="M361.5 283.5h0"/><path class="k99" d="M365.5 289.7h0M422.7 302.8h0"/><path class="k51" d="M393.2 302.7h0"/><path class="k39" d="M388.1 300.8h0M382.8 298.7h0M417.2 303.1h0"/><path class="k40" d="M407.0 305.3h0M400.3 304.2h0"/><path class="k99" d="M368.3 292.6h0M378.9 297.0h0M422.1 302.0h0"/><path class="k109" d="M363.8 286.7h0"/><path class="k118" d="M360.1 280.6h0M355.6 274.6h0M427.6 294.7h0"/><path class="k51" d="M394.6 302.9h0"/><path class="k39" d="M389.4 301.2h0M384.2 299.2h0"/><path class="k40" d="M408.1 305.4h0M401.9 304.3h0"/><path class="k99" d="M366.5 290.1h0M380.1 297.4h0M421.4 301.2h0"/><path class="k118" d="M358.6 277.8h0M427.5 292.4h0"/><path class="k109" d="M362.7 284.0h0"/><path class="k51" d="M396.0 303.0h0"/><path class="k39" d="M390.9 301.6h0M385.6 299.6h0"/><path class="k51" d="M403.2 304.4h0M397.7 303.3h0M412.4 304.4h0"/><path class="k99" d="M369.7 293.2h0M381.4 297.9h0"/><path class="k109" d="M365.3 287.4h0M421.1 300.4h0"/><path class="k118" d="M361.5 281.2h0M357.2 275.2h0"/><path class="k39" d="M392.1 301.9h0M386.9 300.0h0"/><path class="k51" d="M404.5 304.5h0M399.2 303.4h0"/><path class="k99" d="M367.9 290.7h0M382.8 298.3h0M416.3 302.4h0"/><path class="k118" d="M360.2 278.4h0"/><path class="k109" d="M364.0 284.6h0M420.9 298.7h0"/><path class="k39" d="M393.6 302.2h0M388.3 300.4h0"/><path class="k51" d="M405.8 304.6h0M400.6 303.6h0"/><path class="k99" d="M370.9 293.7h0M384.0 298.7h0M415.9 301.6h0"/><path class="k109" d="M366.5 287.8h0"/><path class="k118" d="M358.7 275.6h0M362.7 281.8h0M420.9 296.4h0"/><path class="k39" d="M395.1 302.4h0M389.8 300.9h0"/><path class="k51" d="M407.6 304.8h0M402.4 303.8h0"/><path class="k99" d="M369.1 291.1h0M385.7 299.2h0M415.3 300.8h0"/><path class="k118" d="M361.3 278.9h0M420.6 294.0h0"/><path class="k109" d="M365.3 285.1h0"/><path class="k39" d="M396.6 302.6h0M391.1 301.2h0"/><path class="k99" d="M372.1 294.2h0M386.9 299.6h0"/><path class="k118" d="M360.0 276.0h0M363.8 282.2h0M421.1 291.8h0"/><path class="k109" d="M367.8 288.4h0M414.7 300.0h0"/><path class="k51" d="M403.5 303.8h0"/><path class="k39" d="M398.3 302.8h0M392.5 301.4h0M411.6 303.6h0"/><path class="k99" d="M370.7 291.7h0M388.3 300.0h0"/><path class="k109" d="M366.5 285.6h0M414.5 297.8h0"/><path class="k118" d="M362.6 279.5h0"/><path class="k51" d="M405.0 303.9h0"/><path class="k39" d="M399.8 302.9h0M393.9 301.6h0"/><path class="k99" d="M373.6 294.8h0M390.1 300.5h0"/><path class="k109" d="M369.3 288.9h0"/><path class="k118" d="M361.3 276.6h0M365.2 282.8h0M414.5 295.5h0"/><path class="k51" d="M406.6 304.0h0"/><path class="k39" d="M401.0 302.9h0M395.8 301.9h0"/><path class="k99" d="M371.7 292.0h0M391.2 300.6h0"/><path class="k109" d="M367.9 286.1h0"/><path class="k118" d="M363.9 280.0h0M414.5 293.2h0"/><path class="k39" d="M402.6 303.1h0M397.1 302.0h0M411.0 302.9h0"/><path class="k99" d="M374.7 295.2h0M392.9 300.8h0M410.4 302.2h0"/><path class="k109" d="M370.5 289.3h0"/><path class="k118" d="M366.4 283.3h0M362.4 277.1h0M414.4 290.9h0"/><path class="k39" d="M404.2 303.2h0M398.5 302.1h0"/><path class="k99" d="M373.4 292.6h0M394.8 301.1h0"/><path class="k109" d="M369.1 286.6h0"/><path class="k118" d="M365.2 280.5h0"/><path class="k39" d="M405.8 303.3h0M400.1 302.2h0"/><path class="k99" d="M376.2 295.8h0M396.2 301.3h0M409.3 301.4h0"/><path class="k109" d="M371.9 289.8h0"/><path class="k118" d="M367.7 283.8h0M363.8 277.7h0"/><path class="k39" d="M401.7 302.4h0"/><path class="k99" d="M374.7 293.0h0M397.6 301.4h0"/><path class="k118" d="M366.2 280.9h0"/><path class="k109" d="M370.7 287.2h0"/><path class="k39" d="M403.2 302.5h0"/><path class="k99" d="M377.7 296.3h0M399.1 301.5h0"/><path class="k109" d="M373.3 290.3h0"/><path class="k118" d="M369.1 284.3h0M365.1 278.2h0"/><path class="k39" d="M404.7 302.5h0"/><path class="k99" d="M376.3 293.6h0M400.7 301.6h0M408.9 300.7h0"/><path class="k109" d="M371.8 287.5h0"/><path class="k118" d="M367.8 281.5h0"/><path class="k99" d="M379.1 296.7h0M402.1 301.7h0"/><path class="k109" d="M374.7 290.8h0M408.3 299.1h0"/><path class="k118" d="M370.4 284.8h0M366.3 278.7h0"/><path class="k99" d="M377.5 293.9h0M403.7 301.8h0"/><path class="k109" d="M373.2 288.0h0M408.1 296.8h0"/><path class="k118" d="M369.1 282.0h0"/><path class="k99" d="M380.3 297.0h0"/><path class="k118" d="M371.7 285.2h0M367.6 279.2h0M408.4 294.5h0"/><path class="k99" d="M378.8 294.3h0"/><path class="k118" d="M370.3 282.4h0M408.3 292.2h0"/><path class="k109" d="M376.2 291.3h0"/><path class="k99" d="M381.9 297.5h0"/><path class="k118" d="M369.2 279.8h0M408.1 289.9h0"/><path class="k109" d="M374.6 288.5h0"/><path class="k99" d="M383.0 297.8h0"/><path class="k109" d="M377.4 291.6h0"/><path class="k118" d="M373.0 285.6h0"/><path class="k99" d="M384.6 298.2h0"/><path class="k99" d="M380.3 294.8h0"/><path class="k109" d="M375.9 288.9h0"/><path class="k118" d="M371.8 283.0h0"/><path class="k99" d="M381.8 295.2h0"/><path class="k118" d="M374.6 286.2h0M370.2 280.1h0"/><path class="k109" d="M379.0 292.1h0"/><path class="k99" d="M383.1 295.5h0"/><path class="k118" d="M373.2 283.4h0"/><path class="k109" d="M377.3 289.3h0"/><path class="k99" d="M386.2 298.6h0"/><path class="k118" d="M371.7 280.7h0"/><path class="k109" d="M380.4 292.5h0"/><path class="k99" d="M387.5 298.9h0"/><path class="k118" d="M376.0 286.6h0"/><path class="k109" d="M381.6 292.8h0"/><path class="k118" d="M374.5 283.9h0"/><path class="k99" d="M389.3 299.4h0"/><path class="k109" d="M378.8 289.8h0"/><path class="k99" d="M384.8 296.0h0M390.5 299.7h0"/><path class="k118" d="M373.2 281.2h0"/><path class="k99" d="M386.0 296.3h0M392.0 300.1h0"/><path class="k118" d="M377.3 287.0h0"/><path class="k109" d="M383.1 293.3h0"/><path class="k99" d="M387.4 296.6h0M393.7 300.4h0"/><path class="k118" d="M375.9 284.3h0"/><path class="k109" d="M380.3 290.2h0"/><path class="k118" d="M374.4 281.6h0"/><path class="k99" d="M389.1 297.0h0M395.0 300.4h0"/><path class="k118" d="M378.7 287.4h0"/><path class="k99" d="M390.5 297.4h0M396.5 300.6h0"/><path class="k109" d="M381.6 290.5h0"/><path class="k118" d="M377.4 284.8h0"/><path class="k99" d="M392.0 297.8h0M398.3 300.7h0"/><path class="k109" d="M384.7 293.7h0"/><path class="k118" d="M380.2 287.9h0M375.8 282.0h0"/><path class="k99" d="M399.8 300.8h0"/><path class="k109" d="M386.0 294.0h0"/><path class="k118" d="M378.7 285.2h0"/><path class="k99" d="M401.4 300.9h0"/><path class="k109" d="M383.3 291.0h0M387.7 294.4h0"/><path class="k118" d="M377.1 282.4h0"/><path class="k99" d="M402.8 301.0h0"/><path class="k118" d="M381.6 288.3h0"/><path class="k109" d="M389.1 294.7h0"/><path class="k109" d="M384.7 291.4h0M390.4 295.1h0"/><path class="k109" d="M386.0 291.7h0"/><path class="k99" d="M393.6 298.2h0"/><path class="k118" d="M383.0 288.7h0"/><path class="k109" d="M387.5 292.1h0"/><path class="k99" d="M394.9 298.6h0"/><path class="k118" d="M380.2 285.6h0M384.6 289.1h0"/><path class="k109" d="M391.9 295.5h0"/><path class="k99" d="M396.4 298.9h0"/><path class="k118" d="M378.6 282.8h0"/><path class="k109" d="M389.0 292.4h0"/><path class="k99" d="M397.9 299.3h0"/><path class="k118" d="M381.9 286.1h0M386.0 289.4h0"/><path class="k109" d="M390.2 292.8h0"/><path class="k99" d="M399.1 299.6h0"/><path class="k118" d="M383.1 286.4h0M387.6 289.8h0"/><path class="k109" d="M393.4 295.9h0"/><path class="k99" d="M400.8 299.9h0"/><path class="k118" d="M380.2 283.3h0M384.5 286.8h0M388.9 290.1h0"/><path class="k109" d="M394.8 296.3h0"/><path class="k99" d="M402.2 300.3h0"/><path class="k118" d="M381.6 283.7h0M385.9 287.1h0"/><path class="k109" d="M392.0 293.3h0M396.2 296.6h0"/><path class="k118" d="M383.1 284.1h0"/><path class="k109" d="M393.3 293.6h0M397.9 297.0h0"/><path class="k118" d="M390.4 290.5h0"/><path class="k109" d="M394.7 293.9h0M399.5 297.4h0"/><path class="k118" d="M387.4 287.5h0"/><path class="k109" d="M396.3 294.3h0M400.6 297.6h0"/><path class="k118" d="M384.5 284.5h0M388.9 287.8h0"/><path class="k109" d="M397.7 294.7h0M402.2 298.0h0"/><path class="k118" d="M392.0 290.9h0M385.9 284.8h0"/><path class="k109" d="M399.2 295.0h0"/><path class="k118" d="M393.3 291.3h0"/><path class="k109" d="M400.6 295.3h0"/><path class="k118" d="M390.5 288.3h0M394.6 291.6h0"/><path class="k109" d="M402.0 295.6h0"/><path class="k118" d="M387.5 285.2h0M391.7 288.6h0M396.1 292.0h0"/><path class="k118" d="M389.0 285.6h0M393.0 288.9h0M397.6 292.4h0"/><path class="k118" d="M390.4 285.9h0M399.2 292.7h0"/><path class="k118" d="M391.7 286.3h0M400.7 293.1h0"/><path class="k118" d="M394.8 289.4h0M402.1 293.4h0"/><path class="k118" d="M396.4 289.8h0"/><path class="k118" d="M393.2 286.7h0M397.8 290.1h0"/><path class="k118" d="M394.7 287.1h0M398.9 290.4h0"/><path class="k118" d="M396.4 287.5h0M400.5 290.7h0"/><path class="k118" d="M397.7 287.8h0M402.2 291.1h0"/><path class="k118" d="M399.1 288.1h0"/><path class="k118" d="M400.6 288.4h0"/><path class="k118" d="M402.1 288.8h0"/></g>
<g id="text_27">
<text style="font-size:12.66px;font-family:'Liberation Sans',sans-serif;text-anchor:middle" textLength="200.11" lengthAdjust="spacingAndGlyphs" dy="-0.5" x="442.9872" y="72.4152" transform="rotate(-0 442.9872 72.4152)">LiDAR Point 3D Coordinate Graph</text>
</g>
<g id="legend_1">
<g id="patch_6">
<path d="M 568.564075 101.093325 
L 626.0672 101.093325 
Q 628.0672 101.093325 628.0672 99.093325 
L 628.0672 85.4152 
Q 628.0672 83.4152 626.0672 83.4152 
L 568.564075 83.4152 
Q 566.564075 83.4152 566.564075 85.4152 
L 566.564075 99.093325 
Q 566.564075 101.093325 568.564075 101.093325 
z
" style="fill: #ffffff; opacity: 0.8; stroke: #cccccc; stroke-linejoin: miter"/>
</g>
<g id="Path3DCollection_1">
<path d="M 580.564075 94.624705 
C 581.157087 94.624705 581.725891 94.389099 582.145214 93.969776 
C 582.564537 93.550453 582.800143 92.98165 582.800143 92.388638 
C 582.800143 91.795625 582.564537 91.226822 582.145214 90.807499 
C 581.725891 90.388176 581.157087 90.15257 580.564075 90.15257 
C 579.971063 90.15257 579.402259 90.388176 578.982936 90.807499 
C 578.563613 91.226822 578.328007 91.795625 578.328007 92.388638 
C 578.328007 92.98165 578.563613 93.550453 578.982936 93.969776 
C 579.402259 94.389099 579.971063 94.624705 580.564075 94.624705 
z
" style="fill: #472e7c; stroke: #472e7c"/>
</g>
<g id="text_28">
<text style="font-size:10.55px;font-family:'Liberation Sans',sans-serif;text-anchor:start" textLength="25.50" lengthAdjust="spacingAndGlyphs" dy="-0.5" x="598.564075" y="95.013638" transform="rotate(-0 598.564075 95.013638)">point</text>
</g>
</g>
</g>
<g id="axes_2">
<g id="patch_7">
<path d="M 206.136 576.936 
L 301.464 576.936 
L 301.464 482.04 
L 206.136 482.04 
z
" style="fill: #ffffff"/>
</g>
<defs>
<path id="mee19b3fd5f" d="M 0 3 
C 0.795609 3 1.55874 2.683901 2.12132 2.12132 
C 2.683901 1.55874 3 0.795609 3 0 
C 3 -0.795609 2.683901 -1.55874 2.12132 -2.12132 
C 1.55874 -2.683901 0.795609 -3 0 -3 
C -0.795609 -3 -1.55874 -2.683901 -2.12132 -2.12132 
C -2.683901 -1.55874 -3 -0.795609 -3 0 
C -3 0.795609 -2.683901 1.55874 -2.12132 2.12132 
C -1.55874 2.683901 -0.795609 3 0 3 
z
" style="stroke: #90ee90"/>
</defs><path d="M228.1 482.1L264.4 482.1L270.7 484.4L277.6 489.6L284.5 496.5L290.3 503.4L293.8 510.3L296.6 518.4L298.1 526.5L298.1 533.4L297.2 540.3L294.9 548.4L291.5 555.3L286.8 561.0L281.1 566.8L274.2 572.0L267.8 576.9L226.4 576.9L220.0 572.5L214.3 567.9L212.0 563.3L213.1 558.7L212.5 554.1L216.6 549.5L219.5 546.0L218.9 544.3L213.1 549.5L206.2 554.1L206.2 500.0L208.5 496.5L213.1 491.9L218.9 487.9L224.6 484.4ZM206.2 527.8L209.7 528.4L212.5 527.0L214.0 523.6L214.5 520.9L216.0 521.3L217.7 523.6L221.2 527.0L225.2 528.8L229.6 527.0L225.2 530.8L220.0 532.2L213.1 532.2L206.2 531.3ZM214.5 539.7L216.0 539.4L216.2 540.9L214.7 541.2Z" style="fill:#90ee90;fill-rule:evenodd"/>
<g id="PathCollection_1"/>
<g id="matplotlib.axis_1">
<g id="xtick_24">
<g id="line2d_27">
<defs>
<path id="mad9ac045c3" d="M 0 0 
L 0 3.5 
" style="stroke: #000000; stroke-width: 0.8"/>
</defs>
<g>
<use href="#mad9ac045c3" x="218.386422" y="576.936" style="stroke: #000000; stroke-width: 0.8"/>
</g>
</g>
<g id="text_29">
<text style="font-size:10.55px;font-family:'Liberation Sans',sans-serif;text-anchor:middle" textLength="27.47" lengthAdjust="spacingAndGlyphs" dy="-0.5" x="218.386422" y="591.534437" transform="rotate(-0 218.386422 591.534437)">−500</text>
</g>
</g>
<g id="xtick_25">
<g id="line2d_28">
<g>
<use href="#mad9ac045c3" x="253.588786" y="576.936" style="stroke: #000000; stroke-width: 0.8"/>
</g>
</g>
<g id="text_30">
<text style="font-size:10.55px;font-family:'Liberation Sans',sans-serif;text-anchor:middle" textLength="6.36" lengthAdjust="spacingAndGlyphs" dy="-0.5" x="253.588786" y="591.534437" transform="rotate(-0 253.588786 591.534437)">0</text>
</g>
</g>
<g id="xtick_26">
<g id="line2d_29">
<g>
<use href="#mad9ac045c3" x="288.791149" y="576.936" style="stroke: #000000; stroke-width: 0.8"/>
</g>
</g>
<g id="text_31">
<text style="font-size:10.55px;font-family:'Liberation Sans',sans-serif;text-anchor:middle" textLength="19.09" lengthAdjust="spacingAndGlyphs" dy="-0.5" x="288.791149" y="591.534437" transform="rotate(-0 288.791149 591.534437)">500</text>
</g>
</g>
<g id="text_32">
<text style="font-size:10.55px;font-family:'Liberation Sans',sans-serif;text-anchor:middle" textLength="33.07" lengthAdjust="spacingAndGlyphs" dy="-0.5" x="253.8" y="605.212562" transform="rotate(-0 253.8 605.212562)">X (cm)</text>
</g>
</g>
<g id="matplotlib.axis_2">
<g id="ytick_1">
<g id="line2d_30">
<defs>
<path id="m8968120b7a" d="M 0 0 
L -3.5 0 
" style="stroke: #000000; stroke-width: 0.8"/>
</defs>
<g>
<use href="#m8968120b7a" x="206.136" y="564.720964" style="stroke: #000000; stroke-width: 0.8"/>
</g>
</g>
<g id="text_33">
<text style="font-size:10.55px;font-family:'Liberation Sans',sans-serif;text-anchor:end" textLength="27.47" lengthAdjust="spacingAndGlyphs" dy="-0.5" x="199.136" y="568.520183" transform="rotate(-0 199.136 568.520183)">−500</text>
</g>
</g>
<g id="ytick_2">
<g id="line2d_31">
<g>
<use href="#m8968120b7a" x="206.136" y="529.417393" style="stroke: #000000; stroke-width: 0.8"/>
</g>
</g>
<g id="text_34">
<text style="font-size:10.55px;font-family:'Liberation Sans',sans-serif;text-anchor:end" textLength="6.36" lengthAdjust="spacingAndGlyphs" dy="-0.5" x="199.136" y="533.216612" transform="rotate(-0 199.136 533.216612)">0</text>
</g>
</g>
<g id="ytick_3">
<g id="line2d_32">
<g>
<use href="#m8968120b7a" x="206.136" y="494.113821" style="stroke: #000000; stroke-width: 0.8"/>
</g>
</g>
<g id="text_35">
<text style="font-size:10.55px;font-family:'Liberation Sans',sans-serif;text-anchor:end" textLength="19.09" lengthAdjust="spacingAndGlyphs" dy="-0.5" x="199.136" y="497.91304" transform="rotate(-0 199.136 497.91304)">500</text>
</g>
</g>
<g id="text_36">
<text style="font-size:10.55px;font-family:'Liberation Sans',sans-serif;text-anchor:middle" textLength="32.33" lengthAdjust="spacingAndGlyphs" dy="-0.5" x="165.589125" y="529.488" transform="rotate(-90 165.589125 529.488)">Y (cm)</text>
</g>
</g>
<g id="patch_8">
<path d="M 206.136 576.936 
L 206.136 482.04 
" style="fill: none; stroke: #000000; stroke-width: 0.8; stroke-linejoin: miter; stroke-linecap: square"/>
</g>
<g id="patch_9">
<path d="M 301.464 576.936 
L 301.464 482.04 
" style="fill: none; stroke: #000000; stroke-width: 0.8; stroke-linejoin: miter; stroke-linecap: square"/>
</g>
<g id="patch_10">
<path d="M 206.136 576.936 
L 301.464 576.936 
" style="fill: none; stroke: #000000; stroke-width: 0.8; stroke-linejoin: miter; stroke-linecap: square"/>
</g>
<g id="patch_11">
<path d="M 206.136 482.04 
L 301.464 482.04 
" style="fill: none; stroke: #000000; stroke-width: 0.8; stroke-linejoin: miter; stroke-linecap: square"/>
</g>
<g id="text_37">
<text style="font-size:12.66px;font-family:'Liberation Sans',sans-serif;text-anchor:middle" textLength="200.11" lengthAdjust="spacingAndGlyphs" dy="-0.5" x="253.8" y="476.04" transform="rotate(-0 253.8 476.04)">LiDAR Point 2D Coordinate Graph</text>
</g>
<g id="legend_2">
<g id="patch_12">
<path d="M 313.2304 519.39625 
L 370.733525 519.39625 
Q 372.733525 519.39625 372.733525 517.39625 
L 372.733525 489.04 
Q 372.733525 487.04 370.733525 487.04 
L 313.2304 487.04 
Q 311.2304 487.04 311.2304 489.04 
L 311.2304 517.39625 
Q 311.2304 519.39625 313.2304 519.39625 
z
" style="fill: #ffffff; opacity: 0.8; stroke: #cccccc; stroke-linejoin: miter"/>
</g>
<g id="PathCollection_2">
<g>
<use href="#mee19b3fd5f" x="325.2304" y="496.013437" style="fill: #90ee90; stroke: #90ee90"/>
</g>
</g>
<g id="text_38">
<text style="font-size:10.55px;font-family:'Liberation Sans',sans-serif;text-anchor:start" textLength="25.50" lengthAdjust="spacingAndGlyphs" dy="-0.5" x="343.2304" y="498.638437" transform="rotate(-0 343.2304 498.638437)">point</text>
</g>
<g id="PathCollection_3">
<defs>
<path id="m853d722b57" d="M 0 3 
C 0.795609 3 1.55874 2.683901 2.12132 2.12132 
C 2.683901 1.55874 3 0.795609 3 0 
C 3 -0.795609 2.683901 -1.55874 2.12132 -2.12132 
C 1.55874 -2.683901 0.795609 -3 0 -3 
C -0.795609 -3 -1.55874 -2.683901 -2.12132 -2.12132 
C -2.683901 -1.55874 -3 -0.795609 -3 0 
C -3 0.795609 -2.683901 1.55874 -2.12132 2.12132 
C -1.55874 2.683901 -0.795609 3 0 3 
z
" style="stroke: #0000ff"/>
</defs>
<g>
<use href="#m853d722b57" x="325.2304" y="510.691562" style="fill: #0000ff; stroke: #0000ff"/>
</g>
</g>
<g id="text_39">
<text style="font-size:10.55px;font-family:'Liberation Sans',sans-serif;text-anchor:start" textLength="19.86" lengthAdjust="spacingAndGlyphs" dy="-0.5" x="343.2304" y="513.316562" transform="rotate(-0 343.2304 513.316562)">wall</text>
</g>
</g>
</g>
<g id="axes_3">
<g id="patch_13">
<path d="M 486.72 576.936 
L 777.6 576.936 
L 777.6 482.04 
L 486.72 482.04 
z
" style="fill: #ffffff"/>
</g>
<g id="patch_14">
<path d="M 486.72 576.936 
L 552.681636 576.936 
L 552.681636 563.115576 
L 486.72 563.115576 
z
" clip-path="url(#pdc807046db)" style="fill: #0000ff; stroke: #0000ff; stroke-width: 0.4; stroke-linejoin: miter"/>
</g>
<g id="patch_15">
<path d="M 552.681636 576.936 
L 618.643271 576.936 
L 618.643271 529.965664 
L 552.681636 529.965664 
z
" clip-path="url(#pdc807046db)" style="fill: #0000ff; stroke: #0000ff; stroke-width: 0.4; stroke-linejoin: miter"/>
</g>
<g id="patch_16">
<path d="M 618.643271 576.936 
L 684.604907 576.936 
L 684.604907 508.789208 
L 618.643271 508.789208 
z
" clip-path="url(#pdc807046db)" style="fill: #0000ff; stroke: #0000ff; stroke-width: 0.4; stroke-linejoin: miter"/>
</g>
<g id="patch_17">
<path d="M 684.604907 576.936 
L 750.566543 576.936 
L 750.566543 486.498201 
L 684.604907 486.498201 
z
" clip-path="url(#pdc807046db)" style="fill: #0000ff; stroke: #0000ff; stroke-width: 0.4; stroke-linejoin: miter"/>
</g>
<g id="patch_18">
<path d="M 750.566543 576.936 
L 816.528178 576.936 
L 816.528178 525.63484 
L 750.566543 525.63484 
z
" clip-path="url(#pdc807046db)" style="fill: #0000ff; stroke: #0000ff; stroke-width: 0.4; stroke-linejoin: miter"/>
</g>
<g id="matplotlib.axis_3">
<g id="xtick_27">
<g id="line2d_33">
<g>
<use href="#mad9ac045c3" x="486.72" y="576.936" style="stroke: #000000; stroke-width: 0.8"/>
</g>
</g>
<g id="text_40">
<text style="font-size:10.55px;font-family:'Liberation Sans',sans-serif;text-anchor:middle" textLength="6.36" lengthAdjust="spacingAndGlyphs" dy="-0.5" x="486.72" y="591.534437" transform="rotate(-0 486.72 591.534437)">0</text>
</g>
</g>
<g id="xtick_28">
<g id="line2d_34">
<g>
<use href="#mad9ac045c3" x="522.76461" y="576.936" style="stroke: #000000; stroke-width: 0.8"/>
</g>
</g>
<g id="text_41">
<text style="font-size:10.55px;font-family:'Liberation Sans',sans-serif;text-anchor:middle" textLength="19.09" lengthAdjust="spacingAndGlyphs" dy="-0.5" x="522.76461" y="591.534437" transform="rotate(-0 522.76461 591.534437)">100</text>
</g>
</g>
<g id="xtick_29">
<g id="line2d_35">
<g>
<use href="#mad9ac045c3" x="558.809219" y="576.936" style="stroke: #000000; stroke-width: 0.8"/>
</g>
</g>
<g id="text_42">
<text style="font-size:10.55px;font-family:'Liberation Sans',sans-serif;text-anchor:middle" textLength="19.09" lengthAdjust="spacingAndGlyphs" dy="-0.5" x="558.809219" y="591.534437" transform="rotate(-0 558.809219 591.534437)">200</text>
</g>
</g>
<g id="xtick_30">
<g id="line2d_36">
<g>
<use href="#mad9ac045c3" x="594.853829" y="576.936" style="stroke: #000000; stroke-width: 0.8"/>
</g>
</g>
<g id="text_43">
<text style="font-size:10.55px;font-family:'Liberation Sans',sans-serif;text-anchor:middle" textLength="19.09" lengthAdjust="spacingAndGlyphs" dy="-0.5" x="594.853829" y="591.534437" transform="rotate(-0 594.853829 591.534437)">300</text>
</g>
</g>
<g id="xtick_31">
<g id="line2d_37">
<g>
<use href="#mad9ac045c3" x="630.898439" y="576.936" style="stroke: #000000; stroke-width: 0.8"/>
</g>
</g>
<g id="text_44">
<text style="font-size:10.55px;font-family:'Liberation Sans',sans-serif;text-anchor:middle" textLength="19.09" lengthAdjust="spacingAndGlyphs" dy="-0.5" x="630.898439" y="591.534437" transform="rotate(-0 630.898439 591.534437)">400</text>
</g>
</g>
<g id="xtick_32">
<g id="line2d_38">
<g>
<use href="#mad9ac045c3" x="666.943048" y="576.936" style="stroke: #000000; stroke-width: 0.8"/>
</g>
</g>
<g id="text_45">
<text style="font-size:10.55px;font-family:'Liberation Sans',sans-serif;text-anchor:middle" textLength="19.09" lengthAdjust="spacingAndGlyphs" dy="-0.5" x="666.943048" y="591.534437" transform="rotate(-0 666.943048 591.534437)">500</text>
</g>
</g>
<g id="xtick_33">
<g id="line2d_39">
<g>
<use href="#mad9ac045c3" x="702.987658" y="576.936" style="stroke: #000000; stroke-width: 0.8"/>
</g>
</g>
<g id="text_46">
<text style="font-size:10.55px;font-family:'Liberation Sans',sans-serif;text-anchor:middle" textLength="19.09" lengthAdjust="spacingAndGlyphs" dy="-0.5" x="702.987658" y="591.534437" transform="rotate(-0 702.987658 591.534437)">600</text>
</g>
</g>
<g id="xtick_34">
<g id="line2d_40">
<g>
<use href="#mad9ac045c3" x="739.032268" y="576.936" style="stroke: #000000; stroke-width: 0.8"/>
</g>
</g>
<g id="text_47">
<text style="font-size:10.55px;font-family:'Liberation Sans',sans-serif;text-anchor:middle" textLength="19.09" lengthAdjust="spacingAndGlyphs" dy="-0.5" x="739.032268" y="591.534437" transform="rotate(-0 739.032268 591.534437)">700</text>
</g>
</g>
<g id="xtick_35">
<g id="line2d_41">
<g>
<use href="#mad9ac045c3" x="775.076877" y="576.936" style="stroke: #000000; stroke-width: 0.8"/>
</g>
</g>
<g id="text_48">
<text style="font-size:10.55px;font-family:'Liberation Sans',sans-serif;text-anchor:middle" textLength="19.09" lengthAdjust="spacingAndGlyphs" dy="-0.5" x="775.076877" y="591.534437" transform="rotate(-0 775.076877 591.534437)">800</text>
</g>
</g>
</g>
<g id="matplotlib.axis_4">
<g id="ytick_4">
<g id="line2d_42">
<g>
<use href="#m8968120b7a" x="486.72" y="576.936" style="stroke: #000000; stroke-width: 0.8"/>
</g>
</g>
<g id="text_49">
<text style="font-size:10.55px;font-family:'Liberation Sans',sans-serif;text-anchor:end" textLength="6.36" lengthAdjust="spacingAndGlyphs" dy="-0.5" x="479.72" y="580.735219" transform="rotate(-0 479.72 580.735219)">0</text>
</g>
</g>
<g id="ytick_5">
<g id="line2d_43">
<g>
<use href="#m8968120b7a" x="486.72" y="545.091705" style="stroke: #000000; stroke-width: 0.8"/>
</g>
</g>
<g id="text_50">
<text style="font-size:10.55px;font-family:'Liberation Sans',sans-serif;text-anchor:end" textLength="25.45" lengthAdjust="spacingAndGlyphs" dy="-0.5" x="479.72" y="548.890923" transform="rotate(-0 479.72 548.890923)">1000</text>
</g>
</g>
<g id="ytick_6">
<g id="line2d_44">
<g>
<use href="#m8968120b7a" x="486.72" y="513.247409" style="stroke: #000000; stroke-width: 0.8"/>
</g>
</g>
<g id="text_51">
<text style="font-size:10.55px;font-family:'Liberation Sans',sans-serif;text-anchor:end" textLength="25.45" lengthAdjust="spacingAndGlyphs" dy="-0.5" x="479.72" y="517.046628" transform="rotate(-0 479.72 517.046628)">2000</text>
</g>
</g>
</g>
<g id="patch_19">
<path d="M 486.72 576.936 
L 486.72 482.04 
" style="fill: none; stroke: #000000; stroke-width: 0.8; stroke-linejoin: miter; stroke-linecap: square"/>
</g>
<g id="patch_20">
<path d="M 777.6 576.936 
L 777.6 482.04 
" style="fill: none; stroke: #000000; stroke-width: 0.8; stroke-linejoin: miter; stroke-linecap: square"/>
</g>
<g id="patch_21">
<path d="M 486.72 576.936 
L 777.6 576.936 
" style="fill: none; stroke: #000000; stroke-width: 0.8; stroke-linejoin: miter; stroke-linecap: square"/>
</g>
<g id="patch_22">
<path d="M 486.72 482.04 
L 777.6 482.04 
" style="fill: none; stroke: #000000; stroke-width: 0.8; stroke-linejoin: miter; stroke-linecap: square"/>
</g>
<g id="text_52">
<text style="font-size:12.66px;font-family:'Liberation Sans',sans-serif;text-anchor:middle" textLength="105.73" lengthAdjust="spacingAndGlyphs" dy="-0.5" x="632.16" y="476.04" transform="rotate(-0 632.16 476.04)">Height Histogram</text>
</g>
<g id="legend_3">
<g id="patch_23">
<path d="M 493.72 504.718125 
L 558.777812 504.718125 
Q 560.777812 504.718125 560.777812 502.718125 
L 560.777812 489.04 
Q 560.777812 487.04 558.777812 487.04 
L 493.72 487.04 
Q 491.72 487.04 491.72 489.04 
L 491.72 502.718125 
Q 491.72 504.718125 493.72 504.718125 
z
" style="fill: #ffffff; opacity: 0.8; stroke: #cccccc; stroke-linejoin: miter"/>
</g>
<g id="patch_24">
<path d="M 495.72 498.638437 
L 515.72 498.638437 
L 515.72 491.638437 
L 495.72 491.638437 
z
" style="fill: #0000ff; stroke: #0000ff; stroke-width: 0.4; stroke-linejoin: miter"/>
</g>
<g id="text_53">
<text style="font-size:10.55px;font-family:'Liberation Sans',sans-serif;text-anchor:start" textLength="33.06" lengthAdjust="spacingAndGlyphs" dy="-0.5" x="523.72" y="498.638437" transform="rotate(-0 523.72 498.638437)">Height</text>
</g>
</g>
</g>
</g>
<defs>
<clipPath id="p403195400d">
<rect x="252.9072" y="78.4152" width="380.16" height="380.16"/>
</clipPath>
<clipPath id="p30dcc7a29b">
<rect x="206.136" y="482.04" width="95.328" height="94.896"/>
</clipPath>
<clipPath id="pdc807046db">
<rect x="486.72" y="482.04" width="290.88" height="94.896"/>
</clipPath>
</defs>
</svg>

</body></html>
